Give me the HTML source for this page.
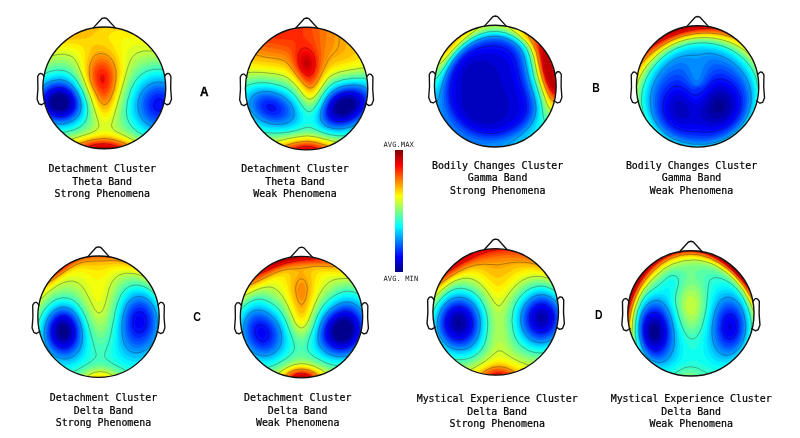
<!DOCTYPE html>
<html lang="en"><head><meta charset="utf-8"><title>EEG topographic maps</title>
<style>
html,body{margin:0;padding:0;background:#fff}
body{width:800px;height:438px;overflow:hidden;position:relative}
svg{display:block;position:absolute;left:0;top:0}
.ct{fill:none;stroke:#1a1a1a;stroke-opacity:.6;stroke-width:.55;stroke-linejoin:round}
.ol{fill:none;stroke:#111;stroke-width:1.35;stroke-linejoin:round;stroke-linecap:round}
.lb{font-family:"DejaVu Sans Mono","Liberation Mono",monospace;font-size:9.92px;fill:#000;stroke:#000;stroke-width:.22px;text-anchor:middle}
.sm{font-family:"DejaVu Sans Mono","Liberation Mono",monospace;font-size:7.1px;fill:#222;letter-spacing:.1px}
.lt{font-family:"Liberation Sans",sans-serif;font-size:12.75px;font-weight:bold;fill:#000}
</style></head><body>
<svg width="800" height="438" viewBox="0 0 800 438">
<defs>
<filter id="bl" x="-5%" y="-5%" width="110%" height="110%"><feGaussianBlur stdDeviation=".7"/></filter>
<clipPath id="hc"><circle cx="0" cy="0" r="60.7"/></clipPath>
<linearGradient id="jet" x1="0" y1="0" x2="0" y2="1">
<stop offset="0" stop-color="#800000"/><stop offset=".125" stop-color="#ff0000"/><stop offset=".375" stop-color="#ffff00"/><stop offset=".5" stop-color="#80ff80"/><stop offset=".625" stop-color="#00ffff"/><stop offset=".875" stop-color="#0000ff"/><stop offset="1" stop-color="#000080"/>
</linearGradient>
</defs>
<rect width="800" height="438" fill="#fff"/>

<g transform="translate(104.3 87.9) scale(1.012 1.003)">
<g clip-path="url(#hc)">
<g filter="url(#bl)">
<rect x="-64" y="-64" width="128" height="128" fill="#00008c"/>
<path fill="#0000a6" d="M64.0 64.3l-128 0.1 -0.4 -0.4 0 -128 0.4 -0.4 128 0 0.4 0.4 -0.1 128zM-41.8 22.0l2.8 -1.3 2.4 -2.7 0.7 -3 -0.5 -3 -2 -3 -2.6 -1.8 -3 -0.7 -4 0.7 -2.7 1.8 -1.5 2 -0.8 3 0.5 3 1.5 2.3 3 2.2 3 0.8z"/>
<path fill="#0000bf" d="M64.0 64.3l-128 0 -0.3 -0.3 -0.1 -128 0.4 -0.4 128 0 0.4 0.4 -0.1 128zM-39.5 23.0l3.5 -2.7 1.6 -3.3 0 -4 -1.8 -4 -2.8 -2.6 -4 -1.5 -4 0.2 -4 1.8 -2.7 3.1 -1 3 0 3 1.7 3.7 2.4 2.3 3.6 1.6 4 0.3z"/>
<path fill="#0000d9" d="M64.0 64.3l-78 0.1 -50 -0.1 -0.3 -0.3 0 -128 0.3 -0.3 128 0 0.3 0.3zM-40.6 25.0l4.1 -2 2.6 -3 1.2 -4 -0.8 -5 -2.5 -4 -4 -2.8 -4 -0.9 -5 0.7 -4 2.5 -2.5 3.5 -1 4 0.7 4 2.7 4 3.1 2.1 5 1.3z"/>
<path fill="#0000f2" d="M64.0 64.3l-77 0.1 -51 -0.1 -0.3 -0.3 0 -128 0.3 -0.3 128 0 0.3 0.3zM-39.1 26.0l2.2 -1 2.5 -2 2.5 -4 0.5 -5 -1.5 -5 -3.2 -4 -4.9 -2.7 -5 -0.4 -5 1.4 -4 3.1 -2.5 4.6 -0.4 5 1.4 4 3.5 3.9 4 2.1 5 0.9z"/>
<path fill="#000dff" d="M64.0 64.3l-76 0.1 -52.3 -0.4 0 -128 0.3 -0.3 128 0 0.3 0.3zM-41.6 28.0l5.6 -2 4 -3.7 1.2 -2.3 0.7 -3 -0.4 -5 -2.5 -5.4 -4 -3.9 -5 -2 -3 -0.2 -3 0.3 -5.2 2.2 -4 4 -2.1 5 0.1 5 2.3 5 3.9 3.6 5 2.1 3 0.4z"/>
<path fill="#0026ff" d="M64.0 64.2l-75 0.2 -53.3 -0.4 0 -128 0.3 -0.3 128.3 0.3zM-40.0 29.0l3 -1 3 -1.7 2 -1.8 1.7 -2.5 1.1 -3 0.4 -3 -1.1 -6 -3.1 -5.3 -2 -2 -3 -2 -3 -1.1 -3 -0.5 -6 0.9 -5 2.6 -4 4.6 -1.9 5.8 0 3 0.7 3 3.2 5 5 3.6 6 1.7zM56.8 24.0l2.2 -1.3 1.9 -2.7 0.5 -2 -0.3 -3 -1.1 -2.1 -2 -2 -2 -1 -3 0 -2.3 1.1 -1.9 2 -1 3 0.2 3 1 2.3 2 2 3 1.1z"/>
<path fill="#0040ff" d="M64.0 64.2l-74 0.2 -54.3 -0.4 0.3 -128.3 128.3 0.3 -0.3 75.9 -2 -2.8 -3 -2.2 -3 -1.1 -4 0.2 -3 1.3 -2.8 2.7 -1.6 3 -0.7 4 0.7 4 1.5 3 2.9 2.8 3 1.3 4 0.3 3 -0.9 3 -2.1 2 -2.8zM-38.8 30.0l2.8 -1 3.2 -2 2.1 -2 1.9 -3 0.9 -3 0.3 -3 -0.4 -3.4 -1.1 -3.6 -1.6 -3 -2.3 -3 -3 -2.5 -3 -1.6 -6 -1.1 -4 0.5 -3 1 -3 1.7 -2.4 2 -3.6 5.1 -1 2.9 -0.4 3 0.2 3 0.9 3 3.4 5 2.9 2.4 3 1.6 3 1.1 4 0.6z"/>
<path fill="#0059ff" d="M64.0 64.2l-128.2 -0.2 0.2 -128.3 128.3 0.3 -0.3 70.8 -3 -2.2 -4 -1.7 -4 -0.3 -4 1.2 -3.3 2.2 -2.4 3 -1.7 4 -0.6 4 0.5 4 1.7 4 2.5 3 3.3 2.3 4 1.2 4 -0.1 4 -1.4 3 -2.3zM-37.7 31.0l3.7 -1.6 3 -2.2 2 -2.3 1.5 -2.9 0.8 -3 0.1 -4 -0.4 -3 -1.4 -4 -2.3 -4 -2.3 -2.6 -3 -2.4 -3 -1.5 -3 -0.8 -4 -0.2 -4 0.7 -3 1.1 -5.3 3.7 -2.5 3 -1.7 3 -1 3 -0.4 4 0.4 3 1.1 3 1.8 3 2.6 2.8 6 3.6 7 1.5 4 -0.2z"/>
<path fill="#0073ff" d="M64.0 64.2l-128.2 -0.2 0.2 -43.1 3.3 5.1 2.7 2.5 3 1.9 6 2.2 7 0.5 7 -1.7 5.1 -3.4 1.9 -2.3 1.5 -2.7 1.1 -6 -1.2 -7 -3.4 -6.7 -5 -5 -3 -1.7 -3 -1 -3 -0.4 -4 0.2 -6 1.9 -3 1.9 -3 2.7 -2.5 3.1 -1.5 2.7 0 -72 128.2 0.3 -0.2 67.4 -5 -2.7 -4 -0.8 -4 0.3 -4 1.6 -3 2.3 -3.1 3.9 -1.6 4 -0.8 5 0.7 5 1.6 4 3.1 4 3.1 2.3 4.6 1.7 4.4 0.3 4 -0.9 4 -2.2z"/>
<path fill="#008cff" d="M64.0 64.2l-128.2 -0.2 0.2 -40 4.4 5 5.6 3.4 7 1.8 7 -0.1 4 -1 3 -1.3 4.9 -3.8 2.9 -5 0.9 -6 -1.2 -7 -3.5 -7.1 -5 -5.4 -3 -1.8 -3 -1.2 -6 -0.6 -7 1.5 -5.9 3.6 -5.1 5.6 0 -68.8 128.2 0.2 -0.2 64.4 -5 -2.2 -4 -0.8 -5 0.5 -4 1.7 -4 3.1 -3 4 -2.1 5.3 -0.7 5 0.5 5 1.9 5 2.9 4 3.6 3 4.9 2.2 5 0.6 5 -0.7 4 -1.9z"/>
<path fill="#00a6ff" d="M64.0 64.2l-128.2 -0.2 0.2 -37.5 5 4.6 6 3.1 7 1.4 7 -0.3 7 -2.5 4.8 -3.8 3 -5 1 -6 -1 -7 -1.5 -4 -2.1 -4 -4.2 -5.3 -3 -2.3 -3 -1.6 -3 -0.9 -4 -0.4 -7 1.1 -6 3 -6 5.5 0 -66.3 128.2 0.2 -0.2 61.8 -5 -2 -5 -0.7 -5 0.7 -5 2.3 -4 3.4 -3.1 4.5 -2.2 6 -0.7 6 0.7 5 1.9 5 3.4 4.7 4 3.3 5 2.3 5 0.9 5 -0.5 5 -1.8z"/>
<path fill="#00bfff" d="M64.0 64.1l-128.2 -0.1 0.2 -35.2 5.3 4.2 6.7 2.9 8 1.1 7 -0.8 6 -2.4 5 -4.1 1.9 -2.7 1.1 -2.7 0.9 -6.3 -1.1 -7 -3.5 -8 -4.5 -6 -2.8 -2.5 -3 -1.7 -3 -1.1 -4 -0.7 -7 0.8 -7 3.1 -6 4.9 0 -64 128.2 0.2 -0.2 59.3 -6 -2 -5 -0.5 -6 1.3 -5 2.7 -4 3.8 -3.4 5.4 -2 6 -0.6 6 0.7 6 1.9 5 3.4 4.8 4 3.5 5 2.6 6 1.4 6 -0.2 5 -1.7z"/>
<path fill="#00d9ff" d="M64.0 64.1l-128.2 -0.1 0.2 -33.1 6 4.2 7 2.5 8 0.8 7 -1.1 6 -2.4 5 -4.1 3 -5.4 1 -6.4 -1.3 -8 -3.7 -8.8 -5 -6.6 -3 -2.6 -3 -1.7 -3 -1.1 -4 -0.7 -7 0.8 -6 2.3 -7 5 0 -61.8 128.2 0.2 -0.2 56.9 -7 -2 -5 -0.2 -6 1.4 -5 2.7 -4.4 4.2 -3.6 5.9 -2.1 6.1 -1 7 0.6 6 2.2 6 3.4 5 4.6 4 5.3 2.8 6 1.6 6 0.1 6 -1.6z"/>
<path fill="#00f2ff" d="M64.0 64.1l-128.1 -0.1 0.1 -31 6.5 4 7.5 2.3 8 0.4 7 -1.2 6.1 -2.5 4.9 -4 3 -5.3 1.1 -6.7 -0.3 -4 -1.1 -5 -3.7 -8.9 -5 -7.2 -3 -2.8 -3 -2 -3 -1.2 -4 -0.9 -7 0.4 -7 2.5 -7 4.6 0 -59.7 128.2 0.2 -0.2 54.5 -7 -1.8 -6 -0.2 -6 1.5 -6 3.6 -4.2 4.4 -3.8 6.7 -2.3 7.3 -0.8 7 0.7 6 2.1 6 3.4 5 4.9 4.4 6 3.2 7 1.9 6 0.2 6 -1.4z"/>
<path fill="#0dfff2" d="M64.0 64.1l-128.1 -0.1 0.1 -28.9 7 3.9 7 1.9 8 0.3 8 -1.4 6.4 -2.8 4.8 -4 2.8 -5 1.2 -7 -0.3 -4 -1 -5 -3.9 -9.9 -5 -7.7 -3 -3.2 -3 -2.2 -3 -1.5 -4 -1 -7 0.1 -7 2.1 -8 4.6 0 -57.5 128.2 0.2 -0.2 52.2 -8 -1.9 -6 0.1 -6 1.6 -6 3.6 -4.9 5.4 -3.8 7 -2.4 8 -0.9 8 0.6 6 2.1 6 3.3 5 5 4.5 7 3.9 7 2.1 7 0.4 6 -1.2z"/>
<path fill="#26ffd9" d="M64.0 64.1l-128.1 -0.1 0.1 -26.7 7 3.5 8 1.8 9 -0.1 8 -1.8 6 -2.7 4.6 -4 2.7 -5 1 -7 -1.2 -9 -3.6 -10 -5.5 -9.2 -3 -3.5 -3 -2.5 -3 -1.7 -4 -1.3 -7 -0.2 -7 1.8 -9 4.7 0 -55.3 128.1 0.2 -0.1 49.7 -9 -1.7 -6 0.2 -7 2.1 -5.5 3.7 -4.5 5.1 -4.2 7.9 -2.7 9 -1.1 9 0.8 7 2.2 5.8 3.9 5.2 4.8 4 7.3 4 7 2.3 7 0.8 7 -1z"/>
<path fill="#40ffbf" d="M64.0 64.1l-128.1 -0.1 0.1 -24.3 7 3.1 8 1.5 9 -0.3 9 -2 6.6 -3 4.5 -4 2.5 -5 0.9 -7 -0.4 -5 -1 -5 -4.1 -10.9 -6 -10.2 -3 -3.6 -3 -2.5 -3 -1.7 -3 -1.1 -7 -0.5 -7 1.5 -10 4.7 0 -52.8 128.1 0.1 -0.1 47.3 -9 -1.7 -7 0.3 -7 2.2 -6 4.2 -5 6.3 -4 8.4 -3 10.5 -1 9.5 0.7 6 2.2 6 3.9 5 4.9 4 8.3 4.5 8 2.9 7 1 7 -0.7z"/>
<path fill="#59ffa6" d="M64.0 64.0l-128.1 0 0.1 -21.8 8 3 8 0.9 10 -0.8 9 -2.3 6.4 -3 4.4 -4 2.3 -5 0.7 -6 -0.3 -5 -0.9 -5 -3.8 -11 -3.4 -7 -3.4 -5.8 -3 -4 -3 -2.9 -3 -2 -3 -1.2 -3 -0.7 -4 -0.1 -7 1.3 -11 4.6 0 -50.3 128.1 0.1 -0.1 44.6 -10 -1.5 -7 0.3 -7 2.3 -6 4.2 -5 6.6 -4.4 9.5 -3.4 12 -1.2 10 0.3 5 1.3 5 2.3 4 2.7 3 8.6 6 11.8 5.5 9 2.1 8 -0.3z"/>
<path fill="#73ff8c" d="M64.0 64.0l-128.1 0 0.1 -19.1 8 2.5 8 0.6 10 -1.1 10.7 -2.9 6.6 -3 3.7 -3.2 2.4 -4.8 0.7 -6 -0.2 -5 -1.1 -6 -4 -12 -6.8 -13.5 -4 -5.7 -3 -3 -3 -2 -3 -1.2 -7 -0.7 -7 1.4 -11 4.2 0 -47.6 128.1 0.1 -0.1 41.8 -11 -1.3 -7 0.3 -4 1 -4 1.8 -5.6 4.4 -4.8 7 -4.6 11 -3.8 14 -1.2 11 0.4 5 1.2 4 1.8 3 3 3 9.2 6 14.4 6.9 8 2.2 4 0.3 4 -0.3z"/>
<path fill="#8cff73" d="M64.0 64.0l-128.1 0 0.1 -16 8 1.8 8 0.1 12 -1.9 11 -3.2 6.2 -2.8 3.7 -3 2.1 -4 0.7 -6 -1.4 -11 -3.8 -12 -8.5 -18 -3 -4.7 -3 -3.5 -3 -2.3 -3 -1.4 -3 -0.7 -4 -0.2 -6 0.9 -13 4.4 0 -44.6 128.1 0.1 -0.1 38.8 -13 -1.3 -7 0.6 -7 2.5 -3 2 -3 3 -2.5 3.4 -2.5 4.7 -5 13.5 -3.9 14.8 -1.4 12 0.4 4 1.3 4 2.4 3 3.8 3 14.4 8.2 12 5.8 7 2 7 0.3z"/>
<path fill="#a6ff59" d="M60.0 64.0l-124 0 0 -12.5 8 1 9 -0.7 13 -2.8 12 -3.7 5.3 -2.3 3.9 -3 1.7 -3 0.6 -5 -1.6 -12 -3.7 -12 -9.2 -20.9 -3 -5.6 -3 -4.1 -2 -1.9 -3 -1.8 -3 -1 -4 -0.4 -6 0.6 -15 4.2 0 -41.2 128.1 0.1 -0.1 35.4 -15 -1.1 -7 0.7 -4 1.2 -3 1.5 -5 4.5 -2.6 3.8 -2.4 5.1 -5 14.4 -4.7 17.5 -2 13 0.1 3 0.7 3 1.9 2.8 2.5 2.2 31.5 17.7 5 2.1z"/>
<path fill="#bfff40" d="M49.0 64.0l-113 0 0 -8.4 7 0 8 -1.3 29.3 -8.3 5.7 -2.4 3.7 -2.6 1.8 -3 0.4 -3 -2.1 -12 -3.9 -13 -11.9 -28.7 -2 -3.9 -2.4 -3.4 -4.6 -3.4 -3 -1 -4 -0.5 -5 0.4 -7 1.9 -10 1.7 0 -37.2 128 0.1 0 31.3 -5 -0.5 -8 0.4 -5 -0.5 -6 0.5 -6 2.2 -3 2.2 -2 2.2 -3.5 6.2 -3.5 9.9 -7.6 26.1 -4 18 0 3 0.6 2 1.3 2 2.3 2 22.2 12 12.9 9z"/>
<path fill="#d9ff26" d="M44.0 64.0l-108 0 0 -2.8 8 -2 18.2 -6.2 19.5 -6 7.8 -3 4.3 -3 1.2 -2 0.2 -2 -7.9 -26 -8 -20 -5.3 -14.9 -3 -5.3 -2 -1.9 -3 -1.7 -6 -1.3 -5 0.1 -6 1.4 -7 0.2 -6 0.8 0 -32.4 128 0 0 26.3 -7 -0.4 -9 1.1 -6 -0.6 -6 0.6 -3 0.9 -3 1.8 -3.6 4.3 -2.8 7 -6.3 24 -10.7 36 0.6 3 3 3 17.8 8.6 6 3.4 8.1 6 2.8 3z"/>
<path fill="#f2ff0d" d="M1.0 34.1l-2 -0.6 -1 -0.8 -2 -2.6 -2 -3.9 -13.5 -35.2 -5.5 -19.6 -2.6 -4.4 -4.2 -3 -5.2 -1.3 -5 -0.2 -7 1 -8 -0.9 -7 0 0 -26.6 128 0 0 19.1 -10 0.4 -10 2.3 -8 -0.9 -5 0.4 -4 1.5 -3 3.2 -2 6.3 -2.3 15.7 -2 10 -6.7 23.3 -2.8 7.7 -2.2 4.6 -3 3.6zM41.0 64.0l-95.1 0 6.7 -5 8.6 -4 8.8 -3.2 19.1 -5.8 8.9 -3.3 3 -0.5 4 1.1 13 5.2 11 5.1 7.9 5.4 3 3z"/>
<path fill="#fff200" d="M1.0 29.0l-3 -1.1 -3 -3.9 -10.9 -26 -4.1 -13 -2.7 -17 -1.9 -4 -3.4 -2.8 -4 -1.4 -6 -0.7 -8 0.5 -18 -5 0 -18.6 128 0 0 5 -9 2.2 -7 2.3 -6 2.6 -5.3 2.9 -7.8 -1 -4.9 -0.1 -4 0.9 -2.7 2.2 -0.8 2 -0.1 3 1.5 12 0.3 8 -0.6 8 -1.4 8 -3.7 14 -4.5 12.9 -3 5.4 -2 2zM38.0 64.0l-85.6 0 2.4 -3 2.6 -2 10.1 -5 21.5 -6.5 7 -1.8 4 -0.5 4 0.4 6 1.6 9 3.1 6 2.6 8.2 5.1 3.1 3z"/>
<path fill="#ffd900" d="M1.0 25.2l-3 -1.1 -3 -3.7 -6 -13 -5.3 -13.4 -2.6 -11 -0.4 -6 0.1 -12 -0.6 -3 -1.1 -2 -2.3 -2 -3.8 -1.5 -7 -1 -8 0.4 -5.5 -2.9 -5.5 -4 -3.8 -4 -2.4 -4 -1.7 -5 83.7 0 -1.5 7 -6.3 -0.1 -5 0.8 -4 2 -1.6 2.3 -0.1 2 0.6 2 6.2 10 3.1 7 1.5 7 0.3 8 -1.8 13 -4.7 16 -2.5 5.9 -2 3.4 -2 2zM35.0 64.0l-78.3 0 2 -3 2.3 -2 9 -4.6 16 -4.9 9 -2 5 -0.5 5 0.5 5 1.1 7 2.2 7 2.9 4.1 2.3 3.9 3 2.6 3 1 2z"/>
<path fill="#ffbf00" d="M-23.0 -49.0l-14 1 -1 -0.6 -3.5 -3.4 -1.5 -3 -0.1 -4 1.4 -3 1.9 -2 35.8 0 4 3 -7.2 4 -5.8 5.5 -2 1.3 -3 0.8zM2.0 21.4l-2 0.3 -2 -1 -2 -2.1 -2 -3.2 -7.8 -17.4 -2 -6 -1.3 -6 -0.3 -9 2 -10 3.4 -7.6 2 -1.9 2 -0.7 3 0.1 4 1.2 4 2.2 3 2.4 3 3.4 2 3.2 1.5 3.7 1.3 5 0.5 5 -0.2 6 -2.5 13 -4.6 13 -2.4 4zM33.0 64.0l-72.7 0 1.7 -3 2.2 -2 3.1 -2 5.7 -2.6 14 -4.1 8 -1.5 5 -0.4 5 0.4 5 1 6 1.8 6 2.4 4 2.2 3.8 2.8 2.5 3z"/>
<path fill="#ffa600" d="M-25.0 -54.9l-2 0.3 -0.7 -0.4 0.8 -1 1.9 -1.1 4 -0.5 0.5 0.6zM2.0 18.0l-2 0.4 -2 -0.9 -2 -2 -2 -3.1 -6.7 -14.4 -1.9 -6 -1 -5 -0.1 -8 0.7 -4.1 1.4 -3.9 1.6 -2.9 2 -2.3 2 -1.5 3 -1 3 0.1 3 0.8 3 1.8 2.3 2 2.4 3 1.6 3 1.4 4 0.7 4 -0.1 10 -2.3 11 -4 10.3 -2 3zM30.0 64.0l-66.7 0 1.5 -3 2.2 -2 7.6 -4 13.4 -3.9 7 -1.2 5 -0.2 5 0.3 6 1.2 10 3.6 4 2.2 3.6 3 1.9 3 0.3 1z"/>
<path fill="#ff8c00" d="M1.0 15.2l-2 -0.2 -2 -1.4 -4 -5.7 -5 -11.3 -2.2 -9.6 0.1 -7 2.1 -6.4 2 -2.9 1.9 -1.7 4.1 -1.6 2 0 3 0.8 3 1.7 2 2 3.1 5.1 1.8 7 -0.1 9 -2.2 10 -3.6 8.4 -2 2.6zM28.0 64.0l-62 0 1.5 -3 2.1 -2 7.4 -3.8 12 -3.3 11 -1.2 10 1.3 10 3.5 4 2.3 2.5 2.2 1.8 3 0.2 1z"/>
<path fill="#ff7300" d="M0.0 12.1l-2 -0.7 -2 -1.8 -4 -6.5 -3.3 -8.1 -1.5 -8 0.4 -6 1.8 -5 1.6 -2.2 2 -1.7 4 -1.3 4 0.8 2 1.2 2.3 2.2 2.8 5 1.4 7 -0.4 8 -2.4 9 -3.2 6 -1.5 1.4zM26.0 64.0l-57.4 0 0.6 -2 1.7 -2 2.8 -2 4.1 -2 11.2 -3.2 10 -1.1 10 1.1 9 2.9 4 2.3 2.4 2 1.4 2 0.6 2z"/>
<path fill="#ff5900" d="M2.0 8.0l-1 0.6 -2 0.2 -2 -1.2 -2 -2.3 -3.9 -7.3 -2 -7 -0.3 -6 1.1 -5 2.8 -4 3.3 -1.8 4 0.3 3 1.8 2.8 3.7 1.7 5 0.4 6 -0.9 6.7 -2 6zM24.0 64.0l-53 0 0.6 -2 1.7 -2 5.7 -3.3 10 -3 10 -1 9 0.9 8 2.4 3.8 2 2.5 2 1.5 2z"/>
<path fill="#ff4000" d="M1.0 5.1l-1 0.4 -2 -0.4 -3 -3 -3 -6 -1.3 -5.1 -0.2 -5 1.1 -4 2.4 -3.4 3 -1.3 3 0.5 3 2.3 2 3.5 1 4 0.1 5.4 -0.9 5 -2.2 5zM22.0 64.0l-48.6 0 0.5 -2 1.8 -2 5.3 -3 9 -2.5 9 -0.9 9 0.9 7.6 2.5 4.6 3 1.5 2z"/>
<path fill="#ff2600" d="M0.0 1.5l-2 -0.1 -2 -1.8 -2.1 -3.6 -1.3 -5 -0.1 -3 0.6 -3 1.9 -3 2 -1 2 0.1 2.7 1.9 1.3 2.1 1.1 3.9 0 4 -0.8 4 -1.3 2.7zM20.0 64.0l-44.3 0 1.3 -3 2.5 -2 2.5 -1.2 8 -2.4 9 -0.9 8 0.8 7 2.2 2.7 1.5 2.3 2 1 2z"/>
<path fill="#ff0d00" d="M-1.0 -3.6l-1 -0.2 -1 -0.8 -1 -1.8 -0.6 -2.6 0.6 -3.6 1 -1.1 1 -0.3 2 1.1 0.9 1.9 0.4 2 -0.4 3 -0.9 1.8zM17.0 64.0l-39 0 0.5 -2 0.8 -1 5 -3 7.3 -2 7.4 -0.6 7 0.6 6.4 2 4.4 3 1 2 0.1 1z"/>
<path fill="#f20000" d="M15.0 64.0l-34.5 0 0.5 -2 0.8 -1 3.2 -2 6.5 -2 7.5 -0.7 6.7 0.7 5.9 2 1.7 1 1.9 2 0.4 2z"/>
<path fill="#d90000" d="M13.0 64.0l-29.9 0 0.4 -2 1 -1 3.5 -1.9 5 -1.3 6 -0.5 6 0.7 4 1.2 3 1.9 1.2 1.9z"/>
<path fill="#bf0000" d="M10.0 64.0l-24.1 0 0 -1 1.7 -2 3.4 -1.5 4 -0.9 5 -0.2 4.2 0.6 3.8 1.4 2 1.6 0.4 1 0 1z"/>
<path fill="#a60000" d="M7.0 64.0l-17.6 0 -0.1 -1 0.7 -1 3 -1.5 3 -0.6 4 -0.1 5.1 1.2 1.5 1 0.5 1z"/>
<path fill="#8c0000" d="M1.0 64.0l-5.9 0 -0.4 -1 1.9 -1 3.4 0 1.8 1z"/>
</g>
<path class="ct" d="M-42.3 29.0l3.3 -0.6 3 -1.3 4 -3.2 1.3 -1.9 1.2 -3 0.4 -3 -0.3 -3 -0.8 -3 -1.5 -3 -2.3 -2.9 -2 -1.8 -3 -1.6 -3 -0.9 -6 0 -5.4 2.2 -4.3 4 -2.4 5 -0.5 3 0.3 3 2.2 5 4.1 4 3 1.7 3 0.9 5.7 0.4M57.2 22.0l1.2 -1 1.2 -2 0.2 -2 -0.8 -2.8 -1 -1.3 -2 -1.3 -2 -0.2 -2 0.6 -2 2 -0.7 2 0 2 0.7 2 1 1.3 2 1.2 2 0.2 2.2 -0.7M-64.0 27.5l5.2 4.5 6.8 3.1 7 1.2 7 -0.7 6.8 -2.6 4.8 -4 2.7 -5 1 -6 -1.3 -7.7 -3.3 -7.3 -4.7 -5.9 -3 -2.4 -3 -1.5 -3 -0.9 -4 -0.5 -7 1.2 -6 2.9 -6 5.2M64.0 -3.3l-6 -2.1 -5 -0.5 -5 1 -5 2.5 -4 3.7 -3.1 4.7 -2.1 6 -0.7 6 0.9 6 2 4.9 3 4.2 4 3.4 5 2.5 5 1.1 6 -0.3 5 -1.8M64.0 -17.1l-9 -1.6 -7 0.2 -7 2.2 -6 4.1 -5 6.3 -4 8.3 -3.1 10.6 -1.1 10 0.5 6 2.2 6 3.8 5 4.9 4 8.8 4.8 8 2.9 7 1 7 -0.7M-64.0 40.0l8 3.4 8 1.2 9 -0.5 9 -2.2 6.1 -2.9 4.3 -4 2.4 -5 0.9 -7 -0.4 -5 -1.1 -5 -4.1 -11 -6.1 -10.4 -3 -3.5 -3 -2.6 -3 -1.7 -3 -1.1 -7 -0.5 -7 1.5 -10 4.7M64.0 -36.9l-7 -0.4 -8 0.9 -6 -0.5 -5 0.3 -6 2 -4 3.5 -2 3.2 -2.3 5.9 -16.4 58 -0.1 2 0.7 2 3 3 23.5 12 5.8 4 5.3 5M-64.0 60.2l9 -1.8 41.6 -13.4 4 -2 2.5 -2 1.3 -2 0.3 -2 -1.1 -5 -6.4 -21 -13.2 -34 -3.5 -6 -2.3 -2 -2.2 -1.2 -6 -1.4 -5 0.1 -7 1.6 -6 0.1 -6 0.9M2.0 16.1l-2 0.5 -2 -0.8 -2 -2 -2 -3 -6 -12.8 -1.9 -6 -0.9 -5 0 -7 1.9 -7 1.9 -3.2 2 -2 2 -1.3 3 -0.8 5 0.9 3 1.7 2 1.8 2 2.6 1.7 3.3 1.8 7 0 9 -2 10 -3.5 9.1 -2 3.2 -2 1.8M-35.1 64.0l1.5 -3 2.1 -2 7.5 -3.9 13 -3.6 11 -1.2 10 1.3 10 3.4 6.4 4 1.8 2 1.3 3M-1.0 -6.7l-1 0.1 -1 -2 0 -1.4 1 -1.2 1 0.4 0.6 1.8 -0.6 2.3M-21.3 64.0l0.5 -2 0.8 -1 5 -2.9 7 -1.9 7 -0.6 7 0.7 6 1.9 4.1 2.8 0.9 1.4 0.2 1.6"/>
</g>
<g class="ol">
<circle cx="0" cy="0" r="60.7"/>
<path d="M10.9 -59.8L2.4 -69.2L0 -69.9L-2.4 -69.2L-10.9 -59.8"/>
<path d="M59.4 -11.6L61.9 -14.3L62.9 -14.4L64.3 -13.9L65.8 -11.6L65.6 .7L66.4 11.3L64.6 15.9L61.9 16.8L58.6 14.6"/>
<path d="M-59.4 -11.6L-61.9 -14.3L-62.9 -14.4L-64.3 -13.9L-65.8 -11.6L-65.6 .7L-66.4 11.3L-64.6 15.9L-61.9 16.8L-58.6 14.6"/>
</g>
</g>
<g transform="translate(306.6 88.6) scale(1.008 1.01)">
<g clip-path="url(#hc)">
<g filter="url(#bl)">
<rect x="-64" y="-64" width="128" height="128" fill="#00008c"/>
<path fill="#0000a6" d="M64.0 64.4l-128 0 -0.4 -0.4 0 -128 0.4 -0.4 128 0 0.4 0.4 0 128zM38.1 25.0l2.9 -1 3 -2 3 -3.8 0.6 -2.2 -0.2 -2 -1.2 -2 -1.3 -1 -3.9 -0.9 -5 0.9 -4 2.5 -2.6 3.5 -0.5 2 0 2 0.8 2 1 1 3.3 1.3z"/>
<path fill="#0000bf" d="M64.0 64.3l-128 0 -0.3 -0.3 -0.1 -128 0.4 -0.4 128 0 0.4 0.4 -0.1 128zM37.4 27.0l3.6 -1.1 3.4 -1.9 2.6 -2.3 1.9 -2.7 1.1 -3 -0.3 -3 -1.1 -2 -2.6 -1.9 -5 -0.9 -5 1 -4.9 2.8 -3.2 4 -0.9 2.1 -0.3 2.9 0.4 2 1.2 2 1.7 1.3 2 0.7z"/>
<path fill="#0000d9" d="M64.0 64.3l-128 0 -0.3 -0.3 -0.1 -128 0.4 -0.4 128 0.1 0.3 0.3 0 128zM39.8 28.0l4.2 -1.9 3 -2.1 3 -3.3 1.8 -3.7 0.3 -3 -0.9 -3 -2.2 -2.4 -3 -1.4 -6 -0.4 -4 0.9 -3 1.3 -3 2 -2 2 -2.7 5 -0.4 3 0.1 2 1 2.4 2 2 2 1 3 0.5 3 -0.1z"/>
<path fill="#0000f2" d="M64.0 64.3l-128 0 -0.3 -0.3 -0.1 -128 0.4 -0.4 128 0.1 0.3 0.3 0 128zM37.9 30.0l5.1 -1.8 4 -2.4 3.2 -2.8 2.7 -4 1.1 -4 -0.3 -3 -1.5 -3 -3.2 -2.5 -3 -1 -4 -0.3 -7 1.4 -3 1.4 -3 2.2 -2.6 2.8 -1.8 3 -1.2 4 -0.1 3 0.9 3 1.6 2 2.2 1.4 3 0.9 3 0.2z"/>
<path fill="#000dff" d="M64.0 64.3l-128.3 -0.3 -0.1 -128 0.4 -0.4 128 0.1 0.3 0.3zM39.4 31.0l5 -2 4.6 -3 3.9 -4 2.2 -4 0.7 -4 -0.8 -4 -2.2 -3 -3.8 -2.2 -4 -0.8 -4 0 -4 0.7 -4 1.4 -3.2 1.9 -2.8 2.4 -2.1 2.6 -2 4 -1 4 0 3 1 3 2.1 2.6 2.5 1.4 3.5 0.8 4 0z"/>
<path fill="#0026ff" d="M64.0 64.3l-128.3 -0.3 0 -128 0.3 -0.3 128.3 0.3zM36.4 33.0l5.6 -1.5 6 -3.1 5 -4.3 2.9 -4.1 1.6 -5 -0.3 -4 -2.1 -4 -3.1 -2.5 -4 -1.4 -4 -0.5 -4 0.3 -4.7 1.1 -4.3 1.9 -3 2 -3 3.1 -2 3 -1.7 4 -0.8 4 0.3 4 1.4 3 2.8 2.5 3 1.2 4 0.6zM-32.5 23.0l1.5 -0.5 1.3 -1.5 0 -2 -1.4 -2 -1.9 -1.4 -3 -0.9 -2.5 0.3 -1.5 1 -0.6 2 1.7 3 2.9 1.7z"/>
<path fill="#0040ff" d="M64.0 64.3l-128.3 -0.3 0 -128 0.3 -0.3 128.3 0.3zM37.9 34.0l6.1 -2 6 -3.4 4.9 -4.6 3.1 -5 1.2 -5 -0.4 -4 -2.3 -4 -4.2 -3 -4.3 -1.3 -4 -0.3 -5 0.5 -5 1.4 -4 1.9 -3.7 2.8 -2.6 3 -2.4 4 -1.7 5 -0.4 4 0.7 4 1.9 3 2.8 2 3.4 1.2 5 0.4zM-28.5 26.0l2.8 -2 1 -3 -1.3 -3.6 -3 -3.1 -4.6 -2.3 -4.4 -0.7 -3.6 0.7 -2.5 2 -0.9 2 0.4 3 1.6 2.8 2 1.9 3 1.7 3 0.9 3 0.3z"/>
<path fill="#0059ff" d="M64.0 64.2l-128.2 -0.2 -0.1 -128 0.3 -0.3 128.3 0.3zM39.0 35.0l7 -2.5 5.6 -3.5 5.1 -5 3 -5 1.2 -5 -0.7 -5 -2.4 -4 -4.8 -3.2 -5 -1.3 -5 -0.2 -6 0.9 -5 1.7 -4 2.3 -3.2 2.8 -2.8 3.7 -2.3 4.3 -1.5 5 -0.2 5 1 3.6 2 2.7 3 2 5 1.4 5 0.1zM-29.1 29.0l3.1 -0.8 2 -1 1.3 -1.2 1.1 -2 0.1 -4 -1.4 -3 -1.6 -2 -5.5 -4 -6 -1.9 -3 -0.2 -3 0.4 -4 2.1 -1.7 2.6 -0.4 3 0.8 3 2.3 3.3 3.2 2.7 3.8 1.9 4.6 1.1z"/>
<path fill="#0073ff" d="M64.0 64.2l-128.2 -0.2 -0.1 -128 0.3 -0.3 128.3 0.3zM34.5 37.0l7.5 -1.6 7 -3.1 6 -4.4 4.9 -5.9 2.4 -6 0.2 -5 -1.9 -5 -1.6 -2 -2.5 -2 -3.5 -1.7 -5 -1.1 -5 0 -6 0.9 -5 1.7 -4 2.1 -3.6 3.1 -3.1 4 -2.6 5 -1.8 6 -0.2 5 1.3 3.9 2.7 3.1 3.3 1.8 5 1.2zM-27.1 31.0l3.1 -0.8 2.3 -1.2 2.1 -2 1 -2 0.3 -3 -0.7 -2.8 -1.1 -2.2 -2.3 -3 -5.6 -4.1 -4 -1.7 -4 -1 -4 -0.3 -3 0.4 -3 1.1 -2.3 1.6 -2 3 -0.4 4 1.2 4 3.1 4 4 3 4.4 2 5 1.1z"/>
<path fill="#008cff" d="M64.0 64.2l-128.2 -0.2 0.2 -128.3 128.2 0.3 -0.2 73.9 -1.4 -3.9 -2.3 -3 -2.6 -2 -3.7 -1.8 -4 -0.9 -5 -0.3 -6 0.6 -5 1.3 -7 3.5 -3 2.6 -2.5 3 -2.4 4 -2.2 5 -1.1 4 -0.4 4 0.3 3 1.2 3 2.1 2.5 3 2 4 1.3 4 0.5 4 0 5 -0.8 9 -3.2 7.8 -5.3 5.2 -6 2 -4 1 -3.3zM-26.8 33.0l3.8 -0.8 3 -1.3 2.4 -1.9 1.6 -3 0.3 -3 -0.6 -3 -1.9 -4 -2.5 -3 -3.3 -2.8 -4 -2.2 -5 -1.9 -4 -0.8 -4 -0.1 -4 0.6 -3 1.2 -2.6 2 -2.3 4 -0.3 4 1.8 5 3.2 4 4.2 3.2 6 2.7 6 1.2z"/>
<path fill="#00a6ff" d="M64.0 64.2l-128.2 -0.2 0.2 -128.3 128.2 0.3 -0.2 69.1 -2.4 -3.1 -2.6 -2 -4 -1.8 -4 -1 -5 -0.4 -5 0.4 -5 1 -5 1.7 -6 3.8 -5.2 6.3 -4.3 9 -1.1 4 -0.4 4 0.4 3 1.3 3 1.6 2 2.8 2 2.9 1.3 4 0.9 4 0.4 5 -0.3 8.9 -2.3 7.8 -4 7.1 -6 4.2 -6.2zM-21.9 34.0l2.9 -1 3 -2 2.2 -3 0.6 -3 -0.6 -4 -1.6 -4 -2.6 -3.8 -3 -2.9 -3.4 -2.3 -4.6 -2.2 -5 -1.5 -5 -0.8 -4 0.1 -4 0.9 -3.3 1.5 -2.7 2.3 -1.7 2.7 -0.6 2 0 5 2.1 5 4.4 5 5.8 3.8 7 2.4 7 0.7z"/>
<path fill="#00bfff" d="M64.0 64.2l-128.2 -0.2 0.2 -128.3 128.2 0.3 -0.2 66.2 -2.3 -2.2 -3.7 -2.2 -4 -1.3 -4 -0.7 -5 -0.1 -5 0.5 -5 1.1 -5 1.9 -6 4.1 -5.3 6.7 -4.6 10 -1.1 4 -0.4 4 0.5 3 1.4 3 1.7 2 2.8 2 3 1.3 4 1 8 0.4 9 -1.7 8 -3.4 7.9 -5.6 5.1 -5.9zM-22.3 36.0l4.3 -1.2 3.4 -1.8 2.6 -2.9 1 -3.1 -0.2 -4 -1.7 -5 -2.4 -4 -3.5 -4 -4.2 -3.1 -5 -2.4 -5 -1.6 -6 -0.9 -5 0.1 -4 0.8 -4 1.8 -2.7 2.3 -1.5 2 -1.3 3 -0.4 3 0.3 3 2 5 4.6 5.5 6 4.2 7 2.7 8 1.2z"/>
<path fill="#00d9ff" d="M64.0 64.2l-128.2 -0.2 0.2 -128.2 128.2 0.2 -0.2 63.8 -3 -2.1 -4 -1.8 -4 -0.9 -5 -0.5 -5 0.2 -6 1 -5 1.5 -3.8 1.8 -3.2 2.1 -3 2.9 -4.8 7 -4.6 10 -1.1 4 -0.4 4 0.5 3 0.9 2 1.5 2 3 2.4 3.3 1.6 3.7 1.1 9 0.8 9 -1.3 8 -2.9 7.7 -4.7 6.3 -6.1zM-24.7 38.0l5.8 -1 5.2 -2 2.7 -2 2 -3.4 0.2 -4.6 -1.4 -5 -2.8 -5.5 -3.5 -4.5 -3.5 -3 -5 -2.9 -6 -2.2 -6 -1.2 -6 -0.3 -5 0.7 -4.9 1.9 -3.1 2.3 -3.2 4.7 -0.9 3 -0.1 3 1.6 6 4.2 6 6.4 5 7 3.2 8 1.8z"/>
<path fill="#00f2ff" d="M64.0 64.2l-128.2 -0.2 0.2 -128.2 128.2 0.2 -0.2 61.7 -4 -2.2 -4 -1.3 -9 -0.8 -11 1.5 -5 1.6 -4 2 -3 2.2 -3 3.1 -4.8 7.2 -5.6 12 -1.1 4 -0.3 3 0.7 3 1.1 2 1.8 2 3.2 2.3 7 2.8 9 1 9 -0.9 8 -2.5 8 -4.3 7 -5.9zM-20.5 39.0l6.5 -1.7 4 -2.1 2.9 -3.2 0.9 -3 -0.7 -5 -2.4 -6 -3.6 -6 -4.1 -4.6 -4.9 -3.4 -5.1 -2.3 -7 -2 -6 -0.8 -6 0.2 -5 1.1 -4 1.8 -3.7 3 -2.1 3 -1.3 3 -0.5 3 0.1 3 1 4 1.4 3 2.1 3 3 3.2 7 4.9 4.2 1.9 4.8 1.5 9 1.2z"/>
<path fill="#0dfff2" d="M64.0 64.1l-128.1 -0.1 0.1 -42.5 1.7 3.5 2.2 3 2.9 3 3.8 3 8.4 4.4 9 2.3 11 0.3 6 -0.8 5.2 -1.2 4.9 -2 2.9 -2 1.8 -2 1 -3 -0.4 -3 -2 -5 -3.7 -7 -3.7 -5.5 -3 -3.2 -3 -2.3 -8 -3.9 -6 -1.7 -6 -0.9 -6 -0.1 -5 0.7 -5 1.8 -3.5 2.1 -3.1 3 -2.4 4.1 0 -73.3 128.2 0.2 -0.2 59.7 -4 -1.8 -4 -1.1 -9 -0.6 -11 1.5 -5 1.6 -4 1.9 -5 4.1 -5 6.7 -7.4 14 -2.1 5 -0.7 3 0.5 3 1.1 2 3 3 3 2 7.6 3 9 1.3 9 -0.6 8 -2.1 9 -4.3 7 -5.2z"/>
<path fill="#26ffd9" d="M4.0 27.1l-2 0.8 -1 -0.3 -2 -2 -9.2 -14.6 -5.1 -6 -4.7 -3.5 -7 -3 -6 -1.6 -6 -0.9 -5 -0.2 -5 0.5 -4 0.9 -4.5 1.8 -3.5 2.3 -3 3 0 -68.5 128.1 0.2 -0.1 57.8 -4 -1.5 -4 -0.9 -10 -0.4 -11 1.8 -8 3.2 -4 2.9 -4 4.5 -11 18.5zM64.0 64.1l-128 0 0 -37 5.6 5.9 7.7 5 8.7 3.2 9 1.4 9 -0.3 9 -1.4 6.3 -1.9 8.7 -4.5 2 -0.5 2 0.8 7.5 5.2 7.5 3.3 9 1.9 10 0.1 7 -1.2 6.4 -2.1 6.6 -3.3 6 -4.1z"/>
<path fill="#40ffbf" d="M4.0 23.0l-2 0.4 -3 -1.7 -3 -3.6 -7 -10.3 -5 -5.3 -4 -2.7 -6 -2.6 -11 -2.5 -6 -0.4 -5 0.2 -5 0.8 -4 1.3 -4 2.1 -3 2.2 0 -65.1 128.1 0.2 -0.1 55.9 -8 -1.9 -9 -0.3 -11 1.7 -8 2.7 -4 2.6 -4 4 -12 18.6 -2 2.3zM64.0 64.1l-128 0 0 -32.6 6 4.8 8 4.3 8 2.5 8 0.9 8 -0.2 8 -1 8 -1.7 9 -2.8 3 -0.3 3 0.6 9.9 4.4 7.1 2.2 8 1.3 8 0.1 7 -0.9 6 -1.7 6.8 -3 6.2 -3.8z"/>
<path fill="#59ffa6" d="M4.0 20.3l-2 0.2 -3 -1.6 -3 -3.4 -6.7 -9.5 -3.3 -3.6 -5 -3.9 -6 -2.6 -11 -2.6 -11 -0.5 -9 1.4 -4 1.5 -4 2.2 0 -62.1 128.1 0.2 -0.1 54 -8 -1.5 -9 0 -11 1.6 -8 2.7 -4 2.5 -3.8 3.7 -11.2 16.8 -3 3.3zM64.0 64.1l-128 0 0 -28.6 5.3 3.5 5.7 2.8 6 2.1 6 1.2 8 0.4 9 -0.6 10 -1.5 12 -2.8 4 -0.4 4 0.8 16 5.3 7 1.2 6 0.5 8 -0.4 7 -1.4 7 -2.5 7 -3.7z"/>
<path fill="#73ff8c" d="M3.0 18.1l-2 -0.3 -3 -2.2 -8.7 -11.6 -4.3 -4.4 -4 -2.9 -5 -2.2 -11 -2.6 -11 -0.8 -10 1.1 -8 3 0 -59.4 128.1 0.2 -0.1 52.1 -8 -1.2 -9 0.2 -11 1.7 -8 2.6 -4 2.5 -3 2.7 -3.5 4.4 -9.5 14 -3 2.5zM64.0 64.1l-128 0 0 -24.5 5 2.6 6 2.3 5.4 1.5 5.6 0.8 7 0.3 8 -0.6 10.7 -1.5 13.3 -2.6 5 -0.4 5 0.8 17 5 13 1.6 7 -0.2 7 -1.2 7 -2.3 6 -2.7z"/>
<path fill="#8cff73" d="M5.0 15.5l-3 0.4 -3 -1.6 -3 -3.2 -6.8 -9.1 -3.2 -3.4 -5 -3.7 -5 -2.3 -10 -2.2 -12 -1.1 -10 0.9 -8 2.3 0 -56.6 128.1 0.1 -0.1 50.1 -8 -0.8 -10 0.5 -11 1.9 -8 2.8 -4 2.6 -3 3 -10 14.6 -3 3.4zM64.0 64.1l-128 0 0 -20.4 6 2.3 6 1.7 6 0.9 6 0.2 11 -0.7 26 -4.3 6 -0.3 5 0.9 18 4.8 8 1.3 7 0.5 6 -0.3 6 -0.9 11 -3.5z"/>
<path fill="#a6ff59" d="M3.0 14.0l-2 -0.4 -3 -2.3 -8 -10.3 -5 -5.2 -4 -2.8 -4 -1.9 -10 -2.4 -12 -1.1 -10 0.4 -9 1.9 0 -54 128.1 0.1 -0.1 47.9 -9 -0.4 -10 0.9 -11 2 -7 2.5 -4 2.6 -3 3 -12 16.8 -3 2.3zM64.0 64.0l-128 0 0 -15.8 11 2.4 11 0.3 10 -1.1 26 -4.4 7 -0.6 7 0.8 21 5.3 12 1.8 6 0.2 6 -0.4 11 -2.5z"/>
<path fill="#bfff40" d="M4.0 12.0l-2 -0.1 -3 -1.7 -9 -11.1 -4 -4.2 -4 -3.2 -5 -2.6 -9 -2.1 -13 -1.3 -10 0.1 -9 1.4 0 -51.3 128.1 0.1 -0.1 45.5 -9 0.1 -10 1.1 -11 2.1 -7 2.4 -3 1.8 -3 2.7 -3 3.6 -9 13.2 -3 2.7zM64.0 64.0l-128 0 0 -10.8 8 0.9 9 -0.4 40 -7 6 -0.7 5 0.1 6 1.1 21 5.3 12 2.3 11 0.7 10 -1.2z"/>
<path fill="#d9ff26" d="M4.0 10.2l-2 -0.2 -3 -1.7 -13 -15.3 -4 -3.3 -5 -2.7 -8 -1.9 -13 -1.4 -10 -0.3 -10 0.9 0 -48.4 128 0.1 0 42.7 -10 0.8 -12 1.9 -9 1.9 -6 2.1 -3 1.8 -3 2.6 -3 3.7 -9 13.2 -3 2.7zM64.0 64.0l-128 0 0 -4.7 5 -0.2 6 -0.9 24.1 -6.2 14.9 -3.2 10 -1.5 6 -0.3 9 1.4 39 10.3 7 1.1 7 0.1z"/>
<path fill="#f2ff0d" d="M5.0 8.1l-3 0.1 -3 -1.9 -13 -15.2 -5 -4.2 -4 -2.1 -6 -1.6 -13 -1.6 -11 -0.6 -11 0.2 0 -45.3 128 0.1 0 39.3 -29 5.5 -5 1.4 -4 1.7 -3 2 -3 3.1 -10 14.7 -3 3.2zM51.0 64.0l-104 0 11.3 -6 12.7 -4.6 17 -4 13 -1.4 5 0.4 5 1 19.4 5.6 10.8 4 10.3 5z"/>
<path fill="#fff200" d="M5.0 6.2l-3 0.1 -3 -1.9 -14 -16.3 -4 -3.4 -4 -2.3 -5 -1.4 -8 -1.1 -15 -1.4 -13 -0.7 0 -41.9 128 0.1 0 34.5 -14.1 4.5 -18.9 4.5 -6 2.6 -3 2.4 -3 3.5 -10 15.1 -2 2zM43.0 64.0l-87.4 0 6.2 -5 6.1 -3 5.4 -2 14.7 -3.6 7 -1.1 6 -0.3 10 1.3 15.7 4.7 11.2 5 5.5 4z"/>
<path fill="#ffd900" d="M5.0 4.4l-3 0 -3 -2 -15 -17.4 -4 -3.5 -3 -1.7 -7 -1.8 -34 -4 -0.1 -38 122.4 0 3.8 12 1.1 6 -0.4 5 -1.1 3 -1.4 2 -4.5 4 -5.7 3 -6.1 2.2 -15 4.2 -5 2.7 -5 5.5 -9 14.4 -3 3.2zM38.0 64.0l-77.5 0 2.7 -3 2.7 -2 9.1 -4.3 14 -3.6 12 -1.2 10 1.3 12.4 3.8 5.6 2.3 5 2.7 4.6 4z"/>
<path fill="#ffbf00" d="M6.0 2.0l-3 0.7 -2 -0.7 -2 -1.5 -16 -18.9 -3 -2.8 -3 -1.8 -5 -1.5 -22 -3 -14 -2.9 0 -33.6 108.9 0 4.7 14 1.2 5 0.1 4 -1.4 4 -2.5 3 -3 2.1 -4 2 -12 4.2 -5 3.3 -4 5 -9 15.4zM34.0 64.0l-69.7 0 2.5 -3 2.5 -2 8.4 -4 12.3 -3.2 11 -1 10 1.3 12 3.9 7.7 4 4.2 4z"/>
<path fill="#ffa600" d="M6.0 0.0l-3 0.7 -2 -0.7 -2 -1.5 -6 -6.7 -11 -14.1 -2 -1.9 -3 -1.9 -5 -1.5 -21.9 -3.4 -7.3 -2 -6.8 -2.6 0 -28.4 98.9 0 4.1 18 0.1 4 -0.9 3 -3.2 3.8 -9 5.6 -4 3.9 -3 4.7 -8 15.4 -3 4zM31.0 64.0l-63.6 0 1.4 -2 3.2 -2.7 7 -3.6 10 -2.8 11 -1.3 9 0.9 11.2 3.5 7.6 4 4 4z"/>
<path fill="#ff8c00" d="M5.0 -1.5l-2 0.2 -2 -0.7 -4 -3.3 -6.4 -7.7 -8.6 -12.6 -4 -3.5 -5 -1.7 -14 -2.1 -8.7 -2.1 -7.7 -3 -6.6 -3.9 0 -22.1 90.4 0 1.2 6 0.5 7 -0.4 5 -1 4 -6.7 13.1 -8.5 19.9 -3.5 5.3zM29.0 64.0l-58.8 0 1.4 -2 2.1 -2 7.3 -3.9 9 -2.5 10 -1.1 8 0.7 9.5 2.8 7.7 4 2.4 2z"/>
<path fill="#ff7300" d="M5.0 -3.6l-2 0.3 -2 -0.6 -5 -4.3 -6.1 -7.8 -7.9 -13.6 -3 -2.9 -4 -1.7 -14 -2.2 -8 -2.2 -7.4 -3.4 -5.5 -4 -4.1 -4.7 0 -13.3 82.8 0 0.9 6 0 7 -2 17 -1.4 8 -2.2 8 -2.9 7 -3.2 5zM26.0 64.0l-53.2 0 1.3 -2 2.2 -2 5.7 -3.1 9 -2.6 9 -0.9 8 0.7 9 2.8 4.2 2.1 2.8 2 2.6 3z"/>
<path fill="#ff5900" d="M5.0 -5.8l-2 0.4 -3 -1.1 -3 -2.5 -3 -3.4 -5 -7.6 -6 -13.4 -3 -3.2 -4 -1.6 -11.5 -1.8 -6.5 -1.7 -6 -2.6 -5.4 -3.7 -3.6 -4 -2 -3.5 -1.3 -4.5 0 -4 71.9 0 0.9 5 2 24 -0.3 9 -1.4 7 -2.1 6 -2.7 4.6zM24.0 64.0l-48.7 0 1.3 -2 2.2 -2 5.2 -2.7 8 -2.3 8 -0.8 7 0.6 7.6 2.2 5.8 3 2.3 2z"/>
<path fill="#ff4000" d="M4.0 -7.7l-2 0.1 -3 -1.5 -4 -3.9 -2.9 -4 -3.4 -7 -3.7 -13.3 -2 -3 -4 -2.1 -16 -3 -4.2 -1.6 -3.6 -2 -3.6 -3 -2.9 -4 -1.4 -4 -0.1 -4 56.9 0 2.5 13 4.9 15 1 8 -0.7 7 -1.8 6.1 -3 5.2zM21.0 64.0l-43.4 0 2.4 -3 5.2 -3 6.8 -2 8 -0.9 7 0.7 7.2 2.2 5.2 3 2.5 3z"/>
<path fill="#ff2600" d="M4.0 -9.9l-3 -0.1 -3 -1.9 -3.7 -4.1 -2.9 -5 -2.3 -8 -0.4 -5 0.4 -9 -0.3 -2 -0.8 -1.5 -3 -1.6 -15 -1.6 -7 -2.5 -3 -2.1 -2.4 -2.7 -1.3 -3 -0.1 -4 38.7 0 1 4 0.9 8 1.2 2 5 4.9 3 3.7 2.9 5.4 1.4 5 0.3 7 -1.1 6 -2.5 5.5zM19.0 64.0l-39.1 0 2.6 -3 4.5 -2.5 6 -1.7 7 -0.8 6 0.6 6 1.6 5 2.8 2.6 3z"/>
<path fill="#ff0d00" d="M2.0 -12.0l-3 -1.1 -3.8 -3.9 -2.4 -4 -1.5 -5 -0.3 -6 1 -4.5 2 -3.3 3 -1.7 3 0.2 4 2.6 3 4.3 1.7 5.4 0.3 6 -1.4 6 -2.6 3.9zM17.0 64.0l-34.7 0 2.8 -3 3.9 -2 5 -1.4 6 -0.6 6 0.6 4.9 1.4 4.1 2.3 1.7 1.7 0.6 1z"/>
<path fill="#f20000" d="M3.0 -14.6l-3 -0.2 -3 -2.3 -2.6 -3.9 -1.3 -4 -0.3 -4 0.8 -4 2 -3 2.4 -1.3 3 0.4 2.6 1.9 2.1 3 1.3 3.9 0.4 4.1 -0.6 4 -1.8 3.9zM14.0 64.0l-29.2 0 1.7 -2 3.5 -2.1 5 -1.4 5 -0.5 5 0.5 5 1.5 3.3 2 1.7 2z"/>
<path fill="#d90000" d="M3.0 -17.7l-2 0.6 -2 -0.8 -2 -2.1 -1.5 -3 -0.7 -3 0.2 -3.3 1 -2.4 2 -1.7 2 -0.2 2 1 2 2.4 0.9 2.2 0.5 3 -0.1 3 -1.1 3zM12.0 64.0l-24.5 0 1.9 -2 2.6 -1.3 4 -1.1 4 -0.4 4 0.3 4 1.2 2.5 1.3 1.9 2z"/>
<path fill="#bf0000" d="M2.0 -21.7l-1 0.7 -1 -0.1 -2 -2.2 -0.4 -3.7 1.4 -2 2 0.3 1.3 1.7 0.5 3zM9.0 64.0l-18.4 0 3.4 -2.3 6 -1.1 6 1 2.5 1.4 0.9 1z"/>
<path fill="#a60000" d="M5.0 64.0l-10.1 0 2.1 -1.1 3 -0.4 3 0.4z"/>
</g>
<path class="ct" d="M39.3 32.0l5.7 -2.2 5 -3.4 4 -4.2 2.3 -4.2 0.8 -4 -0.7 -4 -2.4 -3.5 -4 -2.4 -4 -1 -4 -0.1 -5 0.8 -4 1.4 -4 2.4 -2.7 2.4 -2.4 3 -1.9 4 -1 4 0 4 1.1 3 1.9 2.3 3 1.7 4 0.9 4 -0.1 4.3 -0.8M-32.7 21.0l0.8 -1 0 -1 -1.1 -1.5 -3 -1.1 -2 0.6 -0.3 2 1.3 1.4 2 0.9 2.3 -0.3M64.0 3.7l-2.5 -2.7 -3 -2 -3.5 -1.5 -5 -1 -5 -0.1 -5 0.5 -5 1.1 -5 1.9 -6 4.2 -3 3.4 -2.3 3.5 -2.5 5 -1.8 5 -0.8 4 0 4 0.8 3 1.2 2 1.9 2 3.3 2 7.2 1.9 8 -0.1 8 -1.9 8.2 -3.9 6.8 -5.2 5 -6.5M-22.6 35.0l4.6 -1.5 3 -2 1.9 -2.5 0.8 -3 -0.3 -4 -1.4 -4 -2.4 -4 -3.6 -3.8 -4 -2.8 -5 -2.3 -5 -1.5 -5 -0.7 -5 0.1 -4 1 -3 1.4 -3 2.6 -1.3 2 -1.1 3 0.1 5 2.1 5 4.2 5 6 4.1 7 2.6 7 0.9 7.4 -0.6M64.0 -8.3l-8 -2 -9 -0.1 -11 1.6 -8 2.7 -4 2.6 -3.6 3.5 -3.7 5 -8.7 13.9 -3 3.1 -2 0.9 -2 -0.3 -3 -2.3 -8.6 -12.3 -4.4 -4.9 -5 -3.6 -6 -2.5 -11 -2.5 -6 -0.4 -5 0.2 -5 0.8 -4 1.2 -3.5 1.7 -3.5 2.5M-64.0 32.1l6.3 4.9 7.7 3.9 8 2.4 8 0.9 8 -0.2 8 -1 7 -1.4 10 -3 3 -0.3 3 0.6 10 4.3 7 2.2 9 1.3 8 0 7 -1 6 -1.8 6 -2.7 6 -3.6M64.0 -20.9l-9 0.6 -12 1.8 -10 2 -6 2.2 -4 2.5 -3 3 -9 13.2 -3 3.6 -3 2.1 -2 0.4 -2 -0.6 -3 -2.3 -8 -10.1 -5 -5.2 -4 -3 -4 -2 -8 -1.9 -13 -1.4 -10 -0.2 -10 0.9M-64.0 58.3l5 0 6 -0.7 34 -7.9 13 -2.3 7 -0.6 9 1.2 38 9.8 8 1.2 8 0M29.9 -64.0l1.5 7 1 8 -0.1 4 -0.9 4 -1.8 3 -5.6 6.1 -3 4.3 -7.8 16.6 -3.2 5.6 -2.8 3.4 -2.2 1.3 -3 0 -4 -2.8 -7.2 -8.5 -8.8 -12.1 -4 -3.5 -5 -1.7 -14 -2 -9 -2 -8 -2.7 -6 -3M-30.9 64.0l3.5 -4 3 -2 4.4 -2 10 -2.8 10 -1.1 9 1 9.7 2.9 7.6 4 3.9 4M3.0 -12.7l-3 -0.4 -3 -2.3 -3.2 -4.6 -1.9 -5 -0.5 -5 0.9 -5 1.7 -3.1 3 -2 2 -0.1 2 0.5 3 2.2 2.5 3.5 1.5 4.2 0.6 5.8 -0.8 5 -1.8 4 -1 1.1 -2 1.2M-17.0 64.0l2.8 -3 4.1 -2 5.1 -1.3 5 -0.4 5 0.4 5 1.3 3.9 2 2.8 3"/>
</g>
<g class="ol">
<circle cx="0" cy="0" r="60.7"/>
<path d="M10.9 -59.8L2.4 -69.2L0 -69.9L-2.4 -69.2L-10.9 -59.8"/>
<path d="M59.4 -11.6L61.9 -14.3L62.9 -14.4L64.3 -13.9L65.8 -11.6L65.6 .7L66.4 11.3L64.6 15.9L61.9 16.8L58.6 14.6"/>
<path d="M-59.4 -11.6L-61.9 -14.3L-62.9 -14.4L-64.3 -13.9L-65.8 -11.6L-65.6 .7L-66.4 11.3L-64.6 15.9L-61.9 16.8L-58.6 14.6"/>
</g>
</g>
<g transform="translate(495.3 86.1) scale(1.003 1.003)">
<g clip-path="url(#hc)">
<g filter="url(#bl)">
<rect x="-64" y="-64" width="128" height="128" fill="#00008c"/>
<path fill="#0000a6" d="M64.0 64.1l-128.1 -0.1 0.1 -128.1 128.1 0.1 0.4 66z"/>
<path fill="#0000bf" d="M64.0 64.0l-128 0 0 -128 128.1 0 0.4 66z"/>
<path fill="#0000d9" d="M64.0 64.0l-128 0 0 -128 128.1 0 0.3 66zM-1.1 37.0l4.1 -1.8 3.4 -2.2 3 -3 2 -3 1.2 -3 0.7 -4 -0.2 -4 -1.1 -4.8 -2 -5.6 -3.5 -7.6 -2.8 -11 -3.5 -6 -4.2 -3.6 -5 -2.2 -5 -0.7 -5 0.7 -4.2 1.8 -3.9 3 -2.9 4 -2.1 5 -1 6 -0.2 8 0.3 10.1 1.2 6.9 2 5 2.7 4 3.1 3.2 4 2.7 5 2.1 4 0.8 5 0.1z"/>
<path fill="#0000f2" d="M60.0 64.0l-109.5 0 -5.5 -4.5 -5.8 -5.5 -3.2 -3.5 0 -113.1 1.2 -1.4 126.9 0 0.3 66 -0.4 60zM0.6 42.0l6.4 -2 4.2 -2 4.8 -3.2 4 -4 2.4 -3.8 1.2 -4 0.3 -5 -0.7 -5 -5.6 -18 -3.4 -14 -1.8 -4 -2.1 -3 -4.3 -3.4 -6 -2.2 -8 -0.9 -7 0.7 -6 1.9 -5.2 2.9 -4.8 4.3 -4 5.8 -2.8 6.9 -1.6 8 -0.3 9 0.9 8 1.8 6.3 3 6 4 5.1 5.4 4.6 5.6 3.1 6.5 1.9 6.5 0.6z"/>
<path fill="#000dff" d="M50.0 64.0l-91.2 0 -10.8 -8.3 -9.2 -9.7 -2.8 -3.7 0 -94.8 5 -6 5.6 -5.5 117.5 0 0.3 65 -0.4 54.1zM1.8 45.0l6.2 -1.7 5.3 -2.3 5 -3 4.7 -4.1 3 -4 2 -4.8 0.6 -4.1 -0.3 -5 -1.3 -6 -4.7 -15 -3.7 -16 -1.6 -4.6 -2 -3.6 -4 -4.2 -5 -2.6 -7 -1.4 -9 0.3 -8 2.1 -7 3.4 -6 4.8 -5 6.1 -4 7.7 -2.1 7 -1.2 9 0.4 9 1.9 8 3 6.7 4.5 6.3 5.5 5.2 6.3 3.8 7.7 2.7 8 0.9z"/>
<path fill="#0026ff" d="M44.0 64.0l-79.3 0 -6.7 -4.2 -7.3 -5.8 -6.1 -6 -5.7 -7 -2.9 -4.2 0 -84 7.1 -8.8 8.7 -8 112.2 0 0.4 65 -0.4 49.9 -11 7.6zM-2.7 48.0l6.7 -0.9 6 -1.8 6 -2.8 5.5 -3.5 4.3 -4 3.2 -4.4 1.9 -4.6 0.7 -5 -0.4 -5 -1 -5 -4.9 -16 -4.3 -19 -2.4 -6 -3.6 -4.9 -4.2 -3.1 -5.8 -2.2 -7 -0.8 -9 1 -8 2.5 -7.9 4.5 -6.1 5.3 -5.2 6.7 -4 8 -2.8 9.6 -0.9 9.4 0.9 9 2.4 8 3.7 7 5.8 7 6.5 5 7.6 3.7 8 1.9z"/>
<path fill="#0040ff" d="M39.0 64.0l-68.9 0 -9.1 -5.3 -8.6 -6.7 -7.4 -7.4 -6.5 -8.6 -2.5 -4 0 -75.6 4.5 -6.4 4.4 -5 5.1 -4.8 5.4 -4.2 108.6 0 0.4 65 -0.4 46.7 -14 10zM-0.8 50.0l6.8 -1.2 7 -2.4 6.5 -3.4 5.4 -4 4.1 -4.3 2.9 -4.7 1.6 -5 0.4 -5 -1 -7 -5.6 -19 -4.2 -19 -3.1 -7.7 -4 -4.9 -5 -3.2 -6 -2 -7 -0.6 -9 1.1 -9 3.2 -8 4.8 -6.7 6.3 -5.3 7.1 -4.7 9.9 -2.4 9 -0.8 10 1.1 9 2.6 8 4.2 7.4 6 6.8 7 5.2 8 3.6 9 1.9z"/>
<path fill="#0059ff" d="M34.0 64.0l-58.1 0 -11.4 -6 -10.5 -7.9 -9 -9.3 -7 -9.9 -2 -3.6 0 -68.1 4.8 -7.2 5.2 -5.9 6 -5.5 6.3 -4.6 105.7 0.2 0.4 36.8 -0.4 72.1 -17 12.2 -8 4.6zM-0.4 52.0l7.4 -1.5 7 -2.5 6 -3 6 -4.4 4 -4.1 3.1 -4.5 1.9 -5 0.8 -6 -1.3 -9 -5.8 -20 -3.9 -18 -2.8 -7.3 -3.5 -4.7 -5.5 -4 -7 -2.6 -8 -0.7 -9 1.2 -9 3.3 -9 5.7 -7 6.7 -5.9 8.4 -4.2 9 -2.7 10 -0.8 10 1 9 2.9 9 4.7 7.9 6 6.5 7 5 9 3.9 9 1.8z"/>
<path fill="#0073ff" d="M29.0 64.0l-45.9 0 -5 -2 -6.1 -3 -6.6 -4 -11.4 -8.9 -5 -4.9 -5 -5.9 -7 -10.7 -1 -1.9 0 -61.2 4.8 -7.5 5.9 -7 6.3 -5.7 7.8 -5.3 98.3 0 4.9 2.4 0.4 34.6 -0.4 69.8 -11 8.4 -9 5.9 -9 4.8zM0.5 54.0l7.5 -1.7 7 -2.7 6.7 -3.6 5.4 -4 4.7 -5 3.2 -5 1.7 -5 0.7 -6 -1.1 -8 -5.8 -20 -4.1 -19 -1.4 -4.7 -2 -4.2 -4.2 -5.1 -6.2 -4 -6.6 -2.2 -8 -0.7 -9 1.3 -9.4 3.6 -9.3 6 -7.3 7.2 -6 8.6 -4.7 10.2 -2.9 11 -0.7 10 1 9 2.9 9 4.6 8 3.3 4 3.5 3.3 8 5.3 8 3.1 10 1.7z"/>
<path fill="#008cff" d="M23.0 64.0l-28.4 0 -7.9 -3 -1.4 -1 -0.6 -1 2.3 -0.9 10 -1 7 -1.4 7 -2.2 8 -3.8 7 -4.6 5 -4.5 4.2 -5.6 2.6 -6 1 -7 -0.7 -7 -6.5 -23 -4.6 -21.2 -1.9 -4.8 -2.5 -4 -3.6 -3.5 -4 -2.7 -5 -2.2 -5 -1.3 -5 -0.4 -6 0.3 -6 1.3 -6 2.2 -6 3.1 -5 3.5 -6.3 5.7 -5.7 7 -5 8.4 -3.9 9.6 -2.2 9 -1 9 0.2 8 1.6 13 -0.7 0.5 -1 -0.3 -4 -3.7 -4 -5.4 -3 -5.1 0 -54.4 4.6 -7.6 6.6 -8 7.8 -6.9 8 -5.1 90.8 0 5.2 1.9 5 2.5 0.4 32.6 -0.4 67.8 -12 9.1 -10 6.4 -10 4.9z"/>
<path fill="#00a6ff" d="M14.0 63.0l-4 -0.1 -4 -0.9 -1.4 -1 0.1 -1 2.8 -2 14.5 -7.7 5 -3.6 4 -3.7 3.4 -4 3 -5 1.8 -5 0.9 -6 -0.2 -5 -0.9 -4.9 -6.2 -21.1 -4.8 -22.2 -2 -4.8 -1.9 -3 -2.7 -3 -3.8 -3 -4.6 -2.4 -5 -1.8 -6 -1 -6 0.1 -6 1 -6 1.9 -5 2.2 -6 3.7 -6 4.9 -5.2 5.4 -4.8 6.5 -4 7 -3 6.8 -2.5 7.7 -1.8 8 -1.7 11.5 -1 2.1 -1 0.4 -2 -1.2 -4 -5.6 0 -47.5 5.6 -9.7 6.4 -7.6 8 -6.9 9 -5.5 82.7 0 9.3 2.8 7 3.4 0.3 30.8 -0.3 65.9 -14 10.5 -13 7.6 -11 4.2 -6 1.3z"/>
<path fill="#00bfff" d="M28.0 58.0l-6 0.9 -2 -0.2 -1.5 -0.7 0.1 -1 0.7 -1 12.7 -11.3 5.6 -7.7 1.8 -4 1.4 -5 0.5 -5 -0.3 -5 -1.4 -7 -5.9 -20 -3.6 -18 -1.9 -6 -2.1 -4 -2.3 -3 -3.1 -3 -4.7 -3.1 -5 -2.2 -5 -1.3 -5 -0.6 -6 0.2 -5.5 1 -5.5 1.8 -5 2.3 -5 2.9 -5.2 4 -5.3 5 -4.5 5.4 -4 5.8 -3.2 5.8 -3.1 7 -6.7 20.5 -1 1 -2 -0.3 -3 -3.6 0 -41 4.5 -8.6 7.1 -9 7.4 -6.7 9 -5.8 3 -1.5 75.2 0 12.8 3.6 9 4.2 0.3 29.2 -0.3 64.2 -10 7.6 -10 6.4 -8 4z"/>
<path fill="#00d9ff" d="M36.0 52.3l-4 0.6 -1.4 -0.9 0.7 -2 7.2 -11 2.8 -7 0.8 -4 0.4 -5 -1.1 -9 -6.1 -21 -4.3 -20.5 -2.1 -6.5 -2.3 -4 -3.4 -4 -4.2 -3.3 -4.8 -2.7 -5.2 -1.9 -5 -1 -5 -0.3 -5 0.4 -5 1 -5.3 1.8 -5.7 2.7 -5 3.1 -5 3.9 -4.5 4.3 -7.9 10 -5.6 10 -7 17.2 -2 3.4 -1 0.7 -1 0 -2 -1.6 -1 -1.5 0 -34.6 3.6 -7.6 4.6 -7 5.8 -6.5 7 -5.8 5 -3.2 6.9 -3.5 69.2 0 16.9 4.9 9 4.4 0.3 27.7 -0.3 62.5 -7 5.4 -8 5.2 -7 3.8z"/>
<path fill="#00f2ff" d="M44.0 46.2l-4 0.7 -1 -0.7 -0.2 -1.2 3.5 -11 1.1 -6 0.1 -7 -1.1 -7 -6.7 -23 -4.7 -22 -2.6 -6 -3.4 -4.4 -4 -3.6 -5 -3.1 -6 -2.4 -6 -1.3 -6 -0.2 -6 0.7 -6 1.6 -6.4 2.7 -5.6 3.3 -5 3.7 -5 4.6 -4.8 5.4 -4.4 6 -3.6 6 -9.2 18.9 -2 2 -1 0.1 -2 -1.4 -1 -1.6 0 -28.2 2.3 -5.8 3.2 -6 4.4 -6 4.6 -5 9.5 -7.5 10.9 -5.5 63.8 0 20.3 6.2 9 4.5 0.3 26.3 -0.3 60.9 -10 7.3 -5 2.8z"/>
<path fill="#0dfff2" d="M48.0 42.0l-3 0.3 -1.5 -1.3 -0.1 -3 1.3 -12 -0.5 -8 -1.6 -7 -6 -20 -4.3 -21 -3.3 -7.6 -5 -5.9 -4.6 -3.5 -5.4 -2.9 -5 -1.7 -6 -1.1 -5 -0.2 -6 0.8 -6 1.6 -6 2.5 -5.2 3 -5.6 4 -9.2 9 -7.9 11 -10.1 18.5 -2 1.7 -1 0.2 -2 -1.6 -1 -1.9 0 -21.7 1.7 -5.2 2.8 -6 3.1 -5 4 -5 5.4 -5.4 6 -4.6 6 -3.6 7.9 -3.4 58.9 0 23.2 7.4 9 4.7 0 84.3 -9 6.4z"/>
<path fill="#26ffd9" d="M52.0 38.3l-4 0.4 -1 -0.6 -0.7 -1.1 -0.4 -3 -0.2 -11 -0.9 -7 -7.3 -25 -3.6 -18 -1.7 -6 -3.9 -7 -6.1 -6 -4.2 -2.7 -5 -2.4 -5 -1.6 -6 -0.9 -5 0 -6 0.9 -5.9 1.7 -5.1 2.2 -10 6.4 -9 8.4 -8.4 11 -9.6 16.3 -2 2.2 -2 0.5 -2 -2 -1 -2.7 0 -13.9 1.4 -5.4 2.3 -6 2.7 -5 3.5 -5 6.1 -6.7 7 -5.5 8 -4.6 8.1 -3.2 53.9 0 25 8.2 5 2.2 5 2.9 0 81.7 -6 4.3z"/>
<path fill="#40ffbf" d="M55.0 35.1l-4 0.9 -2 -0.9 -0.7 -1.1 -2.9 -19 -6.8 -23 -5.2 -24 -1.7 -4 -2.7 -4.3 -3.4 -3.7 -4.6 -3.7 -5 -2.9 -5 -2 -5 -1.3 -5 -0.6 -5 0.1 -5 0.8 -6 1.9 -5 2.2 -10 6.3 -8.9 8.2 -7.2 9 -10.9 16.9 -2 1.9 -1 0.3 -1 -0.2 -1 -1 -1.2 -2.9 -0.6 -5 0.3 -5 1 -5 1.6 -5 2.3 -5 3 -5 6.6 -7.9 8 -6.6 9 -5 9.6 -3.5 48.6 0 8.8 2.6 17 5.8 6 2.6 5 2.8 1 0.7 0.2 11.5 -0.2 67.5 -5 3.6z"/>
<path fill="#59ffa6" d="M55.0 33.2l-2 0.3 -2 -0.6 -1.8 -2.9 -2.9 -15 -6.9 -23 -4.1 -20 -1.9 -6 -2 -4 -2.9 -4 -3.5 -3.5 -4 -3 -9 -4.6 -5 -1.5 -5 -0.7 -5 0 -5 0.7 -5 1.3 -6 2.5 -9 5.4 -9 7.7 -8.4 9.7 -10.6 15.5 -2 2.1 -2 0.7 -1.5 -1.3 -1.1 -3 -0.3 -4 0.3 -4 2.4 -9 4.6 -9 6.6 -8.1 4 -3.7 5 -3.6 10 -5.3 10.7 -3.3 42.3 0 10 2.7 16 5.6 8 3.2 5 2.8 2 1.4 0 76.4 -5 3.4z"/>
<path fill="#73ff8c" d="M56.0 31.1l-2 0.2 -2 -0.8 -2 -3.5 -3.4 -14 -6.5 -21 -4.1 -20.1 -2.2 -6.9 -2.2 -4 -3 -4 -3.6 -3.4 -5 -3.6 -9 -4.3 -5 -1.4 -5 -0.6 -5 0.2 -5 0.8 -10 3.7 -9 5.4 -9 7.7 -7.6 8.5 -11.4 15.6 -3 2.1 -1.4 -0.7 -1 -2 -0.5 -4 0.3 -4 2.1 -8 4 -8 3.5 -4.9 3.7 -4.1 4.3 -3.8 5 -3.6 5 -2.8 6 -2.5 6 -1.9 6.9 -1.4 33.9 0 3.2 0.5 8 2 10 3.3 14 5.4 7 3.5 3 2.1 0 74 -4 2.7z"/>
<path fill="#8cff73" d="M57.0 29.1l-2 0.1 -2 -0.8 -2.1 -3.4 -9.8 -32 -4.6 -22 -2.4 -7 -2.3 -4 -3.8 -4.5 -4 -3.5 -5 -3.4 -9 -4.2 -4 -1.1 -5 -0.6 -4 0 -5 0.8 -9 3.1 -9 5 -9 7.2 -8.7 9.2 -11.3 14.7 -2 1.8 -2 0.5 -1 -0.9 -0.7 -2.1 0 -6 1.9 -7 3.4 -7 3.4 -5 4 -4.5 5 -4.4 5 -3.4 6 -3.1 7 -2.6 6 -1.4 7 -1.1 8.8 -0.5 12.7 0 7.5 0.6 7 1.1 7 1.8 9 3.1 13 5.1 7 3.4 4 2.8 0 71.5 -4 2.6z"/>
<path fill="#a6ff59" d="M58.0 27.2l-2 0.2 -2 -0.7 -1.5 -1.7 -1.5 -3.2 -9.2 -28.8 -4.8 -22.9 -2.7 -7.1 -3.2 -5 -3.7 -4 -4.4 -3.7 -6 -3.8 -9 -3.9 -8 -1.4 -4 0.2 -4 0.8 -9 3.4 -9 5.2 -8 6.3 -8.8 8.9 -11.2 14 -2 1.8 -2 0.7 -1 -0.6 -0.7 -1.9 0.1 -5 1.5 -6 2.8 -6 3.3 -5 4 -4.7 4 -3.6 5.1 -3.7 5.5 -3 5.4 -2.2 6.3 -1.8 6.7 -1.1 26 -0.8 12 1.2 7 1.6 8 2.7 14 5.5 7 3.4 5 3.4 0 69.2 -3 2z"/>
<path fill="#bfff40" d="M60.0 25.1l-3 0.6 -2 -0.6 -2 -2.1 -1.5 -3 -9 -27 -5.4 -25 -3.1 -7 -3.7 -5 -4.3 -4.2 -7 -5.1 -10.3 -5.7 -1.2 -1 1.2 -1 4.3 -0.5 6 0.1 6 0.9 6.2 1.5 8.8 3.1 13 5.3 6 3.1 5 3.5 0 66.8zM-57.0 -20.0l-1.2 -1 -0.5 -3 0.5 -4 1.6 -5 4.6 -8.1 3.2 -3.9 4.1 -4 7.7 -5.4 9 -4 10 -2.1 5 -0.1 2.7 0.6 -0.5 1 -13.2 7.5 -9 6.9 -8.8 8.6 -11.2 13.3 -2 1.9z"/>
<path fill="#d9ff26" d="M58.0 24.0l-2 -0.4 -2 -1.6 -3 -6.1 -7.5 -21.9 -2 -8 -3.2 -16 -3 -8 -3.3 -5 -4 -4.3 -13.6 -10.7 -0.5 -1 1.1 -0.9 3 -0.4 5.1 0.3 11.9 3 19 7.7 5 2.7 5 3.6 0 64.5 -3 1.8zM-55.0 -22.8l-1 0.3 -0.8 -0.5 -0.6 -2 0.2 -3 1 -4 4.2 -8 6 -7 6.4 -5 7.6 -4 9 -2.5 3 -0.2 2.2 0.7 -1.6 2 -8.6 6.4 -8 6.8 -6.6 6.8 -9.4 10.8z"/>
<path fill="#f2ff0d" d="M60.0 22.2l-3 0 -2 -1.3 -2 -2.8 -2 -4.6 -7.1 -20.5 -4.9 -23 -3 -8 -2.4 -4 -3.6 -4.3 -10.8 -9.7 -0.7 -1 -0.1 -1 0.6 -0.4 3 -0.6 4 0.4 6 1.4 6 2 17 7.2 5 2.9 4 3 0 62.4zM-53.0 -25.9l-2 0.7 -0.8 -0.8 -0.2 -2.8 0.8 -3.2 3.2 -6.7 5 -6.3 6 -5.2 6.6 -3.8 6.4 -2.2 3 -0.4 1.7 0.6 -1.2 2 -12.5 11.3z"/>
<path fill="#fff200" d="M62.0 20.1l-3 0.8 -2 -0.4 -2 -1.5 -2 -3.1 -4 -9.7 -4.2 -12.2 -2.1 -8 -2.8 -15 -2.3 -7 -2 -4 -2.7 -4 -10.4 -11 -0.5 -1 0.4 -1 2.6 -0.5 4 0.4 10.2 3.1 15.8 6.9 5 2.9 4 3.1 0 60.1zM-52.0 -28.6l-1 0.5 -1 -0.3 -0.3 -0.6 0.5 -4 2.8 -5.8 4 -5.2 4.4 -4 5.6 -3.7 5.9 -2.3 2.7 0 0.2 1 -1.5 2 -19.3 19.8z"/>
<path fill="#ffd900" d="M61.0 19.2l-3 0 -2 -1.1 -2 -2.5 -1.9 -3.6 -4.1 -10.4 -3.1 -9.6 -4.4 -21 -1.8 -6 -4.2 -8 -8.4 -10 -0.7 -2 0.6 -0.6 2 -0.4 5 0.8 11 3.9 12 5.5 8 5.7 0 57.8zM-51.0 -31.5l-1.2 -0.5 0.1 -2 0.7 -2 2.3 -4 3.1 -3.8 4 -3.5 4 -2.6 3 -1.2 2.2 0.1 -0.8 2 -3.6 4 -9.8 10.3z"/>
<path fill="#ffbf00" d="M63.0 17.1l-3 0.9 -3 -0.8 -2 -2 -2.4 -4.2 -3.8 -9 -3.3 -10 -4.4 -21 -1.7 -6 -3.4 -7 -7.2 -10 -0.3 -1 0.5 -1 2 -0.3 4 0.7 12 4.3 10 4.9 7 5.3 0 55.6zM-49.0 -36.0l0 -1 0.8 -2 3.2 -4.1 5 -3.8 1.9 -0.1 -1.8 3 -4.1 4.4 -3 2.8z"/>
<path fill="#ffa600" d="M62.0 16.2l-3 0.3 -2.6 -1.5 -2.4 -3.1 -2.4 -4.9 -5.8 -16 -5.4 -25 -3 -7 -5.6 -9 -0.3 -1 0.5 -1.3 2 -0.3 3.3 0.6 10.9 4 8.8 4.4 7 5.4 0 53.4z"/>
<path fill="#ff8c00" d="M61.0 15.2l-3 -0.5 -2 -1.7 -3 -4.7 -3 -6.8 -4.3 -13.5 -4.6 -22 -2.1 -5.4 -4.8 -9.6 0 -1 0.8 -0.7 2 -0.1 3.6 0.8 10.2 4 7.3 4 5.9 4.8 0 51.2z"/>
<path fill="#ff7300" d="M63.0 13.3l-3 0.5 -3 -1.4 -3 -3.9 -3.5 -7.5 -4.2 -13 -4.6 -22 -5.1 -13 0 -1 1 -1 2.4 0 3 0.7 9 3.7 7 4 5 4.4 0 48.9z"/>
<path fill="#ff5900" d="M62.0 12.3l-3 -0.1 -3 -2.3 -3 -4.9 -3.4 -8 -3.2 -11 -3.7 -19 -3.9 -12 0.2 -1.7 1 -0.6 5 0.7 8 3.3 6 3.6 5 4.4 0 46.7z"/>
<path fill="#ff4000" d="M62.0 11.0l-3 -0.2 -3 -2.5 -3 -5 -3.4 -8.3 -2.6 -9 -3.4 -18 -2.7 -10 0 -3 1.1 -0.7 5 0.7 7 3.1 6 3.9 4 3.7 0 44.4z"/>
<path fill="#ff2600" d="M63.0 9.4l-3 0.4 -3 -1.8 -3 -4.3 -3.8 -8.7 -2.9 -10 -4.8 -25 0 -3 1 -1 3.5 0.1 7 2.8 5 3.2 5 4.6 0 42.2z"/>
<path fill="#ff0d00" d="M63.0 8.1l-3 0.3 -3 -1.9 -3 -4.4 -3.5 -8.1 -2.8 -10 -3.8 -22 0 -3 1.1 -1.4 4 0.2 5.3 2.2 5.7 3.8 4 4 0 39.7z"/>
<path fill="#f20000" d="M62.0 7.1l-3 -0.5 -3 -2.8 -3 -5.3 -2.9 -7.5 -2.2 -9 -2.7 -18 -0.1 -3 0.4 -1 1.2 -1 3.3 0.2 5 2.1 5 3.4 4 4.2 0 37.3z"/>
<path fill="#d90000" d="M63.0 5.4l-3 0.3 -3 -2.2 -3 -4.6 -3 -7.3 -2.5 -9.6 -2.1 -15 0.1 -5 1.5 -1.5 3 0.1 5 2.2 4 2.9 4 4.3 0 34.8z"/>
<path fill="#bf0000" d="M63.0 4.0l-3 0.2 -3 -2.1 -3 -4.8 -2.5 -6.3 -2.5 -9.9 -1.5 -12.1 0 -5 0.5 -1.2 1 -0.8 3 0.1 4 1.7 4 2.9 4 4.4 0 32.3z"/>
</g>
<path class="ct" d="M-64.0 -48.5l7 -8.5 7.5 -7M0.8 47.0l6.2 -1.4 6.6 -2.6 5.4 -3.1 4.9 -3.9 3.4 -4 2.1 -4 1.3 -5 0 -5 -1.5 -8 -4.9 -16 -3.6 -16 -1.7 -5.2 -2 -3.8 -4 -4.4 -5 -2.9 -7 -1.6 -7 -0.1 -9 1.8 -7.7 3.2 -6.3 4.3 -6 6.1 -4.8 7.6 -3.2 8 -2 9.9 -0.1 9.1 1.5 8 3.1 8 4.6 7 5.9 5.8 6.5 4.2 7.7 3 7.8 1.3 8.8 -0.3M-36.9 64.0l-8.1 -5.4 -7 -6 -6.2 -6.6 -5.8 -7.8M-64.0 -33.5l5.3 -9.5 6.7 -8.1 9 -7.7 8.9 -5.2M45.2 -64.0l10.8 3.1 8 3.8M64.0 38.2l-8 6.2 -9 6.1 -7.8 4.5 -6.2 2.8 -6.5 2.2 -6.5 1.3 -6 0 -1.9 -0.3 -1.4 -1 0.2 -1 0.9 -1 15.2 -10.2 7 -7.1 3.1 -4.7 2.2 -5 1.1 -5 0.2 -5 -1.4 -9 -5.6 -19 -4.2 -20 -2.4 -7.1 -3.1 -4.9 -4.9 -4.6 -6 -3.3 -6.6 -2.1 -4.4 -0.6 -5 0 -5 0.6 -5 1.3 -5 1.9 -5 2.5 -8.7 6.3 -5.2 5 -4.1 5 -6.7 11 -4.4 11 -4.4 18 -1.5 3.2 -1 0.3 -2 -1.1 -3 -4.2M64.0 29.3l-5 3.6 -5 2.3 -3 0.4 -2 -1.2 -1.2 -3.4 -1.1 -10 -1.4 -7 -6.6 -22 -4.1 -20 -2.3 -7 -3.3 -5.5 -5 -5.1 -7 -4.6 -7 -2.9 -8 -1.5 -9 0.5 -9 2.6 -9 4.7 -8 6 -8 8.1 -5.9 7.7 -8.1 12.8 -3 3.9 -2 1 -1.5 -0.7 -1.5 -2.9 -0.5 -3.1 -0.2 -4 0.6 -5 1.3 -5 1.8 -5 5.2 -9 6 -7 7.8 -6.4 9 -5 10 -3.6M25.7 -64.0l9.3 2.7 17 5.9 7 3 5 3.1M64.0 21.7l-3 1.8 -3 0.7 -3 -0.9 -1.9 -2.3 -2.1 -4.7 -7.3 -21.3 -2.3 -9 -3.2 -16 -2.5 -7 -3.1 -5 -3.6 -4.2 -6 -5.2 -8 -5.6 -1.8 -2 0.8 -1 1 -0.2 5 -0.2 6 0.8 6.4 1.6 9.6 3.5 12 5.1 5 2.6 5 3.6M-55.0 -22.5l-1 0.3 -1 -0.4 -0.5 -1.4 0.1 -4 1.1 -4 4.2 -8 6.1 -7.1 7.8 -5.9 8.2 -3.9 9 -2.1 3 0.1 1 0.8 -1.9 2.1 -9.1 6.5 -8 6.9 -6.5 6.6 -9.5 11 -3 2.5M64.0 14.5l-3 1.2 -2 0 -1.5 -0.7 -2.5 -2.5 -3 -5.5 -3.2 -8 -2.6 -8 -5.4 -25 -2.4 -6 -5 -9 -0.2 -2 1.8 -0.6 3 0.4 10 3.6 9.1 4.6 6.9 5.4M64.0 7.2l-3 0.9 -3 -1.1 -3 -3.6 -3.2 -6.4 -2.4 -7 -1.7 -7 -3.3 -20 0 -4 1.1 -1 1.5 -0.2 6 1.8 6 3.6 5 4.9"/>
</g>
<g class="ol">
<circle cx="0" cy="0" r="60.7"/>
<path d="M10.9 -59.8L2.4 -69.2L0 -69.9L-2.4 -69.2L-10.9 -59.8"/>
<path d="M59.4 -11.6L61.9 -14.3L62.9 -14.4L64.3 -13.9L65.8 -11.6L65.6 .7L66.4 11.3L64.6 15.9L61.9 16.8L58.6 14.6"/>
<path d="M-59.4 -11.6L-61.9 -14.3L-62.9 -14.4L-64.3 -13.9L-65.8 -11.6L-65.6 .7L-66.4 11.3L-64.6 15.9L-61.9 16.8L-58.6 14.6"/>
</g>
</g>
<g transform="translate(697.6 86.4) scale(1.008 1)">
<g clip-path="url(#hc)">
<g filter="url(#bl)">
<rect x="-64" y="-64" width="128" height="128" fill="#00008c"/>
<path fill="#0000a6" d="M64.0 64.3l-128.3 -0.3 0 -128 0.3 -0.3 128 0 0.3 0.3zM20.9 26.0l2.1 -0.7 1.6 -1.3 1.2 -2 0.5 -2 -0.1 -2 -0.9 -2 -1.3 -1.2 -2 -0.8 -2 0.3 -2 1.3 -1.6 2.4 -0.7 3 0.3 2 1 1.8 2 1.1z"/>
<path fill="#0000bf" d="M64.0 64.2l-128.2 -0.2 -0.1 -128 0.3 -0.3 128 0 0.3 0.3zM20.6 32.0l4.4 -1.6 3 -2.4 2.6 -4 1 -4 -0.6 -5 -2 -3.6 -3 -2.5 -4 -1.1 -4 1 -3.7 3.2 -2.9 5 -1.8 6 0.5 4 2.1 3 3.8 1.9z"/>
<path fill="#0000d9" d="M64.0 64.2l-128.2 -0.2 -0.1 -128 0.3 -0.3 128.3 0.3zM20.9 36.0l5.1 -2 4.9 -4 3 -5 1.3 -5 -0.5 -6 -2.4 -5 -4.3 -4 -5 -1.7 -3 0.2 -2 0.7 -2.8 1.8 -2.2 2.2 -3.5 4.8 -5.3 9 -1.5 5 0.3 2 1 2 2 2.2 2 1.2 6 1.9 3 0.2zM-12.0 32.0l3 -1.8 1.4 -2.2 0.1 -2 -1 -3 -2.5 -4 -3 -3.1 -3 -1.5 -3 0.2 -2.1 1.4 -1.9 3.6 -0.3 3.4 1.1 4 2.2 3 3 1.9 3 0.5z"/>
<path fill="#0000f2" d="M64.0 64.2l-128.2 -0.2 0.2 -128.3 128.3 0.3zM17.5 40.0l6.5 -1.7 6 -3.6 4.3 -4.7 2.9 -6 1 -7 -1.2 -6 -3 -5.4 -2 -2.2 -3 -2.1 -3 -1.4 -3 -0.6 -3 0.2 -3 1.2 -5 4.1 -8 10 -3 2.7 -2 0.9 -2 -0.1 -2 -0.9 -8 -7 -4 -2 -3 -0.2 -2 0.6 -2 1.3 -2.5 2.9 -1.5 3 -0.7 3 -0.1 3 0.6 4 1.1 3 1.9 3 4.2 3.7 3 1.4 4 0.9 12 -0.8 10 2.5 5 0.5z"/>
<path fill="#000dff" d="M64.0 64.2l-128.2 -0.2 0.2 -128.3 128.3 0.3zM17.8 43.0l7.2 -2.3 6 -3.7 5 -5.3 3.5 -6.7 1.3 -7 -0.8 -7 -3 -6.7 -2 -2.6 -3 -2.7 -3 -1.9 -4 -1.4 -4 -0.2 -3 0.8 -5 3.6 -9 9.7 -3 2.2 -2 0.8 -2 0 -2 -0.8 -9 -6.8 -4 -1.7 -2 -0.1 -3 0.8 -3 1.9 -2 2.1 -2 3 -1.5 4 -0.7 4 0.2 5 1 4 1.9 4 2.2 3 2.9 2.7 5 2.8 6 1.5 12 0.5 9 1.2z"/>
<path fill="#0026ff" d="M64.0 64.2l-128.2 -0.2 0.2 -128.3 128.3 0.3zM16.3 46.0l8.7 -2.7 7 -4.3 5.7 -6 3.7 -7 1.7 -8 -0.1 -4 -0.6 -4 -2.8 -7 -4.6 -5.8 -4 -3 -4 -1.9 -4 -0.8 -4 0.4 -3 1.5 -2 1.6 -9 9.1 -5 3 -2 0.6 -2 -0.3 -2 -0.9 -9 -6.5 -4 -1.4 -2 0 -3 0.8 -5 3.7 -2.9 3.9 -1.8 4 -1.2 5 -0.2 5 0.7 5 1.8 5 2.3 4 3.3 3.7 6 4.1 8 2.5 21 1.6z"/>
<path fill="#0040ff" d="M64.0 64.1l-128.2 -0.1 0.2 -128.3 128.2 0.3zM13.5 49.0l9.5 -2.6 8 -4.3 6 -5.3 2.9 -3.8 2.1 -3.6 1.8 -4.4 1 -4 0.4 -8 -0.8 -5 -1.3 -4 -4.1 -7 -4 -4.2 -4 -2.8 -5 -2.2 -4 -0.6 -4 0.7 -3 1.8 -7.1 8.3 -2.9 2.7 -3 0.9 -2 -0.7 -1 1.4 -2 0.9 -2 -0.2 -2 -0.9 -7 -5.9 -4 -2.2 -2 -0.3 -3 0.4 -5 2.7 -4 4 -2.6 4.2 -2 5 -1.1 6 0.1 6 1 5 1.9 5 3.1 5 2.6 3 4 3.2 4 2.2 5 1.9 6 1.2 9 0.8 9 0.3z"/>
<path fill="#0059ff" d="M64.0 64.1l-128.1 -0.1 0.1 -128.2 128.2 0.2zM6.1 52.0l4.9 -0.3 8 -1.8 7 -2.8 5.3 -3.1 4.9 -4 4.4 -5 3 -5 2.4 -6.1 1.1 -5.9 0 -7 -1.1 -6 -2.5 -6 -3.5 -5.4 -4 -4.2 -5 -3.6 -6 -2.6 -5 -0.6 -4 1.2 -4 3.8 -4.8 7.4 -2.4 3 -2.8 1.7 -4 0.8 -2 -0.2 -2.5 -1.3 -6.5 -7.1 -3 -2.5 -4 -1 -4 0.8 -5 3.1 -4 4 -3.6 5.7 -2.3 6 -1.3 9 1 9 3.2 8 5.2 7 6.8 5.2 8 3.4 9 1.7z"/>
<path fill="#0073ff" d="M64.0 64.1l-128.1 -0.1 0.1 -128.2 128.2 0.2zM7.6 54.0l7.4 -1.2 8 -2.5 6.6 -3.3 5.4 -3.8 5 -5 4 -5.6 3 -6.4 1.6 -6.2 0.6 -7 -0.6 -6 -2 -7 -3.1 -6 -4.5 -5.9 -5 -4.4 -6 -3.7 -6 -2 -5 -0.1 -2 0.6 -2.2 1.5 -2.8 3.5 -5.8 11.5 -4.2 4.2 -1.6 -0.2 -1.8 -1 -2.2 -2 -6.4 -9.8 -3 -2.8 -4 -0.9 -5 1.4 -6 4 -5 5.6 -4 7 -2.7 8.5 -0.6 5 0 5 1.6 9 3.7 8.1 2.8 3.9 3.2 3.3 7 5 9 3.6 11 1.8z"/>
<path fill="#008cff" d="M64.0 64.1l-128.1 -0.1 0.1 -128.2 128.2 0.2zM13.0 55.0l10 -3 9 -4.8 7.4 -6.2 6 -8 3.9 -9 1.6 -9 0 -5 -0.7 -5 -2.9 -9 -5 -8 -6.3 -6.6 -7 -4.7 -8 -3.2 -4 -0.6 -3 0.2 -2.7 0.9 -2.3 1.7 -2.8 4.3 -4.2 11.6 -2 2.5 -1 0.3 -1 -0.4 -2 -2.5 -4.5 -10.5 -2.5 -3 -2 -1.1 -3 -0.4 -3 0.5 -3 1 -6 3.7 -6 5.7 -4.6 6.6 -3.4 7.4 -1.9 7.6 -0.6 8 1.1 8 2.4 7.2 3.2 5.8 4.8 5.7 5.3 4.3 6.7 3.6 7.2 2.4 8.8 1.5 10 0.4z"/>
<path fill="#00a6ff" d="M64.0 64.1l-128.1 -0.1 0.1 -128.2 128.2 0.2zM10.7 57.0l10.3 -2.8 9 -4.2 8.1 -6 3.9 -4 3.1 -4 4.7 -9 2.3 -9 0.3 -10 -0.7 -5 -1.4 -5 -4.3 -8.8 -6 -7.5 -8 -6.6 -8 -4.1 -6 -1.8 -6 -0.4 -5 0.8 -8 2.7 -10 -1.2 -7 1.3 -7 3.4 -7 5.6 -5.6 6.6 -4.4 7.6 -3 8.4 -1.3 8 0.3 9 1.9 8 3.2 7 4.9 6.7 5.8 5.3 6.2 3.8 8 3.2 8 1.7 9 0.8z"/>
<path fill="#00bfff" d="M64.0 64.1l-128.1 -0.1 0.1 -128.2 128.2 0.2zM12.6 58.0l10.4 -3.2 9.3 -4.8 7.7 -6.1 6.5 -7.9 4.6 -9 2.6 -10 0.2 -10 -1.7 -9 -4 -9 -5.9 -8 -7.8 -7 -8.7 -5 -7.8 -2.6 -7 -1 -19 1.4 -7 1.4 -8 3.4 -7.6 5.4 -6.4 6.6 -5.4 8.4 -3.6 8.6 -1.9 9.4 -0.1 9 1.9 9 3.1 7.2 5 7.3 6 5.8 7.3 4.7 7.7 3.1 10 2.2 10 0.6z"/>
<path fill="#00d9ff" d="M64.0 64.0l-128.1 0 0.1 -128.2 128.1 0.2zM6.7 60.0l6.3 -0.6 7 -1.9 5 -1.9 9 -5.1 6 -5 6.5 -7.5 4.6 -8 3.1 -9 1.3 -10 -0.7 -9 -2.6 -9 -4.2 -7.9 -5.8 -7.1 -7.2 -6.1 -8.6 -4.9 -8.8 -3 -9.6 -1.2 -14 1 -9 1.9 -9 4.1 -8 5.9 -7 7.6 -3.2 4.7 -2.8 5.2 -2 5 -1.7 5.8 -1.1 10 1 10 3.1 9 2.7 4.9 2.9 4.1 7 7 8.1 5.2 10 3.8 11 1.9z"/>
<path fill="#00f2ff" d="M64.0 64.0l-26.2 0 6.2 -10.7 3 -6.5 1.9 -5.8 1.1 -6 3.9 -9 2.2 -8 0.7 -8 -0.5 -8 -2 -8 -3.3 -7.2 -3.8 -5.8 -4.2 -4.7 -5 -4.4 -6 -4 -6 -3 -7 -2.4 -6 -1.2 -7 -0.5 -11 0.8 -9 1.9 -8.4 3.5 -7.6 4.9 -7 6.5 -6 7.9 -4.5 8.7 -2.8 9 -1.1 9 0.6 8 2 8 3.8 8 3.4 5 4.6 5.1 5 4.2 5.5 3.7 4.5 4.4 6 4.6 -48 0 0 -128.1 128.1 0.1z"/>
<path fill="#0dfff2" d="M-39.0 64.0l-25 0 -0.1 -128 128.1 -0.1 0 120 -3.2 -7.9 -4.8 -22 0 -3 1.4 -6 0.6 -6 -0.1 -6 -0.8 -6 -2.8 -9 -4.3 -7.8 -4.1 -5.2 -5.2 -5 -5.7 -4.1 -7.2 -3.9 -5.8 -2.2 -7 -1.8 -7 -0.7 -8 0.1 -9 1.2 -7 2 -7.5 3.4 -6.3 4 -5.8 5 -5.4 6 -5 7.6 -3.4 7.4 -1.9 6 -1.3 7 -0.2 6 0.6 6 1.7 7 2.5 6 3 5.2 5.7 7.8 1.2 14 0 3z"/>
<path fill="#26ffd9" d="M-64.0 63.5l0 -127.6 128.1 0.1 -0.1 86.6 -5 -6.3 0.2 -9.3 -0.5 -6 -1.5 -7 -2.2 -5.9 -2.7 -5.1 -3.3 -4.7 -3.9 -4.3 -4.5 -4 -5.6 -3.9 -6 -3.1 -7 -2.7 -7 -1.7 -7 -0.7 -8 0.1 -7.8 1 -7.2 1.9 -5.4 2.1 -5.6 3 -9 6.7 -8 8.9 -6 9.9 -2.6 6.5 -1.6 6 -0.9 6 0 6 0.7 6 1.4 5.3 2 5.2 3.7 7.5 -1.7 5.1 -3 5.2 -4 4.5z"/>
<path fill="#40ffbf" d="M-64.0 41.2l0 -105.3 128.1 0.1 -0.1 73.7 -3 -1.8 -2.8 -14.9 -1.8 -5 -2.5 -5 -2.9 -4.4 -3.9 -4.6 -8.3 -7 -4.8 -3 -6.3 -3 -5.7 -2 -7 -1.6 -6 -0.7 -7 -0.1 -6 0.6 -7 1.3 -10 3.5 -10 6 -8.9 8 -6.9 9 -3.4 6 -2.5 6 -1.7 6 -0.9 6 -0.1 6 0.6 6 1.5 6 2.3 6.2 -2 2.6 -3 2.5 -3 1.5z"/>
<path fill="#59ffa6" d="M-58.0 29.1l-3 0.8 -3 0.1 0 -94.1 128.1 0.1 -0.1 64.3 -3 -0.8 -1.9 -7.5 -1.9 -5 -2.5 -5 -3.3 -5 -6.5 -7 -8.4 -6 -10.7 -5 -11.8 -2.9 -12 -0.6 -12 1.7 -11 3.7 -9 5.1 -5 3.8 -4.5 4.2 -7.5 9.2 -5 8.8 -3.5 10 -1 6 -0.2 6 0.6 6 1.3 6 -0.2 1.2z"/>
<path fill="#73ff8c" d="M-62.0 22.1l-2 -0.2 0 -86 128 0.1 0 55.9 -3 0.2 -1 -0.7 -2 -5.5 -3 -5.8 -3 -4.4 -4 -4.5 -7 -5.8 -8 -4.6 -10 -3.9 -11 -2.1 -11 -0.2 -11 1.6 -9 2.8 -10 5.2 -8.9 6.8 -7.4 8 -6.5 10 -4.1 10 -1.8 9 -0.1 13z"/>
<path fill="#8cff73" d="M-60.0 15.3l-4 0 0 -79.3 128 0 0 47.5 -3 1.4 -2 0.3 -5.4 -9.2 -6.6 -7.4 -9 -6.5 -10 -4.6 -10 -2.8 -10 -1.2 -10 0.4 -10 1.8 -9.2 3.3 -9.2 5 -7.8 6 -7.6 8 -5.6 8 -4.4 9 -2.5 9 -0.7 10.9z"/>
<path fill="#a6ff59" d="M-60.0 9.5l-2 0.3 -2 -0.4 0 -73.4 128 0 0 37.2 -2 3 -3 2.5 -2 0.5 -6 -8.2 -7.9 -7 -7.1 -4.2 -9 -3.8 -9 -2.3 -10 -1.1 -10 0.4 -10 1.9 -9 3.1 -9 4.8 -8.4 6.2 -7 7 -6 8 -4.6 8.5 -2.8 8.5z"/>
<path fill="#bfff40" d="M-61.0 4.6l-3 -0.5 0 -68.1 120 0 4.1 14 1.3 10 -0.4 5 -1 3.6 -2 3.4 -2 1.6 -1 0.4 -6.4 -7 -7.6 -5.7 -8 -4.1 -8 -2.8 -9 -1.9 -9 -0.8 -10 0.6 -9 1.7 -8.7 3 -8.3 4.2 -8 5.5 -6.9 6.3 -6 7 -5.1 8 -3.2 7z"/>
<path fill="#d9ff26" d="M-61.0 -0.1l-3 -0.8 0 -58.6 2 -4.5 110.8 0 3.5 6 3.6 9 1.2 8 -0.9 6 -1.2 2.3 -2 1.9 -1 -0.3 -7 -6.2 -5.8 -3.7 -7.2 -3.3 -8.5 -2.7 -8.5 -1.6 -9 -0.5 -9 0.6 -9 1.7 -8.3 2.8 -8.2 4 -7.6 5 -6.9 5.9 -6.5 7.1 -5 7 -3.5 6.7z"/>
<path fill="#f2ff0d" d="M-61.0 -4.5l-3 -1.2 0 -43.7 4.3 -7.6 5.1 -7 98.8 0 3.5 5 3.2 6 1.9 6 0.5 5 -1.2 5 -2.1 2.2 -8 -5.8 -7 -3.6 -9 -3.1 -10 -2 -10 -0.6 -10 0.8 -9 1.8 -9 3.2 -6.3 3.1 -6.4 4 -5.3 4 -5.4 5 -4.6 5 -4.4 6z"/>
<path fill="#fff200" d="M-60.0 -8.8l-2 -0.3 -2 -1.6 0 -32.7 5.6 -10.6 3.6 -5 4.5 -5 90.8 0 4.5 6 3.1 6 1.4 5 0.2 4 -1 3 -0.7 1 -1 0.4 -8 -4.8 -7 -3 -9 -2.6 -9 -1.4 -9 -0.3 -9 0.8 -9 1.9 -8 2.7 -6 2.7 -6.1 3.6 -5.7 4 -5.8 5 -4.9 5 -4.5 5.6 -3.4 5.4z"/>
<path fill="#ffd900" d="M-60.0 -12.5l-2 -1.2 -2 -2.8 0 -21 2.8 -7.5 3.9 -7 4.5 -6 5.8 -6 84.3 0 4.8 6 3.1 6 1 4 0 3 -1.2 2.9 -1 0.3 -7 -3.7 -7 -2.6 -8 -2 -8 -1.1 -9 -0.2 -8 0.6 -8 1.5 -8 2.4 -6 2.6 -6.3 3.3 -11.2 8 -9.1 9 -3.9 5 -3.5 5.8z"/>
<path fill="#ffbf00" d="M-58.0 -16.9l-1 0.7 -2 -1.4 -1.5 -2.4 -0.9 -3 -0.2 -7 1.3 -7 3 -8 4.1 -7 5.2 -6.6 5.7 -5.4 78.7 0 4.4 5 3.3 6 0.7 3 0 3 -0.8 2.1 -1 0.2 -7 -3.1 -7 -2.1 -7 -1.4 -8 -0.8 -8 0 -8 0.7 -8 1.6 -7 2.2 -12 5.6 -10.4 7 -9.7 9z"/>
<path fill="#ffa600" d="M-58.0 -19.7l-2.3 -2.3 -1.3 -5 0.2 -6 1.8 -7 3.1 -7 3.9 -6 5.1 -6 5.6 -5 73.6 0 4.5 5 2.7 5 0.7 3 -0.1 2 -0.5 1.4 -1 0.3 -13 -4 -7 -1.1 -8 -0.6 -8 0.2 -7 0.9 -7 1.4 -7 2.2 -11 4.9 -10.1 6.4 -8.3 7 -4.8 5 -3.8 4.8z"/>
<path fill="#ff8c00" d="M-56.0 -23.2l-1 -0.1 -1.5 -1.7 -1.2 -5 0.6 -6 1.9 -6 2.9 -6 4.2 -6 5.1 -5.5 5.4 -4.5 68.6 0 3.8 4 3 5 0.5 4 -0.3 1 -1 0.4 -13 -3.2 -13 -1 -14 1.1 -13 3.3 -10.5 4.4 -10.2 6 -9.3 7.4z"/>
<path fill="#ff7300" d="M-54.0 -27.0l-1 0.8 -1 -0.8 -1.1 -2 -0.5 -3 0.7 -6 2.1 -6 3.4 -6 3.8 -5 4.6 -4.6 5.5 -4.4 63.9 0 3.9 4 2.3 4 0.4 3 -0.2 1 -0.8 0.3 -13 -2.4 -12 -0.4 -13 1.3 -12 3 -10 4.1 -9 5.1 -9.6 7z"/>
<path fill="#ff5900" d="M-53.0 -29.6l-1 -0.2 -0.8 -1.2 -0.7 -4 0.9 -5 2.4 -6 3.1 -5 4.1 -5 4.3 -4 5.4 -4 59 0 3.9 4 1.7 3 0.4 2 -0.1 1 -0.6 0.4 -13 -1.6 -11 0 -12 1.4 -11 2.9 -9 3.6 -9 4.7 -9 6.2z"/>
<path fill="#ff4000" d="M-51.0 -32.7l-1 0 -0.8 -1.3 -0.4 -3 0.9 -5 2.2 -5 3.3 -5 3.8 -4.3 5 -4.4 4.8 -3.3 54.2 0 3.1 3 1.8 3 0.1 3 -11 -1.1 -11 0.2 -11 1.4 -11 2.9 -9 3.5 -8.1 4.1 -7.9 5z"/>
<path fill="#ff2600" d="M-49.0 -35.7l-1 0 -0.6 -1.3 -0.2 -3 1 -4 2.6 -5 2.8 -4 3.8 -4 4.6 -3.8 5 -3.2 49.1 0 3.1 3 1.2 2 0.3 2 -0.7 0.3 -11 -0.3 -10 0.5 -10 1.7 -9 2.4 -8 3 -8 3.9 -7.6 4.5z"/>
<path fill="#ff0d00" d="M-47.0 -38.6l-0.9 -0.4 -0.3 -1 0.1 -3 1.5 -4 2.4 -4 6.5 -7 4 -3 5 -3 43.6 0 2.4 2 1.4 2 0.3 2 -1 0.2 -9 -0.1 -9 0.8 -9 1.5 -9 2.4 -14 5.8z"/>
<path fill="#f20000" d="M-44.0 -41.6l-1 0.1 -0.3 -0.5 -0.2 -2 0.5 -2 1.9 -4 2.2 -3 6.4 -6 8.3 -5 37.7 0 2.4 2 1.2 2 -0.1 1 -17 1.3 -15 3.4 -13 5z"/>
<path fill="#d90000" d="M-41.0 -44.6l-1 0.2 -0.3 -0.6 0.4 -3 1.5 -3 2.4 -3 7 -6 7.8 -4 30.7 0 3.2 3 0.2 1 -0.9 0.2 -14 1.6 -14 3.4 -11 4.2z"/>
<path fill="#bf0000" d="M-37.0 -47.8l-1.7 -0.2 0.4 -2 1.7 -3 2.8 -3 6.8 -4.8 7.5 -3.2 22.1 0 1.9 1 1.7 2 -14.2 2.7 -10 2.7 -9 3.2z"/>
<path fill="#a60000" d="M-33.0 -50.8l-1.2 -0.2 0.7 -2 3.6 -4 4.6 -3 6.3 -2.6 6.6 -1.4 6.6 0 4.2 1 1.7 1 0.6 1 -12.7 2.7 -7 2z"/>
</g>
<path class="ct" d="M9.8 46.0l9.2 -1.3 8 -3.1 4 -2.6 3 -2.6 4.9 -6.4 1.9 -4 1.1 -4 0.5 -4 0 -4 -0.7 -4 -1.4 -4 -3.8 -6 -3.1 -3 -3.4 -2.2 -4 -1.7 -4 -0.5 -3 0.5 -3 1.5 -11 10.7 -6 3.7 -2 0 -2 -0.7 -9 -6.4 -4 -1.8 -4 0 -2.3 0.9 -2.7 1.8 -3 3.2 -2.3 4 -1.3 4 -0.7 5 0.3 5 0.9 4 1.8 4 2.7 4 5.6 4.8 7 3 6 1 19.8 1.2M6.5 58.0l8.5 -1.3 9 -3 8 -4.3 6.9 -5.4 6.1 -7 4 -6.8 2.7 -7.2 1.4 -8 -0.1 -8.3 -1.9 -8.7 -3.1 -7.1 -4.7 -6.9 -6.3 -6.4 -7 -4.9 -8 -3.7 -8 -1.7 -5 0 -10 1.6 -8 0.2 -5 0.6 -6.7 2.3 -6.3 3.8 -4 3.2 -4 4.1 -6 8.6 -4 9.3 -2 10 0.3 10 1 5 1.6 5 2.1 4.3 3 4.7 6 6.5 8 5.5 9 3.6 11 2.1 11.5 0.3M64.0 8.3l-3 -1.7 -3 -14.6 -2 -5.3 -2.5 -4.7 -6.5 -8.4 -8 -6.7 -5 -3.1 -5.9 -2.8 -5.5 -2 -6.6 -1.6 -6 -0.8 -7 -0.2 -7 0.6 -6 1.1 -11 3.8 -9 5.2 -9 7.7 -7.4 9.2 -3.5 6 -2.6 6 -1.8 6 -1.1 6 -0.3 5 0.4 6 1.3 6 2 6 0 1.8 -2 2.3 -3 2.1 -3 1.2 -4 0.8M49.6 -64.0l5.5 11 1.6 5 0.9 5 0 4 -0.7 4 -1.5 3 -2.3 2 -6.6 -6 -6.5 -4.4 -7.6 -3.6 -8.4 -2.7 -8 -1.6 -9 -0.7 -9 0.5 -9 1.6 -8 2.5 -7.5 3.4 -7.5 4.6 -6.8 5.4 -6.9 7 -6 8 -4.2 8 -3.1 8.6 -3 -0.8M30.1 -64.0l3.8 4 2.6 4 1.2 4 -0.1 2 -0.6 1.3 -14 -3.5 -12 -1.2 -13 0.6 -12 2.4 -12 4.5 -11 6.2 -11 8.6 -9 9.6 -2.4 -2.5 -1.1 -5 0.5 -6 1.7 -6 2.8 -6 3.9 -6 5.2 -6 5.8 -5M14.0 -64.0l2.4 2 1.3 2 0.2 1 -0.9 0.8 -17 0.8 -15 3.1 -14 5.2 -8.1 4.1 -8.9 5.5 -1 -0.1 -0.5 -2.4 0.6 -3 1.9 -4 2 -3 7 -6.9 8 -5.1"/>
</g>
<g class="ol">
<circle cx="0" cy="0" r="60.7"/>
<path d="M10.9 -59.8L2.4 -69.2L0 -69.9L-2.4 -69.2L-10.9 -59.8"/>
<path d="M59.4 -11.6L61.9 -14.3L62.9 -14.4L64.3 -13.9L65.8 -11.6L65.6 .7L66.4 11.3L64.6 15.9L61.9 16.8L58.6 14.6"/>
<path d="M-59.4 -11.6L-61.9 -14.3L-62.9 -14.4L-64.3 -13.9L-65.8 -11.6L-65.6 .7L-66.4 11.3L-64.6 15.9L-61.9 16.8L-58.6 14.6"/>
</g>
</g>
<g transform="translate(98.5 316.7)">
<g clip-path="url(#hc)">
<g filter="url(#bl)">
<rect x="-64" y="-64" width="128" height="128" fill="#00008c"/>
<path fill="#0000a6" d="M64.0 64.3l-128 0 -0.3 -0.3 -0.1 -128 0.4 -0.4 128 0 0.4 0.4 -0.1 128zM-32.9 21.0l1.2 -1 1.2 -2 0.5 -2 -0.1 -3 -0.9 -2.3 -1.4 -1.7 -1.6 -1 -2 -0.1 -2 0.9 -1.7 2.2 -0.7 3 0.3 3 1.1 2.4 2 1.7 2 0.5z"/>
<path fill="#0000bf" d="M64.0 64.3l-128.3 -0.3 -0.1 -128 0.4 -0.4 128 0 0.4 0.4zM-33.4 24.0l2.4 -1.3 1.9 -2.7 0.9 -3 0 -4 -0.9 -3 -1.9 -2.8 -2 -1.4 -3 -0.4 -3 1.3 -1.9 2.3 -1.2 3 -0.2 4 1.1 4 2.2 2.7 3 1.5z"/>
<path fill="#0000d9" d="M64.0 64.3l-128.3 -0.3 -0.1 -128 0.4 -0.4 128 0 0.4 0.4zM-32.5 26.0l3 -2 1.9 -3 1.1 -4 -0.1 -4 -1.2 -4 -2.2 -3.3 -3 -2 -3 -0.3 -3.8 1.6 -2.5 3 -1.4 4 -0.1 5 1.2 4 2.6 3.4 2 1.4 2 0.6z"/>
<path fill="#0000f2" d="M64.0 64.3l-128.3 -0.3 0 -128 0.3 -0.3 128 0 0.3 0.3zM-32.2 28.0l3.2 -2 2.7 -4 1.2 -5 -0.3 -5 -1.6 -4.7 -3 -3.7 -3 -1.7 -4 -0.1 -4 2.1 -2.9 4.1 -1.4 5 0.2 5 1.8 5 3.3 3.7 4 1.7z"/>
<path fill="#000dff" d="M64.0 64.2l-128.2 -0.2 -0.1 -128 0.3 -0.3 128 0 0.3 0.3zM43.2 11.0l1.9 -3 0.5 -3 -0.2 -2 -1.4 -3 -1.3 -1 -1.7 -0.4 -2 0.9 -1.2 1.5 -1 3 0 3 1 3 1.2 1.3 2 0.6zM-32.4 30.0l3.8 -2 3.1 -4 1.6 -5 0 -6 -1.3 -5 -2.8 -4.5 -4 -2.9 -4 -0.7 -4 1.4 -2 1.5 -2 2.5 -2.3 5.7 -0.3 6 1.6 5.9 3 4.3 2 1.6 3 1.2z"/>
<path fill="#0026ff" d="M64.0 64.2l-128.2 -0.2 -0.1 -128 0.3 -0.3 128 0 0.3 0.3zM42.2 17.0l2.8 -1.7 2.4 -3.3 1.3 -4 0.2 -4 -0.9 -4.4 -2 -3.4 -2 -1.6 -3 -0.8 -3 1.1 -2.7 3.1 -1.4 4 -0.5 5 0.6 4 2 4 3 2.1zM-33.1 32.0l2.1 -0.6 2.6 -1.4 3.4 -3.8 2 -5.2 0.4 -7 -1.4 -6.2 -3 -5.2 -4 -3.2 -2 -0.8 -3 -0.2 -2.6 0.6 -2.4 1.2 -2.1 1.8 -1.9 2.5 -2.3 5.5 -0.6 7 1.4 6 1.5 2.8 2 2.6 2 1.7 3 1.5z"/>
<path fill="#0040ff" d="M64.0 64.2l-128.2 -0.2 -0.1 -128 0.3 -0.3 128.3 0.3zM42.2 21.0l3.8 -2.2 3 -3.8 1.8 -5 0.5 -6 -0.9 -5 -2.4 -4.7 -3 -2.7 -4 -1.1 -2 0.3 -2 1 -3 3.3 -2.3 5.9 -0.6 7 1 6 1.4 3 1.5 2 3 2 2 0.3zM-30.1 33.0l4.2 -3 3.1 -5 1.5 -7 -0.5 -7 -2.2 -6.1 -3.7 -4.9 -4.3 -2.6 -2 -0.4 -3 0 -3 1 -2.9 2 -3.8 5 -1.3 3.1 -0.9 3.9 -0.2 4 0.4 4 1.2 4 1.5 2.9 4 4.4 3 1.7 3 0.8 3 0z"/>
<path fill="#0059ff" d="M64.0 64.2l-128.2 -0.2 0.2 -128.3 128.3 0.3zM43.6 24.0l4.4 -3.2 3.2 -4.8 1.8 -6 0.3 -7 -1.4 -6 -2.9 -5.1 -4 -3.3 -2 -0.7 -3 -0.2 -3 1 -2 1.5 -3.4 4.8 -1.4 4 -0.8 4 -0.2 8 1.8 7 3 4.5 2 1.4 3 0.9zM-30.3 35.0l2.3 -1.1 2.5 -1.9 3.5 -5.2 1.8 -6.8 -0.3 -8 -1 -4 -1.5 -3.7 -3.8 -5.3 -2.2 -1.7 -3 -1.4 -5 -0.3 -3 0.9 -3 1.9 -2.6 2.6 -1.9 3 -1.7 4 -0.9 4 -0.2 4 0.4 4 2.4 7 2 3 2.5 2.5 3 1.9 3 1 3 0.3z"/>
<path fill="#0073ff" d="M64.0 64.2l-128.2 -0.2 0.2 -128.3 128.3 0.3zM41.2 28.0l4.8 -2 3 -2.6 2 -2.5 3.1 -6.9 1.1 -8 -1.1 -8 -1.1 -3.2 -2 -3.6 -2 -2.4 -3 -2.3 -2 -0.8 -3 -0.5 -3 0.4 -2.7 1.4 -2.3 2.1 -2 2.9 -1.8 4 -1.1 4 -0.8 9 1 8 2.7 6.4 2 2.3 3 1.8 3 0.7zM-30.6 37.0l2.6 -1 3 -2.1 2 -2.3 2 -3.4 1.9 -7.2 -0.1 -8 -1.1 -5 -1.6 -4 -2.1 -3.6 -2 -2.4 -2 -1.6 -3 -1.6 -3 -0.8 -3 0.1 -3 0.9 -3.4 2 -2.6 2.6 -2.3 3.4 -1.8 4 -1 4 -0.4 5 0.3 4 1 4 1.7 4 1.9 3 2.6 2.7 3 2.1 3 1.2 4 0.5z"/>
<path fill="#008cff" d="M64.0 64.2l-128.2 -0.2 0.2 -128.3 128.3 0.3zM42.0 31.0l3 -1.2 3 -1.9 2.8 -2.9 2.2 -3.2 3 -7.8 0.8 -9 -0.5 -5 -1.1 -4 -1.7 -4 -1.9 -3 -2.6 -2.8 -3 -2 -3 -1.1 -3 -0.2 -3 0.7 -3 1.7 -3 3.2 -2 3.5 -1.5 4 -1.2 5 -0.6 5 0 6 1.5 9 1.7 4 2.1 2.9 2 1.7 3 1.4 3 0.4zM-30.7 39.0l2.9 -1 3.1 -2 2.7 -2.9 1.9 -3.1 1.4 -4 0.8 -4 -0.2 -9 -1.1 -5 -1.4 -4 -2.2 -4 -2.2 -2.7 -3 -2.6 -3 -1.4 -3 -0.7 -3 0.1 -4 1.2 -3 1.9 -3 3.1 -2.1 3.1 -1.8 4 -1.3 5 -0.4 5 0.2 4 0.8 4 1.6 4.2 2.3 3.8 2.7 3 3 2.2 4 1.7 4 0.5z"/>
<path fill="#00a6ff" d="M64.0 64.1l-128.1 -0.1 0.1 -128.2 128.2 0.2zM42.5 34.0l3.5 -1.5 3 -2.1 3 -3.2 2.2 -3.2 1.9 -4 1.5 -5 0.7 -5 0.1 -5 -1.5 -9 -1.6 -4 -2.3 -4 -3 -3.4 -3 -2.1 -3 -1.3 -4 -0.5 -4 0.9 -3 1.9 -3 3.2 -2 3.5 -1.9 4.8 -1.3 6 -0.8 7 0 6 0.6 5 1.2 5 1.7 4 2.3 3 3.2 2.4 3 1 3 0.2zM-30.5 41.0l3.5 -1.2 3 -1.9 2.9 -2.9 1.8 -3 1.6 -4 0.9 -4 0.3 -5 -0.3 -5 -1 -5 -1.6 -5 -2 -4 -2.6 -3.5 -3 -2.7 -3 -1.7 -3 -0.8 -4 -0.1 -4 1.2 -3 1.8 -3 2.8 -3 4.2 -2.1 4.8 -1.3 5 -0.4 5 0.3 5 1.2 5 1.6 4 2.6 4 2.9 3 3.2 2.2 4 1.6 4 0.5z"/>
<path fill="#00bfff" d="M64.0 64.1l-128.1 -0.1 0.1 -128.2 128.2 0.2zM43.1 37.0l3.9 -1.9 3 -2.2 3.6 -3.9 2.5 -4 2.1 -5 1.2 -5 0.5 -5 -0.1 -6 -0.7 -5 -1.4 -5 -2.2 -5 -2.5 -3.6 -3 -3 -4 -2.6 -3 -0.9 -4 -0.3 -4 1.1 -3 2 -3 3.4 -2.7 4.9 -2 6 -1.2 6 -0.7 8 0.1 7 0.5 5 1.2 5 1.8 4 2.3 3 2.7 2.2 4 1.5 4 0.2zM-29.8 43.0l3.8 -1.3 3 -1.9 2.8 -2.8 2.2 -3.4 1.4 -3.6 1.1 -5 0.3 -5 -0.4 -6 -1 -5 -1.6 -5 -1.9 -4 -2.9 -4.2 -3 -3 -4 -2.2 -3 -0.8 -4 0 -4 1.1 -3.6 2.1 -3.4 3.2 -2.7 3.8 -2.3 5 -1.4 5 -0.6 6 0.2 5 1 5 2 5 2.4 4 3.4 3.6 4 2.7 4 1.6 4 0.5z"/>
<path fill="#00d9ff" d="M64.0 64.1l-128.1 -0.1 0.1 -128.2 128.2 0.2zM40.5 41.0l4.5 -1.5 4 -2.3 4 -3.3 3 -3.7 2.8 -5.2 1.6 -5 1 -5 0.4 -6 -0.5 -6 -1.5 -7 -1.8 -5.2 -2.7 -4.8 -3.3 -4 -4 -3.1 -4 -1.8 -4 -0.6 -4 0.6 -4 2.1 -3 2.9 -3 4.7 -2.4 6.2 -1.6 7 -1.1 8 -0.3 8 0.4 6.9 0.9 5.1 1.3 4 2.3 4 2.5 2.4 4 2.2 4 0.7zM-28.4 45.0l4.4 -1.8 3 -2.1 2.8 -3.1 1.7 -3 1.5 -4 0.9 -5 0.2 -6 -0.5 -6 -1.3 -6 -1.7 -5 -2.5 -5 -2.9 -4 -3.2 -2.9 -3 -1.7 -4 -1.2 -4 0 -4 1.1 -4.5 2.7 -3.5 3.4 -3.1 4.6 -2.2 5 -1.5 6 -0.5 6 0.5 6 1.1 5 2 5 2.7 4.2 3.8 3.8 4.2 2.6 5 1.7 4 0.3z"/>
<path fill="#00f2ff" d="M64.0 64.1l-128.1 -0.1 0.1 -128.2 128.2 0.2zM42.2 44.0l4.8 -1.8 4 -2.4 4 -3.7 3.1 -4.1 2.5 -5 1.9 -6 1 -6 0.1 -7 -0.6 -6 -1.5 -6 -2.8 -7 -3 -5 -3.7 -4.2 -4 -2.9 -4 -1.7 -5 -0.7 -5 1.1 -3.7 2.4 -3.3 3.7 -3 5.6 -2.5 7.7 -1.6 9 -1 10 0 10 0.6 6 1.1 4 1.9 4 2.7 3 3.8 2.4 4 1.2 5 0.2zM-31.9 48.0l4.9 -0.9 4 -1.7 3.5 -2.4 2.8 -3 2.3 -4 1.2 -4 0.8 -6 0 -6 -0.9 -7 -1.8 -7 -2.3 -6 -3 -5 -3.6 -4.1 -4 -2.8 -4 -1.3 -4 -0.2 -5 1.1 -4 2.2 -4 3.6 -3.4 4.5 -2.4 5 -1.8 6 -0.9 6 0.1 7 0.9 6 1.5 4.5 2.4 4.5 3.2 4 4.4 3.6 4 1.9 5 1.3z"/>
<path fill="#0dfff2" d="M64.0 64.1l-128.1 -0.1 0.1 -128.2 128.2 0.2 -0.2 62.1 -2.6 -7.1 -4 -7 -3.4 -4.3 -4 -3.5 -5 -2.6 -5 -1.1 -5 0.6 -4 1.8 -3 2.6 -3 4 -2.2 4.5 -2 6 -3 16 -1.3 19 0.9 9 1.6 3.8 2 2.6 3.2 2.6 4.8 2.3 4 1 5 0.2 5 -0.8 4 -1.4 4 -2.3 3.8 -3 3.2 -3.5 2.3 -3.5 2 -4 1.7 -5.1zM-27.9 50.0l4.9 -1.8 4 -2.2 3.5 -3 2.7 -4 1.4 -4 0.7 -5 0.1 -6 -0.7 -7 -1.4 -7 -2.1 -7 -2.8 -6 -3.4 -5 -3 -3.1 -4 -2.5 -4 -1.3 -5 -0.1 -5 1.5 -5 3.1 -4 4.2 -3.4 5.2 -2.5 6 -1.4 6 -0.8 8 0.3 7 1.4 6 2.2 5 3.2 4.8 4 3.8 5 3 5 1.6 5 0.5z"/>
<path fill="#26ffd9" d="M64.0 64.1l-128.1 -0.1 0.1 -128.2 128.2 0.2 -0.2 56.2 -3 -5.8 -5 -6.6 -4 -4 -4 -2.7 -5 -2 -5 -0.6 -5 1 -4.2 2.5 -3 3 -2.5 4 -2.2 5 -1.8 6 -3.1 16 -3 26 0.3 4 1.1 3 2.3 3 2.5 2 4.6 2.8 5 2.1 5 1.3 4 0.3 4 -0.4 4 -1.1 7.5 -4 3.5 -2.9 2.7 -3.1 4.3 -7.3zM-28.8 53.0l4.8 -1.6 6 -3 4.7 -3.4 2.7 -3 1.5 -3 0.7 -3 0.3 -5 -0.4 -6 -1.6 -10 -2.4 -9 -2.7 -7 -3.3 -6 -3.5 -4.3 -4 -3.2 -5 -2 -5 -0.3 -5 1.1 -5 2.7 -5 4.6 -3.8 5.4 -2.7 6 -2.2 8 -1.2 8 0.1 7 1 6 2.2 6 3.1 5 4.5 4.7 5 3.3 5 1.9 6 0.8z"/>
<path fill="#40ffbf" d="M64.0 64.0l-128 0 0 -128.2 128.2 0.2 -0.2 51.7 -3.8 -5.7 -6.2 -6.3 -4 -3.2 -4.8 -2.5 -5.2 -1.3 -5 0.1 -4 1.2 -4 2.7 -2.9 3.3 -1.8 3 -3.5 9 -2.3 9 -4.5 23.7 -4.6 17.3 0.3 2 1 2 2 2 4.4 3 14.9 7.7 4 1.4 4 0.7 7 -0.8 8 -3.4 6.1 -4.6 4.9 -6.1zM-32.3 57.0l4.3 -1.1 5 -2.2 13.3 -7.7 3.7 -3 1.5 -2 0.8 -2 0.1 -2 -6.2 -27 -3.1 -9 -3.3 -7 -4.3 -6 -4.5 -4 -5 -2.2 -5 -0.6 -6 1.3 -5 2.6 -5 4.3 -4 5.3 -3.6 7.3 -2.8 9 -1.4 7 -0.3 8 0.8 7 1.8 6 2.6 5 3.9 4.9 5 4 5 2.6 6 1.6z"/>
<path fill="#59ffa6" d="M4.0 28.0l-2 0.7 -2 -0.8 -3 -3.9 -8.8 -24 -2.8 -6 -3 -5 -5.4 -5.9 -3 -2 -4 -1.5 -5 -0.4 -6 1.3 -5 2.6 -4.8 3.9 -4.1 5 -3 5 -4.2 10 -1.9 6 0 -77.1 128.1 0.1 -0.1 47.7 -2.8 -3.7 -3.1 -3 -7.7 -6 -5.4 -2.9 -5 -1.3 -5 -0.1 -4 0.9 -4 2.2 -4 4.3 -3.6 6.9 -2.9 9 -4.5 20.8 -2 7.1 -3 6.8zM64.0 64.0l-128 0 0 -22.5 3.3 6.5 5.7 6.3 7 4.5 8 2.6 5 0.3 5 -1.3 22 -12.2 5 -2 5 -0.7 4 0.7 6 2.3 8 3.9 13 7.6 6 1.8 6 -0.4 7 -2.4 6.8 -4 5.2 -4.8z"/>
<path fill="#73ff8c" d="M4.0 20.3l-2 0.6 -2 -0.6 -3 -3.6 -9.3 -21.7 -5.7 -9.6 -3 -3.3 -3 -2.4 -3 -1.6 -3 -0.9 -4 -0.3 -5 0.8 -5 2 -5 3.4 -4 3.9 -3.8 5 -7.2 14.1 0 -70.2 128.1 0.1 -0.1 44 -3 -3.4 -3 -2.4 -9 -5.8 -5 -2.4 -5 -1.3 -4 -0.1 -4 0.6 -4.1 1.8 -2.5 2 -2.4 2.7 -3.5 6.3 -2.9 9 -6 24 -2.6 5.9zM30.0 64.0l-57.4 0 7.8 -7 6.6 -4.1 8 -3.4 7 -1 7 1.2 9 3.9 7.8 5.4 5.1 5zM-52.0 64.0l-12 0 0 -9.1 5 4.6zM64.0 64.0l-7.5 0 7.5 -4.7z"/>
<path fill="#8cff73" d="M3.0 14.3l-1 0.2 -2 -0.5 -3 -3.3 -9.4 -19.7 -5.6 -8.9 -5 -4.8 -3 -1.7 -3 -0.9 -4 -0.4 -5 0.7 -5 1.9 -5 3.2 -4 3.4 -3.9 4.5 -8.1 12.7 0 -64.8 128.1 0.1 -0.1 40.3 -3.6 -3.3 -3.4 -2.3 -5 -2.1 -6 -3.5 -4 -1.5 -5 -1 -4 0 -4 0.7 -3.6 1.7 -4.4 4 -3.5 6 -2.8 8 -6.1 23 -2.6 5.6zM25.0 64.0l-47.3 0 3.7 -5 6.6 -4.7 7 -2.8 7 -0.9 7 1 8 3.5 3 1.9 3.3 3 2.6 4z"/>
<path fill="#a6ff59" d="M3.0 8.1l-1 0.3 -2 -0.4 -3 -3 -10.4 -20 -4.6 -6.9 -5 -4.5 -5 -2 -4 -0.3 -5 0.8 -4 1.4 -5 2.8 -4 3 -4 3.9 -10 12.7 0 -60 128.1 0.1 -0.1 36.7 -3.3 -2.7 -3.7 -2.2 -7 -2.3 -5 -2.5 -5 -1.7 -5 -0.9 -4 0.1 -4 0.9 -3 1.4 -4 3.3 -3.7 5.9 -2.6 7 -5.7 21.1 -2.2 4.9zM22.0 64.0l-40.9 0 1.5 -3 1.7 -2 4.7 -3.4 6 -2.5 7 -0.9 7 1.1 6.3 2.7 5 4 1.9 3 0.4 1z"/>
<path fill="#bfff40" d="M3.0 1.3l-1 0.5 -2 -0.1 -3 -2.5 -3 -4.8 -7.9 -15.4 -4.1 -5.9 -4 -3.3 -5 -1.8 -4 -0.1 -4 0.7 -4 1.4 -5 2.6 -8.2 6.4 -6.8 7.6 -5 4.6 -0.1 -55.2 128.1 -0.1 0 33 -4 -2.7 -4 -1.8 -8 -1.7 -6 -2.6 -5 -1.3 -8 -0.4 -4 0.9 -3 1.3 -4.1 3.4 -3.2 5 -2.6 7 -5.1 18.7 -2 4.4zM19.0 64.0l-35 0 2.1 -4 3.9 -3.2 6 -2.4 6 -0.8 6 0.9 6 2.5 2.7 2 1.7 2 1.3 3z"/>
<path fill="#d9ff26" d="M1.0 -4.8l-2 -0.5 -3 -3.4 -8.7 -17.3 -3.3 -5 -4 -3.5 -5 -1.6 -3 -0.1 -4 0.7 -8 3.3 -8 5.4 -5.6 4.8 -4.4 4.5 -6 3.9 -0.1 -50.4 128.2 0 -0.1 28.8 -4 -2.2 -4 -1.5 -5 -1 -5 -0.1 -6 -2.2 -6 -1.4 -7 -0.2 -6.6 1.8 -4.4 3.1 -3.5 4.9 -2.4 6 -5.1 18.4 -2 3.5zM17.0 64.0l-30.5 0 0.7 -2 1.4 -2 3.4 -2.6 5 -1.9 5 -0.5 6 0.9 4.6 2.1 3.3 3z"/>
<path fill="#f2ff0d" d="M0.0 -14.9l-2 -0.8 -2 -2.6 -5.8 -12.7 -3.2 -4.9 -4 -3.2 -5 -1.4 -6 0.5 -7.5 3 -9.5 6 -12 10 -7 2.4 -0.1 -45.4 128.1 0 0 24.3 -4 -1.7 -5 -1.4 -6 -0.5 -6 0.5 -6 -2 -6 -1.2 -6 -0.1 -6 1.3 -5.1 2.8 -4.4 5 -2.7 6 -3.8 12.7 -1.3 2.3zM14.0 64.0l-25 0 1.3 -3 2.7 -2.3 4 -1.7 5 -0.6 5 0.7 4.2 1.9 2.9 3 0.6 2z"/>
<path fill="#fff200" d="M-58.0 -23.8l-3 0.2 -3 -0.5 0 -39.9 128 0 0 19 -5 -1.4 -5 -0.7 -6 0.1 -8 1.4 -11 -2.6 -9 0.1 -4.6 1.1 -4.5 2 -9.9 7.7 -2 0.7 -2 -0.4 -7.1 -5 -3.9 -1.8 -4 -0.9 -5 0.3 -5 1.4 -6.1 3 -9.1 6 -11.8 9.1zM12.0 64.0l-20.4 0 0.6 -2 2.8 -2.6 3 -1.1 4 -0.5 4 0.6 3 1.2 2.5 2.4z"/>
<path fill="#ffd900" d="M-57.0 -26.9l-2 -0.2 -2 -1 -1.8 -1.9 -1.2 -2.3 0 -31.7 128 0 0 12.3 -7 -0.6 -7 0.4 -6 1.2 -7 2.5 -10 -2.2 -9 -0.1 -6 1 -9 2.7 -4 0.5 -13 -2 -6 0.4 -6 1.8 -6 3.1 -7.7 5 -14.3 10.4zM9.0 64.0l-14.5 0 0.5 -1.7 1.3 -1.3 2.7 -1.2 3 -0.3 3 0.4 2.4 1.1 1.7 2z"/>
<path fill="#ffbf00" d="M-53.0 -29.9l-3 0.3 -2 -0.7 -1.6 -1.7 -0.8 -2 -0.5 -4 0.4 -10 -1.1 -3 -2.4 -2.4 0 -10.6 128 0 0 2.6 -18 4.3 -6 2.3 -7 3.9 -8 -1.6 -7 -0.4 -17 1.8 -15 -0.3 -6 1.1 -5.7 2.3 -5.3 2.9zM4.0 64.0l-5.1 0 0.3 -1 0.8 -0.6 2 -0.4 2.6 1 0.3 1z"/>
<path fill="#ffa600" d="M-53.0 -31.9l-2 -0.1 -2 -1.3 -0.9 -1.7 -0.4 -3 0.5 -4 1.2 -4 5.3 -13 0 -2 -1.5 -3 94.7 0 -6.9 4.6 -5.9 5.4 -1.1 0.3 -8 -1.1 -7 -0.2 -24 1 -8 1.5 -5 2.1 -5 2.8 -21 14.5z"/>
<path fill="#ff8c00" d="M-52.0 -34.0l-2 -0.3 -1 -0.6 -1.1 -2.1 0 -4 1.2 -4 2.4 -5 2.5 -3.7 9.3 -10.3 68.1 0 -4.4 7.3 -12 -0.3 -18 0.5 -6 0.7 -6 1.7 -8 4 -21 14.5 -2 1.2z"/>
<path fill="#ff7300" d="M-50.0 -36.0l-3 -0.4 -1.2 -1.6 -0.1 -4 1.8 -5 3.2 -5 4.3 -4.8 5 -4.1 5 -3.1 51.2 0 -0.3 5 -23.9 0.7 -6 1 -5 1.8 -8 4.3 -18 12.6z"/>
<path fill="#ff5900" d="M-48.0 -38.0l-3 0.1 -1 -0.6 -0.7 -1.5 0.4 -4 1.8 -4 3.5 -4.8 4 -3.9 4 -2.9 5 -2.7 4.8 -1.7 30.1 0 3.5 3 -9.4 0.5 -7 1 -6 2.1 -8 4.5 -17 12z"/>
<path fill="#ff4000" d="M-46.0 -40.0l-3 0.5 -1.2 -0.5 -0.8 -1.3 0.1 -2.7 1.2 -3 1.8 -3 4.9 -5.2 6 -4 6 -2.4 6 -0.6 3.5 1.2 0.6 2 -1 2z"/>
<path fill="#ff2600" d="M-45.0 -41.7l-3 0.3 -1 -0.7 -0.3 -1.9 0.5 -2 1.6 -3 4.2 -4.8 5 -3.5 5 -2.1 4 -0.6 3.1 1 0.3 2 -2.1 3 -12.3 9.3z"/>
<path fill="#ff0d00" d="M-43.0 -43.9l-3 0.6 -1 -0.5 -0.4 -1.2 1.4 -3.7 3 -3.6 4 -3.1 4 -1.8 4 -0.6 1.7 0.8 -0.1 2 -2.4 3 -6.2 5z"/>
<path fill="#f20000" d="M-42.0 -46.0l-2 0.4 -0.7 -0.4 -0.3 -1 0.9 -2 1.5 -2 2.6 -2.2 3 -1.6 2 -0.6 2.1 0.4 -0.3 2 -1.7 2 -3.6 3z"/>
</g>
<path class="ct" d="M43.6 15.0l2.1 -2 1.6 -3 0.7 -3 0 -4 -1 -3.5 -1.6 -2.5 -2.4 -1.7 -2 -0.3 -3 1.2 -2.2 2.8 -1.3 4 -0.2 5 1.1 4 2.3 3 1.3 0.7 2 0.3 2.6 -1M-31.3 31.0l2.3 -1.2 2 -1.7 2.6 -4.1 1.5 -6 -0.3 -6 -1.8 -5.7 -3 -4.3 -4 -2.6 -2 -0.5 -3 0.1 -2.8 1 -2.2 1.5 -3.4 4.5 -2 6 0.2 7 2.2 6.1 2 2.6 2 1.8 2 1.2 3 0.8 4.7 -0.5M39.2 36.0l3.8 -0.8 4 -1.9 3 -2.4 3 -3.4 2.2 -3.5 2.1 -5 1.2 -5 0.6 -6 -0.3 -6 -1 -5 -1.8 -5 -2 -3.7 -3 -3.7 -3 -2.5 -3 -1.5 -4 -0.8 -4 0.5 -3 1.4 -2.8 2.3 -2.3 3 -2 4 -1.9 5.7 -1.2 6.3 -0.5 6 0.1 6 0.6 6 1.4 5 1.6 3.4 2 2.7 3 2.4 3 1.2 4.2 0.3M-31.0 42.0l4 -1.2 3 -1.8 3 -2.8 2 -3 1.7 -4.2 0.9 -4 0.5 -5 -0.3 -5 -1.1 -6 -1.6 -5 -2.1 -4.2 -2.7 -3.8 -3.3 -2.9 -3 -1.6 -3 -0.9 -4 0 -4 1.2 -3 1.7 -3 2.7 -3 4 -2.3 4.8 -1.4 5 -0.6 5 0.1 5 1 5 1.8 5 2.4 3.9 2.7 3.1 3.3 2.5 4 1.9 4 0.8 4 -0.2M64.0 -12.9l-3.5 -5.1 -6.5 -6.6 -4 -3.2 -5 -2.5 -5 -1.3 -5 0.1 -4 1.2 -4 2.6 -4.5 5.7 -3.7 9 -2.3 9 -4.5 23.1 -2 7.4 -3.5 9.5 -0.4 3 0.6 2 1.7 2 5.8 4 15.8 8.2 4 1.5 4 0.7 7 -0.7 7 -2.8 7 -4.9 5 -5.9M-30.0 57.0l9 -3.9 13.6 -8.1 4.2 -4 0.8 -2 0 -2 -8.1 -30 -3 -8 -3.1 -6 -4.4 -6 -4 -3.3 -5 -2.2 -6 -0.5 -6 1.6 -5 2.9 -5 4.7 -4 5.8 -3.2 7 -3 10 -1.2 8 0.1 8 1 6 2.3 6.5 3 4.8 4.5 4.7 5.5 3.7 6 2.4 6 0.7 5 -0.8M64.0 -34.6l-4 -2.3 -4 -1.5 -5 -1 -5 -0.3 -6 -2.3 -5 -1.2 -8 -0.3 -6 1.7 -4.1 2.8 -3.8 5 -2.5 6 -3.6 13.9 -2 5.9 -2 3.3 -2 1.2 -2 -0.5 -3 -3.4 -8.8 -17.4 -3.2 -5 -4 -3.7 -5 -1.8 -3 -0.1 -4 0.6 -4 1.3 -5 2.5 -8 5.5 -9 8.6 -6 4.2M-13.8 64.0l1.2 -3 3.6 -3.2 5 -2.2 6 -0.8 6 0.9 5 2.3 3.3 3 1.2 3M32.9 -64.0l-6.9 8.3 -1 0.3 -11 -0.8 -22 0.7 -6 0.7 -5 1.4 -5 2.2 -5.5 3.2 -20.5 14.2 -2 0.6 -2 0 -1.6 -0.8 -1.2 -2 -0.3 -3 0.7 -4 3 -7 9.1 -14M-45.0 -43.9l-1 -0.1 -0.7 -1 0 -1 1.3 -3 2.5 -3 5.9 -4 3 -1 3 0 0.9 1 -0.1 1 -3.1 4 -6.7 5.1 -5 2"/>
</g>
<g class="ol">
<circle cx="0" cy="0" r="60.7"/>
<path d="M10.9 -59.8L2.4 -69.2L0 -69.9L-2.4 -69.2L-10.9 -59.8"/>
<path d="M59.4 -11.6L61.9 -14.3L62.9 -14.4L64.3 -13.9L65.8 -11.6L65.6 .7L66.4 11.3L64.6 15.9L61.9 16.8L58.6 14.6"/>
<path d="M-59.4 -11.6L-61.9 -14.3L-62.9 -14.4L-64.3 -13.9L-65.8 -11.6L-65.6 .7L-66.4 11.3L-64.6 15.9L-61.9 16.8L-58.6 14.6"/>
</g>
</g>
<g transform="translate(301.5 317.1) scale(1.008 1)">
<g clip-path="url(#hc)">
<g filter="url(#bl)">
<rect x="-64" y="-64" width="128" height="128" fill="#00008c"/>
<path fill="#0000a6" d="M64.0 64.4l-128 0 -0.4 -0.4 0 -128 0.4 -0.4 128 0 0.4 0.4 0 128zM43.0 23.0l3 -1.6 2.2 -2.4 1.4 -3 0.6 -4 -0.6 -3 -1.6 -3 -3 -2.3 -3 -0.5 -4 1 -3.5 2.8 -2.3 4 -0.7 4 1 4 2.5 2.9 4 1.5z"/>
<path fill="#0000bf" d="M64.0 64.3l-128 0 -0.3 -0.3 -0.1 -128 0.4 -0.4 128 0 0.4 0.4 -0.1 128zM43.1 25.0l3.9 -2 2.8 -3 1.8 -4 0.4 -4 -1 -4.9 -2 -3.1 -3 -2.2 -4 -0.8 -5 1.6 -4 3.3 -2.8 5.1 -0.6 5 1.4 4.5 3 3.2 4 1.6z"/>
<path fill="#0000d9" d="M64.0 64.3l-128 0 -0.3 -0.3 0 -128 0.3 -0.3 128 0 0.3 0.3 0 128zM42.3 27.0l4.7 -1.9 3.4 -3.1 2.3 -4 1 -5 -0.7 -5.4 -2.4 -4.6 -3.6 -3 -4 -0.9 -5 1 -3 1.7 -2.4 2.2 -3.3 5 -1.4 6 0.8 5 1.3 2.3 2 2.2 2.3 1.5 2.7 0.9z"/>
<path fill="#0000f2" d="M64.0 64.3l-128 0 -0.3 -0.3 0 -128 0.3 -0.3 128 0 0.3 0.3 0 128zM44.7 28.0l5 -3 3.2 -4 1.9 -5 0.4 -5 -1.2 -5.4 -3 -4.8 -4 -2.8 -5 -0.7 -3 0.7 -3 1.3 -3 2.2 -2.4 2.5 -3.3 6 -0.9 4 0 3 0.6 3 1.4 3 1.6 2 2.6 2 5.4 1.8 3 0z"/>
<path fill="#000dff" d="M64.0 64.3l-128.3 -0.3 0 -128 0.3 -0.3 128 0 0.3 0.3zM43.2 30.0l2.8 -0.9 3 -1.7 4 -3.8 2.8 -5.6 0.9 -6 -0.4 -4 -0.9 -3 -2.9 -5 -2 -2 -2.5 -1.5 -5 -0.9 -3.1 0.4 -3.9 1.6 -5.5 4.4 -2.5 3.3 -1.8 3.7 -1.1 4 -0.3 3 0.3 3 0.9 3 1.8 3 2.2 2.2 3 1.8 3 1 4 0.4zM-36.4 20.0l1.2 -3 -0.8 -3.2 -1.5 -1.8 -1.5 -0.8 -2 0 -1 0.5 -0.9 1.3 -0.4 2 0.3 2 1 2 1 1.1 2 0.8z"/>
<path fill="#0026ff" d="M64.0 64.3l-128.3 -0.3 0.3 -128.3 128.3 0.3zM45.1 31.0l5.6 -3 4.3 -4.8 2.5 -6.2 0.6 -6 -1.5 -7 -1.6 -3.3 -2 -2.6 -2.5 -2.1 -2.5 -1.3 -5 -0.8 -4 0.7 -4 1.9 -3.4 2.5 -2.9 3 -2.6 4 -1.6 4 -0.9 4 -0.1 4 0.8 4 1.5 3 2.2 2.6 3 2.2 3 1.3 4 0.8 4 -0.2zM-35.4 25.0l2.4 -1.9 1.4 -3.1 0.3 -3 -1 -4 -1.8 -3 -2.9 -2.5 -3 -1.1 -3 0.3 -2.7 2.3 -1.2 3 -0.1 4 0.8 3 2.2 3.6 3 2.3 3 0.7z"/>
<path fill="#0040ff" d="M64.0 64.3l-128.3 -0.3 0.3 -128.3 128.3 0.3zM43.1 33.0l5.9 -2.2 3 -2.1 2.7 -2.7 3.4 -6 1.4 -7 -0.2 -4 -0.9 -4 -1.4 -3.7 -2 -3.2 -2 -2.2 -3 -2.2 -3 -1.1 -3 -0.4 -4 0.6 -4 1.5 -4 2.6 -3 2.8 -2.6 3.3 -2.1 4 -1.4 4 -0.8 5 0.2 4 1.2 4 1.9 3 2.6 2.6 3 1.9 4 1.4 4 0.5zM-34.2 28.0l3.2 -2.5 2 -3.9 0.4 -4.6 -1.3 -5 -2.5 -4 -3.6 -3.2 -4 -1.5 -4 0.3 -3.3 2.4 -1.9 4 -0.4 5 1.1 5 2.5 4.4 4 3.3 4 1.1z"/>
<path fill="#0059ff" d="M64.0 64.2l-128.2 -0.2 0.2 -128.3 128.3 0.3zM44.9 34.0l4.1 -1.6 3 -1.9 2.8 -2.5 2.2 -2.8 1.7 -3.2 1.3 -3.6 0.8 -7.4 -0.5 -4 -1 -4 -1.9 -4 -2.1 -3 -2.3 -2.3 -3 -1.8 -3 -1 -3 -0.3 -4 0.6 -4 1.5 -4 2.5 -4.1 3.8 -2.9 4 -2.4 5 -1.4 5 -0.5 5 0.6 4 1.5 4 2.2 3 3 2.5 4 2 4 1 4 0.3zM-34.6 31.0l2.6 -1.1 2 -1.6 2.8 -4.3 0.9 -5 -0.9 -6 -3.2 -6 -4.6 -4.3 -5 -2.1 -3 -0.1 -2 0.5 -2 1.1 -2 1.9 -2 4 -0.8 6 1.1 6 2.7 5.4 4 3.9 5 2z"/>
<path fill="#0073ff" d="M64.0 64.2l-128.2 -0.2 0.2 -128.3 128.2 0.3zM42.1 36.0l3.9 -0.9 4 -1.7 3 -1.9 3 -2.8 2.1 -2.7 2.1 -4 1.3 -4 0.6 -4 0 -4 -0.8 -5 -1.3 -4 -2.1 -4 -2.3 -3 -2.6 -2.3 -3 -1.7 -4 -1 -4 0.2 -5 1.5 -5 2.9 -3.9 3.4 -3.3 4 -2.7 5 -1.7 5 -0.9 5 0 4 0.8 4 1.9 4 2.7 3 4.1 2.8 4 1.6 4 0.7zM-33.0 33.0l4.6 -3 1.7 -2 1.5 -3 1 -6 -1.3 -7 -3.5 -6.4 -5 -4.7 -3 -1.6 -3 -1 -3 -0.2 -3 0.7 -2.2 1.2 -2 2 -1.8 2.9 -1.1 3.1 -0.6 7 1.7 7 3.5 6 4.5 3.9 5 1.8 3 0z"/>
<path fill="#008cff" d="M64.0 64.2l-128.2 -0.2 0.2 -128.2 128.2 0.2zM44.4 37.0l3.6 -1.1 4 -2 3.7 -2.9 2.7 -3 1.9 -3 1.8 -4 1 -4 0.4 -5 -0.4 -5 -0.9 -4 -2 -5 -2.2 -3.5 -3 -3.3 -3 -2.1 -3 -1.2 -4 -0.6 -5 0.7 -5 2 -5 3.5 -4 4 -3.2 4.5 -2.7 6 -1.5 6 -0.5 5 0.4 4 1.5 4.3 2.6 3.7 3.4 2.8 4 2.1 5 1.4 5 0.3zM-32.0 35.0l5 -3.2 2.3 -2.8 1.4 -3 0.8 -3 0.2 -4 -0.5 -4 -1.2 -4 -1.9 -4 -2.1 -3 -5.4 -5 -3.6 -1.9 -3 -1 -3 -0.2 -3 0.5 -3 1.5 -2 1.8 -2 2.9 -1.4 3.4 -0.9 4 -0.2 4 0.5 4 1 4 1.8 4 2 3 2.2 2.4 3 2.3 3 1.4 3 0.8 4 -0.1z"/>
<path fill="#00a6ff" d="M64.0 64.2l-128.2 -0.2 0.2 -128.2 128.2 0.2 -0.2 68.4 -1.8 -5.4 -2.1 -4 -3.1 -4 -3 -2.6 -3 -1.6 -4 -1.1 -4 0 -4 1 -5 2.3 -4 2.8 -3.5 3.2 -3.1 4 -2.8 5 -2 5 -1.4 6 -0.4 5 0.4 4 1.3 4 2 3 2.5 2.6 3 2 4 1.9 4 1.1 5 0.4 4 -0.3 4 -1 4 -1.6 4 -2.6 3 -2.8 2.8 -3.7 2.1 -4 1.1 -3.4zM-35.3 38.0l4.1 -1 3.2 -1.7 2.8 -2.3 2.3 -3 1.5 -3 0.9 -4 0 -4 -0.8 -5 -1.7 -4.9 -2 -3.8 -3 -4 -3 -2.8 -4 -2.6 -4 -1.6 -4 -0.5 -3 0.4 -3 1.3 -3 2.5 -2 2.7 -1.6 3.3 -1.1 4 -0.5 4 0.8 8 1.3 4 2 4 2.2 3 2.9 2.9 3 2.1 3 1.3 3 0.7z"/>
<path fill="#00bfff" d="M64.0 64.2l-128.2 -0.2 0.2 -128.2 128.2 0.2 -0.2 63.6 -2.1 -4.6 -2.7 -4 -3.2 -3.2 -3 -2 -4 -1.5 -4 -0.4 -4 0.5 -4 1.4 -4 2.1 -4.2 3.1 -3.8 3.8 -3 4.2 -2.6 5 -2.2 6 -1.3 6 -0.4 5 0.4 4 0.8 3 1.6 3 2.7 3 3 2.3 4 2 4 1.3 5 0.8 8 -0.6 4 -1.2 4 -2 3.7 -2.6 3 -3 2.3 -3.1 2 -3.8zM-34.8 40.0l3.8 -0.9 4 -2 3.8 -3.1 2.2 -3 1.4 -3 0.9 -4 0.1 -4 -0.8 -5 -1.5 -5 -2.1 -4.5 -3 -4.4 -3 -3.1 -4 -3 -5 -2.4 -4 -0.8 -4 0.3 -3 1.2 -3 2.2 -2.2 2.5 -2.3 4 -1.4 4 -0.9 5 0.1 5 0.6 4 1.6 5 2 4 2.5 3.5 3 3 3 2.1 4 1.8 4 0.7z"/>
<path fill="#00d9ff" d="M64.0 64.2l-128.2 -0.2 0.2 -128.2 128.2 0.2 -0.2 59.8 -2.8 -4.8 -3.2 -3.7 -3 -2.3 -4 -2 -4 -0.9 -4 0.2 -4 1 -4 1.8 -4 2.5 -4 3.3 -3.7 4.1 -2.7 4 -2.4 5 -2.1 6 -1.4 6 -0.6 6 0.3 4 0.9 3 1.6 3 2.6 3 3.5 2.6 4 2 8 2.1 5 0.2 4 -0.4 4 -1 4 -1.7 4 -2.4 2.9 -2.4 2.7 -3 2.4 -3.5zM-34.6 42.0l4.6 -1.1 3.8 -1.9 3.9 -3 2.6 -3 1.6 -3 1.1 -4 0.2 -5 -0.7 -5 -1.8 -6 -2.2 -5 -3.3 -5 -3.2 -3.4 -4 -3.1 -5 -2.5 -5 -1.1 -4 0.3 -4 1.6 -3 2.3 -3 3.6 -2 3.6 -1.6 4.7 -0.8 5 0 5 0.8 5 1.6 5 2 4 2.9 4 3.1 3.1 3 2.1 4 1.9 4 0.9z"/>
<path fill="#00f2ff" d="M64.0 64.2l-128.2 -0.2 0.2 -128.2 128.2 0.2 -0.2 56.5 -3 -4.4 -3 -3.1 -4 -2.7 -4 -1.5 -4 -0.5 -4 0.4 -4 1.2 -5 2.5 -4 2.9 -4 3.7 -3.2 4 -2.8 4.7 -2.3 5.3 -2.3 7 -1.4 7 -0.4 5 0.5 4 1 3 1.9 3 2 2 4 2.9 4 2 4 1.4 5 0.9 8 0 8 -2.2 7 -4.2 3.1 -2.8 2.9 -3.5zM-34.6 44.0l4.6 -1 4.3 -2 4.3 -3 3.4 -3.6 1.9 -3.4 1.1 -4 0.2 -4 -0.7 -5 -1.9 -7 -2.5 -6 -2.9 -5 -3.4 -4 -4.8 -3.9 -5 -2.7 -5 -1.3 -5 0.2 -4 1.5 -3.1 2.2 -3.6 4 -2.4 4 -1.9 5 -1 5 -0.2 5 0.8 6 1.5 5 2.4 5 2.8 4 3.7 3.7 4 2.7 4 1.8 4 0.8z"/>
<path fill="#0dfff2" d="M64.0 64.1l-128.1 -0.1 0.1 -128.2 128.2 0.2 -0.2 53.4 -3 -3.9 -4 -3.5 -4 -2.2 -4 -1.2 -4 -0.2 -4 0.6 -4 1.5 -5 2.7 -4 3 -4 3.9 -3 3.9 -2.9 5 -2.5 6 -2.3 7 -1.7 7 -0.7 6 0.4 4 1 3 1.7 2.7 2.2 2.3 3.8 2.7 4.5 2.3 4.5 1.6 5 1.1 5 0.3 4 -0.2 8 -2.1 7 -3.8 6 -5.7zM-34.5 46.0l4.5 -1 5 -2.2 5 -3.3 3.6 -3.5 2 -3 1.4 -4 0.2 -4 -0.4 -4 -2 -8 -2.8 -7.4 -3 -5.6 -3.9 -5 -5.1 -4.4 -5 -2.8 -5 -1.5 -5 -0.1 -4 1.2 -4 2.5 -4 3.9 -2.8 4.2 -2.3 5 -1.5 6 -0.4 6 0.5 5 1.6 6 2.2 5 3.4 5 3.3 3.5 4 3 5 2.4 5 1.2z"/>
<path fill="#26ffd9" d="M64.0 64.1l-128.1 -0.1 0.1 -38 2.1 5 2.4 4 3.2 4 3.2 3 3.1 2.3 4 2.1 4 1.2 4 0.6 4 -0.2 5 -1.3 5 -2.3 5.4 -3.4 3.6 -3 2.5 -3 1.4 -3 0.7 -4 -0.5 -5 -1.9 -7 -3.1 -9 -3.1 -6.5 -3 -4.6 -3.5 -3.9 -3.7 -3 -4.8 -2.8 -5 -1.7 -4 -0.3 -4 0.7 -4 1.8 -4.4 3.3 -3.7 4 -2.6 4 -2.3 5.4 0 -67.5 128.1 0.1 -0.1 50.3 -3 -3.4 -4 -3.2 -4 -2 -5 -1.2 -4 0 -5 1.2 -4 1.8 -5 3.2 -4 3.3 -3.6 4 -2.8 4 -2.6 4.8 -2.9 7.2 -2.8 9 -1.8 7 -0.6 5 0.2 3 1 3 1.9 2.8 2.3 2.2 3.7 2.6 5 2.5 5 1.9 5 1.2 9 0.3 8 -1.7 7.9 -3.8 6.1 -5.1z"/>
<path fill="#40ffbf" d="M64.0 64.1l-128.1 -0.1 0.1 -32.4 5 7.5 3 3.2 4 3.2 7 3.5 4 1 4 0.3 4 -0.5 5 -1.5 5 -2.4 6.4 -3.9 4 -3 2.9 -3 1.7 -3 0.5 -3 -0.5 -4 -1.8 -6 -4.7 -13 -3.5 -7.7 -3 -4.8 -3 -3.5 -7 -5.4 -5 -2.3 -4 -0.9 -4 0 -4 1.1 -4.7 2.5 -4.3 3.5 -4 4.5 -3 4.9 0 -63 128.1 0.1 -0.1 47.3 -4 -3.9 -4 -2.6 -4 -1.6 -5 -0.8 -4 0.2 -5 1.4 -5 2.6 -4 2.7 -7 7 -5.3 8.7 -3.3 8 -4.7 14 -1.8 6 -0.7 4 0.4 3 0.8 2 2.3 3 2.4 2 4.9 3 6 2.9 5 1.8 5 1.3 8 0.4 9 -1.7 7 -3 7 -5.1z"/>
<path fill="#59ffa6" d="M0.0 31.0l-1 0 -1 -1.2 -4 -6.4 -9.1 -21.4 -3.9 -7.3 -5 -6.2 -7 -5.1 -4 -1.9 -4 -1 -4 0 -4 0.9 -5 2.4 -4.4 3.2 -4.2 4 -3.4 4.4 0 -59.5 128.1 0.1 -0.1 44.2 -4 -3.5 -4 -2.3 -4 -1.4 -5 -0.7 -5 0.3 -4 1.2 -4 1.9 -5 3.4 -6 5.7 -5 7.1 -3.4 7.1 -8.6 22.2 -3 5.6zM64.0 64.1l-128 0 0 -27.8 5 6.2 6 5 7 3.5 7 1.5 7 -0.8 8 -3.4 15.5 -9.3 5 -4 2.5 -2.7 1 -0.1 6.5 5.8 8.6 5 10.9 4.8 8 2.1 8 0.3 8 -1.5 7 -2.8 7 -4.6z"/>
<path fill="#73ff8c" d="M0.0 23.1l-3 -0.9 -3.5 -4.2 -2.5 -4.8 -6.5 -15.2 -4.5 -7.6 -5 -5.4 -7 -4.6 -4 -1.4 -4 -0.6 -3 0.2 -4 1.1 -4.7 2.3 -4.5 3 -7.8 7.4 0 -56.5 128.1 0.1 -0.1 41 -4 -3 -4 -2 -4 -1.2 -5 -0.7 -4 0.1 -4 0.9 -4 1.7 -5 3.1 -6 5.3 -5 6.4 -4 7.6 -6 15.5 -3 6.5 -3 4.2zM64.0 64.1l-128 0 0 -23.4 6 6 6 4.2 7 3 6 0.9 4 -0.2 5 -1.5 22 -11.5 4 -1.6 3 -0.6 3 0.1 3 0.9 23 9.9 5 1.4 4 0.6 7 -0.3 7 -1.4 7 -2.8 6 -3.6z"/>
<path fill="#8cff73" d="M1.0 19.1l-3 -0.1 -3 -2.4 -3 -4.8 -7 -16.1 -4 -6.9 -5 -5.7 -7 -4.7 -4 -1.5 -3 -0.5 -3 0.1 -4 0.9 -4 1.6 -5.3 3 -9.7 7.6 0 -53.7 128.1 0.1 -0.1 37.6 -4 -2.6 -4 -1.6 -5 -1.1 -5 -0.4 -4 0.2 -4 0.8 -4 1.8 -4 2.5 -6 5.3 -5 6.4 -4.3 8.1 -7.7 19.1 -3 4.7zM64.0 64.1l-128 0 0 -19.2 5.8 5.1 6.2 3.9 7 2.7 6 0.8 4 -0.4 4 -1.3 19 -10.4 5 -2 5 -1.2 4 0 5 1.1 22 9.4 4 1.2 5 0.7 6 -0.1 7 -1.4 7 -2.5 6 -3.3z"/>
<path fill="#a6ff59" d="M1.0 16.0l-2 0.2 -2 -0.9 -3 -3.3 -3 -5.7 -6 -13.9 -5 -8.1 -5 -5.1 -6 -3.6 -6 -1.3 -3 0.1 -4 1 -9 4.3 -11 7.3 0 -51.1 128.1 0.1 -0.1 33.9 -3 -1.7 -4 -1.3 -6 -1 -6 -0.3 -8 1 -3.5 1.4 -3.5 2.1 -6 5.3 -5 6.5 -4.3 8.1 -8.2 20 -2.5 3.8zM64.0 64.0l-128 0 0 -14.6 6 4.5 6 3.3 6 2.2 6 0.9 4 -0.4 4 -1.3 18 -10.8 6 -2.5 6 -1.3 5 0.1 6 1.4 7 2.7 14 6.8 4 1.4 4 0.6 6 0 7 -1.2 7 -2.3 6 -2.9z"/>
<path fill="#bfff40" d="M1.0 13.2l-3 -0.2 -3 -2.7 -3 -5.2 -6 -14.2 -4 -7.3 -5 -6.1 -3 -2.5 -3 -1.7 -3 -1 -3 -0.3 -7 1.1 -8 3.4 -14 8 0 -48.6 128.1 0.1 -0.1 29.7 -3 -1.3 -4 -0.8 -16 -0.1 -7 1.2 -5.9 3.3 -5.1 5 -4 5.5 -4.9 9.5 -8.1 19.9 -2.1 3.1zM64.0 64.0l-128 0 0 -9.8 7 4.4 7 3.1 6 1.6 6 0.2 3 -0.7 3 -1.4 12 -8.8 7 -4 8 -2.7 7 -0.5 5 0.9 6 2 5.8 2.7 12.2 6.9 7 2.1 5 0.2 7 -1 7 -1.9 7 -2.8z"/>
<path fill="#d9ff26" d="M1.0 10.4l-3 -0.3 -3 -2.9 -2.3 -4.2 -5.7 -13.7 -4 -8 -5 -6.9 -5 -3.8 -3 -1 -3 -0.2 -7 1.4 -6 2.3 -18 8.8 0 -45.9 128 0 0 24.5 -5 -1 -10 1.3 -13 0.7 -5 1 -4.5 2.5 -3.5 3.5 -4 5.9 -5 10.3 -8 20.2 -2 3.1zM40.0 64.0l-70.7 0 8.4 -8 7.1 -5 8.2 -3.4 7 -1 6 0.7 7 2.2 6.8 3.5 12.2 8.4 4 1.8 4.3 0.8zM-56.0 64.0l-8 0 0 -4.2zM64.0 64.0l-19.4 0 9.4 -1.5 10 -3.2z"/>
<path fill="#f2ff0d" d="M1.0 7.5l-1 0.2 -2 -0.6 -3 -3.2 -12 -27.3 -4 -6.3 -2 -1.9 -2 -1.2 -5 -0.7 -7 1.5 -7 2.8 -14 6.7 -6 1.8 0 -43.3 128 0 0 17.5 -3 -0.6 -3 0.4 -6.8 3.7 -4.2 1.3 -18 1.4 -3.5 1.3 -2.6 2 -2.9 4.1 -3 6.1 -11 28.3 -2 3.5zM30.0 64.0l-57.1 0 5.6 -7 6.5 -4.9 8 -3.4 7 -1 8 1.1 7.8 3.2 7.3 5z"/>
<path fill="#fff200" d="M1.0 4.4l-1 0.2 -2 -0.7 -3 -3.7 -12.4 -31.2 -2.4 -4 -2.2 -1.5 -4 -0.4 -5 1 -8 3 -17 7.9 -4 1.2 -4 0.1 0 -40.3 128 0 0 5.7 -5 -1.2 -2 0 -2 0.9 -1.2 1.6 -3.4 9 -3.2 3 -2.7 1 -3.5 0.6 -16 0.5 -3 0.9 -2 1.4 -1.3 1.6 -1.3 3 -11.4 33.8 -2.3 4.2zM26.0 64.0l-50.6 0 4 -6 6 -5 7.6 -3.3 7 -1 8 1.1 7.4 3.2 6.6 5 3.3 4 1.2 2z"/>
<path fill="#ffd900" d="M0.0 1.0l-2 -0.8 -1 -1 -3 -5.5 -5.8 -16.7 -3.4 -14 -1 -2 -1.8 -1.3 -4 -0.2 -6.2 1.5 -27.8 12.4 -5 0.6 -3 -1.3 0 -23 4.6 -7.7 5.3 -6 96.9 0 2.9 5 1.2 4 0 4 -1.9 3.2 -3 1.6 -3 0.6 -19 0.2 -3 1 -1.7 1.4 -1.2 3 -2.4 15 -4.7 15.7 -2 5 -1.9 3.3 -1.1 1.2zM23.0 64.0l-45.6 0 1.4 -3 2.2 -3 5 -4.2 7 -3.2 7 -1 8 1.2 7.1 3.2 4 3 2.7 3 2.2 4z"/>
<path fill="#ffbf00" d="M1.0 -3.5l-2 0 -2 -2 -4 -9 -2.2 -7.5 -1.2 -6 -0.5 -13 -1.1 -2 -1 -0.6 -2 -0.4 -3 0.1 -7 1.8 -7.5 3.1 -16.5 8.1 -6 2.3 -4 0.3 -2 -0.6 -1.3 -1.1 -1.2 -2 -0.5 -2 0 -4.5 2 -7.5 2.5 -5 2.7 -4 4.3 -5 4.3 -4 86.2 0 1 1.1 2.7 3.9 1.5 4 0.1 2 -0.5 2 -1.8 2.1 -2.2 0.9 -3.8 0.5 -14 -0.5 -5 0.3 -3.1 0.7 -2.8 2 -0.7 3 0.8 11 -1.1 8 -4.1 13.7 -2 3.9zM21.0 64.0l-41.9 0 2.5 -5 2.4 -2.5 3 -2.3 6 -2.7 7 -1 7 0.9 7 3 3.4 2.6 2.6 3 1.9 4z"/>
<path fill="#ffa600" d="M1.0 -9.0l-2 0 -2 -2.4 -2.7 -6.6 -1.6 -7 -0.4 -5 0.7 -5.3 1.4 -3.7 3.1 -5 -0.3 -1 -1.9 -1 -6.3 -1 -7.4 1 -8.6 3 -19 9.4 -6 2.6 -5 0.7 -3 -1.5 -1 -1.5 -0.6 -2.7 0.1 -3 0.8 -4 3.2 -7 6 -8 6.6 -6 79.5 0 3.4 4 1.8 4 0 3 -1.8 2.3 -2 0.8 -3 0.5 -15 -0.6 -7 0.5 -5.5 1.5 -3.7 2 -0.8 1 0.2 1 2.8 3.2 2 3.6 1.1 4.2 0.3 4 -0.6 6 -1.8 7 -2 4.7zM20.0 64.0l-39.4 0 1.1 -3 1.3 -2 4.5 -4 5.5 -2.6 7 -1.1 7 1 6.1 2.7 4.6 4 1.9 3z"/>
<path fill="#ff8c00" d="M-51.0 -32.8l-3 0.5 -2 -0.1 -2.4 -1.6 -0.9 -2 -0.2 -2 0.8 -5 2.1 -5 3.8 -6 4.8 -5.2 5.7 -4.8 74.1 0 3.5 4 1.3 3 0.2 2 -0.9 2 -1.6 1 -2.3 0.6 -21 0 -22 2.3 -6 1.2 -10.8 3.9 -17.2 8.7zM1.0 -16.7l-1 0.3 -1 -0.4 -1 -1.2 -1.5 -4 -0.7 -4 0.2 -3.4 1 -3 1 -1.4 2 -0.8 2 1 1 1.5 1 4.1 0 3 -0.8 4 -1.2 3.1zM18.0 64.0l-36 0 1.6 -4 4.4 -4.3 6 -2.8 6 -0.8 7 1 6 2.9 4 4 1.7 4z"/>
<path fill="#ff7300" d="M-49.0 -34.9l-4 0.7 -3 -1 -1.1 -1.8 -0.3 -2 0.8 -5 2.2 -5 4.2 -6 5 -5 5.1 -4 69.4 0 2.7 3 1.6 3 0.1 2 -0.7 1.3 -1 0.8 -3 0.9 -21 0.3 -17 1.8 -8.9 1.9 -8.1 3 -18 9zM17.0 64.0l-33.7 0 1.6 -4 4.1 -3.9 5 -2.4 6 -0.9 6 0.8 5.4 2.4 4.3 4 1 2z"/>
<path fill="#ff5900" d="M-48.0 -36.7l-4 0.6 -2.2 -0.9 -0.8 -1.1 -0.5 -1.9 0.9 -5 2.4 -5 3.6 -5 5.1 -5 5.4 -4 64.9 0 2.7 3 1 2 0 2 -0.7 1 -2.8 1.3 -25 1.3 -11.8 1.4 -7.2 1.6 -9.2 3.4 -16.8 8.3zM15.0 64.0l-30.4 0 1.6 -4 2.9 -3 4.9 -2.4 6 -1 6 0.8 5.3 2.6 2.2 2 1.4 2 1 3z"/>
<path fill="#ff4000" d="M-46.0 -38.8l-4 0.8 -2.5 -1 -0.7 -1 -0.3 -2 0.8 -4 2.6 -5 4 -5 4.2 -4 5.6 -4 60.7 0 1.9 2 1.1 2 -0.4 2.3 -1 0.9 -2.6 0.8 -26.4 1.9 -7.3 1.1 -6.7 1.6 -9.3 3.4zM14.0 64.0l-28.2 0 1.6 -4 3.3 -3 4.3 -1.9 5 -0.8 5 0.7 5 2.2 2.2 1.8 1.5 2 0.9 3z"/>
<path fill="#ff2600" d="M-48.0 -40.0l-2 -0.4 -0.8 -0.6 -0.7 -2 0.4 -3 1.8 -4 2.9 -4 3.4 -3.6 8.5 -6.4 56.5 0 2.2 3 -0.2 2 -1.2 1 -2.8 0.8 -23.8 2.2 -13.2 2.7 -9.2 3.3 -16.8 7.8zM13.0 64.0l-26 0 1 -3 3 -3.2 4 -1.9 5 -0.8 5 0.7 4.6 2.2 2.8 3 0.8 2 0.1 1z"/>
<path fill="#ff0d00" d="M-46.0 -41.9l-2 -0.4 -1.3 -1.7 0.2 -3 1.9 -4 3.1 -4 3 -3 8.4 -6 52.1 0 1.5 2 -0.2 2 -1.4 1 -2.3 0.7 -23 2.7 -11.8 2.6 -8.2 3 -15 6.7zM12.0 64.0l-23.7 0 0.9 -3 2.8 -2.8 4 -1.8 4 -0.5 4 0.4 4 1.7 3.1 3z"/>
<path fill="#f20000" d="M-44.0 -44.0l-2 -0.3 -1.1 -1.7 0.5 -3 1.6 -3 2.3 -3 3.7 -3.5 8.2 -5.5 47.4 0 1.1 2 -0.3 1 -1.4 1 -3 0.9 -20 2.7 -10 2.3 -8 2.7 -15 6.4zM10.0 64.0l-20.5 0 1 -3 2 -2 3.5 -1.7 4 -0.6 4 0.5 3.8 1.8 2.5 3 0.5 2z"/>
<path fill="#d90000" d="M-39.0 -46.7l-3 0.6 -2.3 -0.9 -0.3 -2 1.3 -3 2.2 -3 3.1 -3 4 -3.1 5.1 -2.9 42.5 0 0.5 1 -0.1 1 -1 0.9 -2 0.8 -19 3.2 -8 1.8 -8 2.6zM9.0 64.0l-18.2 0 1.1 -3 2.1 -1.9 3 -1.2 3 -0.4 4 0.6 3 1.6 2 2.3 0.5 2z"/>
<path fill="#bf0000" d="M-37.0 -48.9l-3 0.5 -1.5 -0.6 -0.2 -2 1.5 -3 5.1 -5 8.3 -5 36.9 0 0.2 1 -0.8 1 -2.2 1 -23.3 4.8zM8.0 64.0l-15.8 0 0.5 -2 1.9 -2 2.4 -1.1 3 -0.5 3 0.4 2.6 1.2 1.9 2z"/>
<path fill="#a60000" d="M-36.0 -50.9l-1.5 -0.1 -1 -1 0.5 -2 1.5 -2 4.7 -4 7.5 -4 30.3 0 -0.2 1 -0.8 0.6 -3 1.2 -17 3.7zM6.0 64.0l-12.2 0 0.6 -2 1 -1 1.8 -1 2.8 -0.5 3 0.5 1.9 1 1.4 2 0.1 1z"/>
<path fill="#8c0000" d="M-31.0 -54.0l-3 -0.1 -0.2 -0.9 1.2 -2 5.2 -4 6.6 -3 22.1 0 -0.5 1 -2 1zM4.0 64.0l-8.2 0 0.9 -2 3.3 -1.2 2 0.4 1.5 0.8 0.7 1 0.2 1z"/>
</g>
<path class="ct" d="M43.6 31.0l5.4 -2.3 3 -2.4 2 -2.3 2.9 -6 0.8 -6 -0.8 -6 -2.9 -6 -2 -2.3 -2.4 -1.7 -2.6 -1.2 -3 -0.4 -3 0.2 -4 1.3 -3.5 2.1 -3.4 3 -2.4 3 -2.1 4 -1.3 4 -0.5 4 0.4 4 1 3 1.8 2.8 2.2 2.2 3.3 2 3.5 1.1 4 0.4 3.6 -0.5M-35.9 24.0l1.9 -1.4 1.4 -2.6 0.4 -3 -1 -4 -2.1 -3 -2.7 -2 -3 -0.6 -2 0.6 -2 1.8 -1 2.4 -0.1 3.8 0.8 3 2 3 2.3 1.8 3 0.7 2.1 -0.5M64.0 2.1l-2 -5 -2.4 -4.1 -2.6 -3 -3.9 -3 -3.1 -1.4 -4 -0.7 -4 0.3 -4 1.1 -5 2.6 -4 3 -3.2 3.1 -3 4 -2.8 5 -1.9 5 -1.4 6 -0.4 5 0.3 4 1.2 4 1.7 3 2.5 2.6 3.3 2.4 3.7 1.8 4 1.2 5 0.6 4 -0.1 4 -0.8 4 -1.5 4 -2.2 3.6 -3 2.6 -3 1.9 -3 1.9 -4.3M-31.4 38.0l3.4 -1.6 3 -2.3 2.6 -3.1 1.5 -3 1.1 -4 0.2 -4 -0.5 -4 -1.4 -5 -1.7 -4 -2.5 -4 -3.3 -3.7 -3 -2.5 -4 -2.2 -4 -1.4 -4 -0.2 -3 0.6 -3 1.6 -3 2.8 -2 3 -1.7 4 -0.9 4 -0.3 5 0.6 5 1.1 4 1.7 4 2.5 3.9 2.9 3.1 3.1 2.3 3 1.5 4 1 4 0.1 3.6 -0.9M64.0 -17.2l-4 -3.8 -4 -2.5 -4 -1.6 -5 -0.8 -4 0.2 -5 1.4 -5 2.6 -5 3.5 -4 3.8 -3 3.7 -5 8.7 -8.5 24 -1.4 5 -0.3 3 0.5 3 1.1 2 2.9 3 2.8 2 10.9 5.6 5 1.7 5 1.1 8 0.2 8 -1.6 8 -3.6 6 -4.4M-64.0 32.3l5.3 7.7 6.7 5.8 7 3.5 4 1 4 0.3 4 -0.5 5 -1.5 5.3 -2.6 6.6 -4 4 -3 3 -3 1.7 -3 0.5 -3 -0.6 -4 -2 -6 -5.2 -14 -3.2 -7 -3.1 -4.8 -2.7 -3.2 -3.3 -3 -4 -2.7 -5 -2.3 -4 -0.9 -4 0 -4 1.1 -5 2.7 -4 3.3 -4.3 4.8 -2.7 4.3M64.0 -38.7l-3 -0.9 -3 -0.2 -9 1 -12 0.5 -5.9 1.3 -4.1 2.3 -5 5.2 -4.6 7.5 -4.1 9 -6.2 16 -2.1 4 -2 2.5 -3 1.5 -3 -1.2 -3 -3.7 -8 -18.4 -5 -8.9 -4 -4.8 -4.3 -3 -2.7 -0.9 -3 -0.3 -7 1.2 -7 2.8 -17 8.5M-31.4 64.0l8.8 -8 6.6 -4.7 8 -3.6 7 -1.2 7 0.6 7 2.2 7.2 3.7 11.8 7.9 6 2.2 5 0.4 7 -0.8 7 -1.7 7 -2.5M33.0 -64.0l3.4 4 1.7 4 -0.4 3 -2.7 1.9 -5 0.7 -17 -0.4 -14 2.1 -14 1 -6 1.6 -5.5 2.1 -23.5 11.4 -5 1.2 -2.8 -0.6 -1.9 -2 -0.7 -3 0.4 -4 1.6 -5 2.7 -5 2.9 -4 4.7 -5 4.8 -4M1.0 -13.0l-1 0.3 -1 -0.3 -2 -2.7 -2 -5.7 -0.8 -5.6 0.2 -4 1.3 -4 2.3 -2.7 2 -0.6 2 0.8 2 2.3 1 2.5 0.6 3.7 -0.2 5 -1.1 5 -1.3 3.4 -2 2.6M-18.6 64.0l1.1 -3 1.3 -2 4.2 -3.8 6 -2.6 6 -0.8 7 0.9 6 2.8 3.9 3.5 1.3 2 1.1 3M18.6 -64.0l1.4 2 0.1 1 -0.6 1 -1.9 1 -22.6 2.9 -9 1.8 -10 3.2 -18 7.8 -3 0.7 -2.7 -0.4 -1.1 -2 0.3 -2 1.2 -3 1.9 -3 5.9 -6 7.4 -5M-11.4 64.0l1 -3 2.4 -2.5 4 -1.9 4 -0.5 4 0.5 4 1.7 2.7 2.7 1 3"/>
</g>
<g class="ol">
<circle cx="0" cy="0" r="60.7"/>
<path d="M10.9 -59.8L2.4 -69.2L0 -69.9L-2.4 -69.2L-10.9 -59.8"/>
<path d="M59.4 -11.6L61.9 -14.3L62.9 -14.4L64.3 -13.9L65.8 -11.6L65.6 .7L66.4 11.3L64.6 15.9L61.9 16.8L58.6 14.6"/>
<path d="M-59.4 -11.6L-61.9 -14.3L-62.9 -14.4L-64.3 -13.9L-65.8 -11.6L-65.6 .7L-66.4 11.3L-64.6 15.9L-61.9 16.8L-58.6 14.6"/>
</g>
</g>
<g transform="translate(495.7 311.9) scale(1.034 1.042)">
<g clip-path="url(#hc)">
<g filter="url(#bl)">
<rect x="-64" y="-64" width="128" height="128" fill="#00008c"/>
<path fill="#0000a6" d="M64.0 64.4l-128 0 -0.4 -0.4 0 -128 0.4 -0.4 128 0 0.4 0.4 0 128zM-34.2 12.0l0.4 -2 -0.5 -1 -1.7 -0.8 -1 0.5 -0.7 2.3 0.7 1.3 1 0.6z"/>
<path fill="#0000bf" d="M64.0 64.4l-128 0 -0.4 -0.4 0 -128 0.4 -0.4 128 0 0.4 0.4 0 128zM46.8 9.0l1.1 -2 -0.3 -3 -0.7 -1 -1.9 -1 -2 0.5 -1 0.9 -0.7 1.6 0.3 3 0.7 1 1.7 1 1 0zM-32.6 17.0l1.6 -1.5 1.2 -2.5 0.3 -3 -0.5 -2.3 -1 -1.9 -2 -1.9 -2 -0.6 -3 0.4 -2 1.4 -1.6 2.9 -0.4 3 0.8 3 1.3 2 2.9 1.8 2 0.2z"/>
<path fill="#0000d9" d="M64.0 64.3l-128 0 -0.3 -0.3 -0.1 -128 0.4 -0.4 128 0 0.4 0.4 -0.1 128zM47.4 13.0l2.2 -2 1.1 -2 0.6 -3 -0.5 -3 -1.1 -2 -2.2 -2 -2.5 -0.7 -2 0.2 -2.6 1.5 -2 3 -0.6 3 0.5 3 1.7 2.9 2 1.4 3 0.5zM-31.9 20.0l2.4 -2 1.7 -3 0.8 -4 -0.6 -4 -1.5 -3 -2.9 -2.6 -3 -1 -3 0.3 -3 1.8 -2.5 3.5 -0.9 4 0.5 4 1.9 3.6 3 2.5 4 0.8z"/>
<path fill="#0000f2" d="M64.0 64.3l-128 0 -0.3 -0.3 -0.1 -128 0.4 -0.4 128 0 0.4 0.4 -0.1 128zM46.9 16.0l3.1 -1.9 2 -2.5 1.2 -3.6 0.1 -4 -1.3 -3.7 -2 -2.5 -3 -1.7 -4 -0.2 -3 1.3 -3 3.4 -1.4 4.4 0.3 4 1.2 3 2.9 3.1 3 1.2zM-33.0 23.0l3.7 -2 2.4 -3 1.6 -5 0 -5 -1.7 -4.5 -3 -3.4 -3 -1.6 -4 -0.3 -4 1.6 -3.1 3.2 -2 5 0 5 1.8 5 3.3 3.5 4 1.7z"/>
<path fill="#000dff" d="M64.0 64.3l-128 0 -0.3 -0.3 -0.1 -128 0.4 -0.4 128 0 0.4 0.4 -0.1 128zM47.6 18.0l3.4 -2.1 2.9 -3.9 1.2 -4 -0.2 -5 -1.5 -4 -2.5 -3 -3.9 -2.1 -4 -0.1 -4 1.7 -3.3 3.5 -1.8 5 0 5 2.1 5 3 3 4 1.5zM-32.4 25.0l2.4 -1 2 -1.5 3 -4.2 1.5 -5.3 -0.3 -6 -2 -5 -3.2 -3.6 -4 -1.9 -5 -0.1 -3 1.1 -2 1.5 -3 3.7 -1.8 5.3 0.1 6 1.9 5 3.8 4.2 2 1.2 3 0.9z"/>
<path fill="#0026ff" d="M64.0 64.3l-128.3 -0.3 -0.1 -128 0.4 -0.4 128 0.1 0.3 0.3zM47.7 20.0l4.3 -2.6 3 -3.9 1.7 -5.5 -0.2 -5 -1.5 -4.4 -3 -3.9 -4 -2.4 -5 -0.4 -3 0.9 -2 1.2 -3.7 4 -2 5 -0.1 6 1.8 5.2 2 2.8 2 1.6 2 1.1 3 0.8zM-32.4 27.0l4.4 -2.1 2 -1.9 2 -3 1.9 -6 -0.1 -7 -2.3 -6 -3.5 -4 -5 -2.4 -5 0 -5 2.2 -4 4.5 -2.1 5.7 -0.4 4 0.2 3 2.2 6 2.1 2.9 2 1.8 5 2.3 3 0.4z"/>
<path fill="#0040ff" d="M64.0 64.3l-128.3 -0.3 0 -128 0.3 -0.3 128 0 0.3 0.3zM47.2 22.0l4.8 -2.4 3.9 -4.6 1.9 -5 0.3 -6 -1.7 -6 -3.4 -4.5 -2 -1.6 -3 -1.3 -5 -0.4 -5 1.8 -2.5 2 -2.4 3 -2.3 6 -0.2 6 1.9 6 2.1 3 2.2 2 2.2 1.3 3 0.9zM-33.0 29.0l3 -0.9 3 -1.7 3.8 -4.4 1.4 -3 1 -4 0.2 -7 -1.7 -6 -1.7 -3 -2 -2.3 -2 -1.7 -3 -1.5 -3 -0.8 -3 0 -3 0.7 -3 1.5 -4.2 4.1 -1.8 3.1 -1.4 3.9 -0.4 7 1.8 6.7 2 3.3 2 2.2 3 2.2 3 1.2 3 0.5z"/>
<path fill="#0059ff" d="M64.0 64.3l-128.3 -0.3 0 -128 0.3 -0.3 128 0 0.3 0.3zM45.8 24.0l3.2 -0.8 2.3 -1.2 2.7 -2.1 2 -2.3 2.7 -5.6 0.8 -7 -1.5 -6.7 -3.4 -5.3 -4.6 -3.3 -3 -1 -3 -0.2 -3 0.5 -3 1.2 -2.6 1.8 -2.4 2.5 -2 3.2 -1.3 3.3 -0.6 3 -0.1 4 0.7 4 1 3 3.5 5 2.8 2.2 3 1.3 3 0.6zM-30.0 30.0l5 -3.1 2.4 -2.9 1.6 -3.1 1.2 -3.9 0.6 -4 0 -4 -0.6 -4 -2.5 -6 -2.2 -3 -2.5 -2.2 -3 -1.6 -3 -0.9 -3 -0.3 -3 0.5 -3 1.1 -3 2 -3 3.2 -2 3.2 -2.1 7 -0.1 4 0.5 4 1.3 4 1.6 3 2.4 3 2.4 2 3 1.7 4 1.1 4 0z"/>
<path fill="#0073ff" d="M64.0 64.2l-128.2 -0.2 -0.1 -128 0.3 -0.3 128.3 0.3zM48.7 25.0l5.3 -3 2.8 -3 1.8 -3 2 -6 0 -7 -0.9 -4 -1.3 -3 -2 -3 -2.4 -2.5 -3 -2 -3 -1.1 -3 -0.4 -3 0.2 -3 0.9 -3.4 1.9 -3.2 3 -2.1 3 -1.4 3 -1.1 4 -0.3 4 0.4 4 1.1 3.8 1.6 3.2 2.3 3 2.3 2 2.8 1.6 4 1.1 3 0.1zM-30.7 32.0l2.7 -1 3.1 -2 2.8 -3 1.8 -3 1.4 -4 0.8 -4 0.3 -5 -0.5 -4 -2.4 -7 -1.9 -3 -2.4 -2.5 -3 -2.1 -3 -1.2 -3 -0.6 -4 0.1 -4 1.2 -3 1.9 -3 2.9 -2 2.8 -1.8 3.5 -1.2 4.1 -0.5 4.9 0.2 4 1 4 1.8 4 2.5 3.5 3 2.7 3 1.8 4 1.3 4 0.2z"/>
<path fill="#008cff" d="M64.0 64.2l-128.2 -0.2 0.2 -128.3 128.3 0.3zM47.5 27.0l3.5 -1.3 3 -1.8 3 -2.9 2 -2.8 1.6 -3.2 1.2 -4 0.3 -7 -0.8 -4 -1.5 -4 -1.8 -3 -2.6 -3 -2.4 -1.9 -3 -1.6 -3 -0.8 -4 -0.2 -4 1 -3 1.5 -3 2.3 -2.4 2.7 -1.9 3 -1.7 4.3 -0.9 4.7 0.1 4 0.7 4 1.4 4 1.8 3 2.9 3.3 3 2.1 4 1.6 4 0.4zM-32.2 34.0l3.7 -1 3.5 -1.9 2.4 -2.1 2.3 -3 1.9 -4 1.1 -4 0.7 -5 -0.1 -5 -1 -5 -1.3 -3.6 -2 -3.5 -2.5 -2.9 -3.5 -2.7 -3 -1.4 -3 -0.7 -4 -0.2 -4 1 -3 1.5 -3 2.3 -3 3.4 -2.2 3.8 -1.8 5 -0.7 4 0 5 1 5 1.6 4 2.1 3.3 3 3.2 3 2.2 4 1.7 4 0.8z"/>
<path fill="#00a6ff" d="M64.0 64.2l-128.2 -0.2 0.2 -128.3 128.3 0.3zM45.0 29.0l4 -0.8 3 -1.3 3 -2 3 -2.9 2.2 -3 1.9 -4 1.1 -4 0.4 -5 -0.4 -4 -1.1 -4 -2 -4 -2.9 -4 -3.2 -2.9 -3 -1.7 -3 -1 -4 -0.4 -4 0.6 -3.4 1.4 -3.6 2.4 -3 3.1 -2.3 3.5 -1.8 4 -0.9 4 -0.3 5 0.7 5 1.3 4 2.2 4 2.1 2.6 3 2.5 3 1.6 4 1.1zM-29.3 35.0l3.3 -1.4 3.6 -2.6 2.4 -2.7 2 -3.6 1.6 -4.7 0.9 -5 0.1 -5 -0.5 -5 -1.1 -4 -1.7 -4 -2.3 -3.4 -3 -3 -3 -2 -4 -1.6 -4 -0.5 -3 0.2 -4 1.2 -4 2.3 -3 2.8 -3 4.2 -2.3 4.8 -1.3 5 -0.4 5 0.5 5 1.5 5 2 3.9 3 3.8 3 2.5 4 2.2 4 1.1 4 0.3z"/>
<path fill="#00bfff" d="M64.0 64.2l-128.2 -0.2 0.2 -128.3 128.3 0.3 -0.3 63.5 -3 -6.5 -3 -4 -3 -2.7 -3 -1.9 -4 -1.4 -3 -0.4 -4 0.3 -4 1.3 -3 1.7 -5.4 5.1 -1.9 3 -1.9 4 -1 4 -0.5 5 0.4 5 1 4 1.7 4 2 3 2.6 2.9 3 2.2 3 1.4 4 1 4 0.1 3 -0.5 4 -1.5 3 -1.8 3 -2.6 2.6 -3.2 2.2 -4 1.2 -3.4zM-30.6 37.0l3.6 -1.1 4 -2.3 3 -2.8 2.5 -3.8 1.9 -5 1.1 -5 0.4 -6 -0.4 -5 -1.2 -5 -1.6 -4 -2.5 -4 -2.8 -3 -3.4 -2.5 -4 -1.7 -4 -0.8 -4 0.2 -4 1.2 -4 2.3 -3.6 3.3 -3 4 -2.5 5 -1.5 5 -0.6 5 0.3 5 1.1 5 1.8 4.2 2.5 3.8 3.5 3.6 4 2.6 4 1.5 5 0.7z"/>
<path fill="#00d9ff" d="M64.0 64.2l-128.2 -0.2 0.2 -128.3 128.2 0.3 -0.2 59.6 -2 -3.6 -3.3 -4 -2.7 -2.6 -3 -2 -3 -1.3 -4 -0.8 -4 0 -3 0.6 -4 1.7 -3 2 -5.1 5.4 -2.3 4 -1.5 4 -1.2 8 1.1 8.4 1.2 3.6 2.2 4 4.6 5 3 2 4 1.6 4 0.6 4 -0.1 4 -0.9 3 -1.4 3 -1.8 3.3 -3 2.7 -3.5 2 -3.7zM-33.7 39.0l4.7 -0.7 4 -1.5 4 -2.7 2.8 -3.1 2.3 -4 1.7 -5 1 -6 0.2 -6 -0.6 -6 -1.4 -5 -2 -4.2 -3 -4.2 -3 -2.8 -4 -2.4 -4 -1.4 -5 -0.4 -5 0.9 -4 2 -4 3.2 -3 3.4 -3 4.9 -2 5 -1.1 5 -0.3 6 0.7 5 1.6 5 2.2 4 3.1 4 3.8 3.2 4 2.1 5 1.5z"/>
<path fill="#00f2ff" d="M64.0 64.2l-128.2 -0.2 0.2 -128.2 128.2 0.2 -0.2 56.6 -2.6 -3.6 -3.4 -3.5 -6 -4 -3 -1.1 -4 -0.6 -4 0.2 -3 0.7 -4 1.8 -3 2.1 -3 2.8 -2.8 3.6 -2.1 4 -1.5 4 -1.1 8 0.3 5 0.8 4 1.4 4 2 3.9 2.4 3.1 2.6 2.4 3 2 3.9 1.6 4.1 0.8 4 0.1 7 -1.8 3.8 -2.1 3.2 -2.5 3 -3.4 2 -3.1zM-29.0 40.0l4 -1.4 4 -2.4 3.2 -3.2 2.5 -4 1.9 -5 1.2 -6 0.5 -7 -0.5 -6 -1.2 -5 -2 -5 -2.5 -4 -3.1 -3.4 -4 -2.9 -4 -1.7 -5 -0.9 -4 0.2 -5 1.6 -4 2.5 -4 3.8 -3.5 4.8 -2.6 5 -1.8 6 -0.7 6 0.3 6 1.3 5 2.3 5 2.9 4 4.3 4 4.5 2.6 5 1.6 5 0.4z"/>
<path fill="#0dfff2" d="M64.0 64.2l-128.2 -0.2 0.2 -128.2 128.2 0.2 -0.2 54 -3 -3.5 -4 -3.5 -6 -3.4 -3 -0.9 -4 -0.4 -4 0.4 -4 1.2 -3.9 2.1 -3.1 2.4 -3 3.1 -2.4 3.5 -2.1 4 -1.4 4 -0.8 4 -0.3 5 1.2 9 1.4 4 2.1 4 2.3 3.1 3 2.8 6 3.3 4 1.1 4 0.3 4 -0.3 4 -1.1 4 -1.8 3 -2 3 -2.7 3 -3.8zM-30.6 42.0l4.6 -1.2 5 -2.6 3 -2.5 3 -4 2.1 -4.7 1.6 -6 0.7 -7 -0.1 -6 -0.9 -6 -1.5 -5 -2.5 -5 -3 -4 -4.4 -3.8 -4 -2.1 -4 -1.2 -5 -0.3 -5 1.1 -4.6 2.3 -4.4 3.6 -4 4.7 -3 5 -2.3 5.7 -1.5 7 -0.1 6 1 6 1.9 5 3.1 5 3.9 4.1 5 3.3 5 2 5 0.9z"/>
<path fill="#26ffd9" d="M64.0 64.1l-128.1 -0.1 0.1 -128.2 128.2 0.2 -0.2 51.6 -3 -3.1 -5 -3.7 -6 -3 -4 -0.8 -4 -0.1 -7 1.8 -4 2.2 -3 2.4 -3 3.2 -2.5 3.5 -2.1 4 -1.8 5 -1.1 9 0.3 5 1 5 1.4 4 2 4 2.1 3 2.7 2.7 3 2.1 4 1.9 4 1.2 4 0.4 4 -0.1 4 -0.9 4 -1.5 4 -2.3 3 -2.6 3 -3.3zM-27.3 43.0l4.3 -1.6 4 -2.6 3.7 -3.8 2.4 -4 1.9 -5.2 1.3 -6.8 0.4 -7 -0.4 -7 -1.4 -6 -1.9 -5 -3 -5 -3 -3.5 -4 -3.1 -5 -2.3 -5 -1 -4 0.2 -5 1.4 -5 2.9 -5 4.6 -4.4 5.8 -3 6 -2.3 7 -0.7 6 0.3 6 1.6 6 2.5 5.3 3.5 4.7 4.5 4 5 2.8 6 1.8 6 0.4z"/>
<path fill="#40ffbf" d="M64.0 64.1l-128.1 -0.1 0.1 -128.2 128.2 0.2 -0.2 49.4 -3.8 -3.4 -5.2 -3.4 -6 -2.5 -4 -0.7 -4 0.1 -7 2 -4 2.3 -3 2.4 -3.6 3.8 -2.7 4 -2 4 -1.7 5 -1.1 9 1.2 10 1.5 5 1.9 4 2.1 3 2.9 3 6.5 4 4 1.3 4 0.7 4 0.1 5 -0.7 4 -1.2 4 -2 4 -3 3 -3zM-28.1 45.0l5.1 -1.7 5 -3.1 3.3 -3.2 2.6 -4 2 -5 1.5 -7 0.7 -8 -0.4 -7 -1.1 -6 -2.1 -6 -2.8 -5 -3.7 -4.5 -4 -3.3 -5 -2.5 -5 -1.1 -4 0 -6 1.7 -5 2.9 -5 4.5 -4.3 5.3 -3.4 6 -2.9 7 -1.2 6 0 7 1.3 6 2.5 6.1 4 5.8 4.4 4.1 5.6 3.3 6 1.9 6 0.5z"/>
<path fill="#59ffa6" d="M64.0 64.1l-128.1 -0.1 0.1 -39 2.5 6 3.3 5 3.7 4 4.5 3.3 5 2.4 6 1.6 6 0.2 5 -0.7 5 -1.6 4.1 -2.2 3.9 -3.1 3.1 -3.9 2.5 -5 1.5 -5 1 -7 0.4 -7 -0.5 -7 -1.3 -6 -2.2 -6 -2.7 -5 -3.8 -4.7 -4 -3.3 -5 -2.6 -5 -1.3 -5 0 -4 1 -5 2.4 -4.7 3.5 -4 4 -3.8 5 -4.6 8 -1.9 4.8 0 -69 128.2 0.2 -0.2 47.2 -4 -3.2 -5.3 -3 -6.7 -2.6 -4 -0.5 -4 0.2 -7 2.1 -4 2.3 -3 2.5 -3.8 4 -2.7 4 -2.1 4 -1.8 5 -1 5 -0.4 5 1 10 1.4 5 1.6 4 2.5 4 2.3 2.6 3 2.4 4 2.3 4 1.5 5 1 4 0.3 5 -0.5 5 -1.4 4 -1.9 4 -2.7 3 -2.8z"/>
<path fill="#73ff8c" d="M64.0 64.1l-128.1 -0.1 0.1 -33.8 3 5.3 3.7 4.5 4.3 3.7 5 2.9 5 1.9 6 1 6 -0.2 5 -1.1 5 -2 5 -3.1 3.4 -3.1 2.6 -3.6 2.1 -4.4 1.5 -5 1.1 -7 0.3 -7 -0.3 -7 -1.1 -6 -2 -6 -3.1 -6 -3.5 -4.9 -4 -3.7 -5 -3.1 -5 -1.6 -5 -0.3 -4 0.7 -5 2 -4 2.5 -5 4.2 -4 4.5 -3.4 4.7 -4.6 7.8 0 -65 128.2 0.2 -0.2 45 -6 -4 -6 -2.8 -5 -1.5 -4 -0.4 -4 0.3 -4 1 -4 1.8 -4 2.6 -3.4 3 -3.4 4 -2.6 4 -2.4 5 -1.6 5 -0.9 5 -0.3 5 1.2 11 1.4 5 1.7 4 1.9 3 2.6 3 2.8 2.3 4 2.4 4 1.6 5 1.3 5 0.5 5 -0.3 5 -1.1 4 -1.6 4 -2.3 4 -3.3z"/>
<path fill="#8cff73" d="M64.0 64.1l-128.1 -0.1 0.1 -29.4 3 4.4 4 4.3 5 3.7 5 2.5 6 1.7 5 0.5 6 -0.6 5 -1.3 5 -2.1 5 -3.1 4 -3.6 2.9 -4 2.3 -5 1.4 -5 1 -7 0.3 -7 -0.4 -7 -1.2 -6 -2.4 -7 -3.1 -6 -3.8 -5.2 -4 -3.9 -4 -2.6 -5 -1.9 -5 -0.7 -4 0.4 -4 1.2 -5 2.6 -5 3.8 -4.5 4.3 -9.5 12.6 0 -61.8 128.1 0.2 -0.1 42.8 -6 -3.6 -7 -2.9 -5 -1.3 -4 -0.3 -4 0.4 -4 1 -4.2 1.9 -3.8 2.5 -4 3.6 -3.3 3.9 -3.1 5 -2.3 5 -1.7 5 -1 5 -0.4 5 0.3 6 1 6 2.9 9 4.2 6 3.4 2.9 3.5 2.1 5.5 2.4 5 1.3 5 0.5 5 -0.1 5 -0.8 5 -1.8 4 -2.2 4 -3z"/>
<path fill="#a6ff59" d="M64.0 64.1l-128.1 -0.1 0.1 -25.1 4 4.8 4 3.5 5 3.2 5 2.1 5 1.2 6 0.3 5 -0.7 6 -1.9 6 -2.8 5 -3.2 3.7 -3.4 3.1 -4 2.5 -5 1.5 -5 1.3 -8 0.4 -7 -0.6 -7 -1.4 -6 -3.2 -8 -3.2 -6 -4.1 -5.7 -4 -3.9 -4 -2.7 -5 -2 -4 -0.7 -5 0.4 -4 1.2 -5 2.4 -4.3 3 -4.7 4.1 -11 12.8 0 -59 128.1 0.1 -0.1 40.5 -6 -3.2 -9 -3.2 -5 -0.9 -4 -0.1 -4 0.6 -4 1.2 -4 2 -4 2.8 -4 3.8 -3.5 4.5 -3.1 5 -2.8 6 -1.9 6 -1 5 -0.3 5 1.3 11 1.7 6 1.7 4 4.5 6 3.4 2.7 3.9 2.3 5.1 2.2 5 1.5 6 0.9 5 0.1 5 -0.7 5 -1.5 5 -2.4 4 -2.7z"/>
<path fill="#bfff40" d="M3.0 1.3l-1 -0.5 -2 -2.4 -7.3 -13.4 -5.7 -7.6 -3 -2.8 -4 -2.7 -3 -1.4 -4 -1.1 -4 -0.2 -4 0.6 -4 1.4 -5 2.6 -9 7 -11 11.6 -0.1 -56.4 128.1 -0.1 0 38.3 -6 -2.9 -14 -3.8 -7 0.1 -7 2 -6 3.5 -6.3 5.9 -5 7 -7.7 13.9zM64.0 64.0l-128 0 0 -20.7 7 6.6 8 4.5 4 1.4 5 0.9 4 0 4 -0.5 5 -1.5 6 -2.7 6 -3.2 5.4 -3.8 5 -5 6.6 -10.7 1 -1.1 1 -0.3 2 1.9 5.2 7.2 4.8 4.3 8 4.6 9 3.2 8 1.4 8 -0.4 8 -2.3 7 -4z"/>
<path fill="#d9ff26" d="M3.0 -6.8l-1 -0.2 -2 -1.4 -9.8 -13.6 -5.2 -5.4 -6 -3.7 -3 -1 -4 -0.5 -4 0.2 -4 1.1 -8 3.9 -7.3 5.4 -12.7 12 -0.1 -54 128.2 0 -0.1 35.7 -6 -2.6 -14 -3.3 -7 -0.2 -6.4 1.4 -5.6 2.7 -5.6 4.3 -5.4 6 -8 11.3 -2 1.6zM64.0 64.0l-128 0 0 -15.8 6 5.2 8 4.4 7 2 7 0.2 6 -1.6 10 -5 10.8 -6.4 10.2 -7.9 3 -1 3 1 7.7 4.9 8.3 4.1 9 3.6 7 1.8 7 0.3 6 -0.8 6 -2 6 -3.2z"/>
<path fill="#f2ff0d" d="M3.0 -13.0l-2 -0.4 -2 -1.5 -9 -11 -5 -4.6 -6 -3.2 -6 -0.9 -4 0.4 -4 1.1 -8 3.8 -7 5 -9 8.2 -5 3.9 -0.1 -51.8 128.2 0 -0.1 33 -7 -2.5 -7 -0.9 -8 -1.9 -6 -0.1 -6 1.1 -5 2.1 -5 3.3 -5.1 4.9 -7.9 9.5 -2 1.8zM64.0 64.0l-98.9 0 4.9 -2.2 10.5 -6.8 16.5 -9.6 4 -1.9 3 -0.4 5 1.2 26 11.8 7 1.9 5 0.3 6 -0.8 6 -1.9 5 -2.5zM-47.0 64.0l-17 0 0 -9.7 8 5.8 5 2.4 4.6 1.5z"/>
<path fill="#fff200" d="M-64.0 -14.5l0 -49.6 128.1 0.1 -0.1 30.1 -7 -2.1 -9 -0.7 -8 -1.7 -6 -0.1 -5 0.9 -4.7 1.6 -4.3 2.4 -5 4.1 -9 9.3 -2 1.2 -2 0.2 -2 -0.7 -2 -1.6 -8.1 -8.9 -5 -4 -5.9 -2.4 -3 -0.3 -4 0.2 -7 2 -7 3.5 -7.3 5 -8.7 7.6zM39.0 64.0l-66.2 0 6.3 -6 8.9 -5.8 10 -4.9 3 -0.9 3 -0.2 7 1.6 11 4.8 6.1 3.4 11.9 8zM64.0 64.0l-5.2 0 5.2 -2.3zM-64.0 64.0l0 -0.3 0.4 0.3z"/>
<path fill="#ffd900" d="M-64.0 -16.8l0 -47.3 128.1 0.1 -0.1 26.7 -7 -1.6 -5 -0.4 -5 0.4 -10 -1.8 -5 -0.1 -5 0.7 -5 1.5 -4 2.1 -4 2.9 -8 7.3 -2 1.1 -2 0.2 -2 -0.6 -2 -1.3 -7.5 -7.1 -4.5 -3.1 -6 -1.8 -6 0.2 -7 2 -7 3.3 -8 5.3 -9 7.4zM31.0 64.0l-54.4 0 4 -5 7 -5 8.4 -4.1 4 -1.2 3 -0.3 7 1.1 10.5 4.5 7.1 5 2.6 3 1.2 2z"/>
<path fill="#ffbf00" d="M-62.0 -19.8l-2 0.7 0 -45 128 0.1 0 22.7 -8 -1.2 -5 0.1 -6 1 -11 -1.8 -9 0.3 -5 1 -4 1.6 -10 6.5 -2 1 -2 0.3 -3 -0.9 -7 -4.8 -4 -2.1 -5 -1.1 -6 0.3 -7 1.8 -8 3.6 -8 5 -11 8.5zM27.0 64.0l-47.5 0 1.7 -3 1.8 -2 6 -4.4 7 -3.2 7 -1.3 4 0.4 4 1 7.8 3.5 5.3 4 2.3 3z"/>
<path fill="#ffa600" d="M-62.0 -21.9l-2 0.2 0 -42.3 128 0 0 17.6 -11 -0.1 -5 0.9 -6 1.7 -10 -1.9 -10 -0.2 -6.6 1 -10.4 3.3 -3 0.5 -3 -0.3 -11 -2.5 -4 -0.1 -5 0.6 -7 2 -8 3.6 -9 5.4 -11 8.2zM24.0 64.0l-42.2 0 2.4 -4 5.8 -4.5 7 -3 6 -0.9 7 1.1 7 3.1 5.2 4.2 1.3 2z"/>
<path fill="#ff8c00" d="M-59.0 -24.7l-3 0.4 -2 -0.3 0 -39.4 128 0 0 10.1 -13 2.5 -12 4.6 -11 -1.9 -9 -0.5 -17 1.9 -14 0.3 -7 1.2 -8 2.5 -8 3.6 -9 5.5 -11 7.8zM21.0 64.0l-37.1 0 2.3 -4 4.8 -3.8 6 -2.5 6 -0.8 7 1.2 6 2.8 2.7 2.1 1.7 2 1.2 3z"/>
<path fill="#ff7300" d="M-58.0 -26.9l-3 0.1 -3 -1.6 0 -35.6 122.6 0 -13.6 7.7 -10 6.5 -13 -2 -10 -0.2 -21 2.2 -12 2.8 -7 2.7 -7 3.5 -8 4.8 -11 7.6zM19.0 64.0l-33.1 0 0.7 -2 1.5 -2 3.9 -3 5 -2.1 6 -0.8 6 1 5 2.2 4.2 3.7 1 2 0.2 1z"/>
<path fill="#ff5900" d="M-54.0 -29.9l-4 0.9 -3 -0.9 -1.8 -2.1 -0.8 -3 -0.2 -4 0.4 -4 4 -16 0.2 -3 -0.5 -2 98.9 0 -9 11 -11.2 -1.4 -8 -0.2 -14 1.6 -11 2.2 -9 3.1 -9 4.1 -8 4.6zM17.0 64.0l-29.3 0 1.5 -3 3.8 -3.2 5 -2 5 -0.5 5 0.8 4.6 1.9 3.4 3 1.1 2z"/>
<path fill="#ff4000" d="M-53.0 -32.0l-4 0.6 -1.9 -0.6 -1 -1 -1.2 -3 -0.1 -4 1.1 -5 2.2 -6 3.2 -6 4.5 -7 76.9 0 -2.1 6 -0.6 1.2 -1 0.7 -9 -0.7 -8 0.4 -11 1.7 -10 2.6 -8 3 -8 3.8 -9 5.3 -11 7.2zM15.0 64.0l-25.4 0 1.5 -3 2.3 -2 4.6 -2 4 -0.6 5 0.6 4 1.7 2.9 2.3 1.1 2z"/>
<path fill="#ff2600" d="M-53.0 -33.8l-3.4 -0.2 -1.9 -2 -0.6 -3 0.8 -5 1.9 -5 2.8 -5 3.6 -5 4.6 -5 61.9 0 -0.7 5 -16 1.5 -8 1.8 -8 2.5 -14 6.3 -19 11.6zM13.0 64.0l-21.5 0 0.8 -2 2.7 -2.4 3 -1.3 4 -0.7 4 0.4 4 1.7 2.5 2.3z"/>
<path fill="#ff0d00" d="M-52.0 -36.0l-2 -0.1 -2 -1.9 -0.5 -3 1.2 -5 2.3 -4.8 3 -4.5 4 -4.5 4.8 -4.2 49.4 0 -0.2 3 -1 0.6 -13 2.6 -12 4 -13 6.3 -17 10.4zM10.0 64.0l-16.4 0 0.9 -2 1.5 -1.3 3 -1.4 3 -0.4 4 0.6 3 1.4 1.7 2.1 0.3 1z"/>
<path fill="#f20000" d="M-48.0 -38.8l-4 0.2 -1.5 -1.4 -0.4 -3 1.1 -4 2.7 -5 3.1 -4 4.1 -4 5.5 -4 37.6 0 -0.3 3 -10.9 3.2 -10 4 -9 4.6 -15 9zM8.0 64.0l-12 0 0.4 -1 1.6 -1.5 4 -1.1 4 0.8 2.1 1.8 0.3 1z"/>
<path fill="#d90000" d="M-45.0 -41.7l-4 0.6 -1.6 -0.9 -0.6 -2 1 -4 2.3 -4 3.4 -4 3.5 -3.2 5 -3.4 2.6 -1.4 25.8 0 0.2 2 -1.4 2 -7.2 2.7 -8 3.7zM4.0 64.0l-3.9 0 1.9 -1.1 1 0.1z"/>
<path fill="#bf0000" d="M-42.0 -44.8l-3 0.8 -2 -0.4 -0.9 -1.6 0.3 -2 1.5 -3 2.3 -3 5.8 -5.1 5 -2.8 5.8 -2.1 10.4 0 1.4 1 0.5 2 -1.2 2 -1.5 1 -8.4 4.2z"/>
<path fill="#a60000" d="M-41.0 -47.9l-2 -0.4 -0.3 -0.7 0.4 -2 2.3 -3 3.6 -3.1 4 -2.2 5 -1.6 3.1 -0.1 1.9 1 0.1 1 -1.3 2 -3.9 3 -7.2 4z"/>
</g>
<path class="ct" d="M45.1 20.0l2.9 -0.7 2 -1 3.5 -3.3 2.3 -5 0.5 -5 -1.1 -5 -2.6 -4 -3.6 -2.7 -2 -0.7 -3 -0.3 -3 0.7 -2 0.9 -3.4 3.1 -2.5 5 -0.6 5 1 5 2.5 4.2 4 2.9 3 0.9 2.1 0M-31.0 26.0l4.4 -3 3 -5 1.3 -6 -0.6 -6 -2.1 -5 -3.9 -4 -4.1 -1.9 -5 0 -2.7 0.9 -2.3 1.4 -2 1.9 -2 2.9 -1.9 5.8 -0.2 4 0.5 3 1 3 1.6 2.9 4 3.9 5 1.9 3 0.1 3 -0.8M64.0 3.3l-1 -4.3 -1.7 -4 -2.6 -4 -2.7 -3 -3 -2.2 -3 -1.4 -3 -0.8 -4 -0.1 -4 0.8 -3 1.3 -3.5 2.4 -2.9 3 -2 3 -1.9 4 -1.1 4 -0.5 5 0.3 4 0.9 4 1.6 4 2.1 3.3 3 3.2 3 2 3 1.3 4 0.9 4 -0.1 4 -1 4 -2.1 3 -2.5 2.6 -3 1.9 -3 1.6 -4 0.9 -4.3M-30.3 36.0l4.3 -1.6 3 -1.9 3 -3.1 2 -3.3 1.6 -4.1 1.2 -5 0.4 -6 -0.4 -5 -1.2 -5 -1.6 -3.8 -2 -3.2 -3 -3.3 -3 -2.2 -4 -1.8 -4 -0.8 -4 0.2 -4 1.1 -4 2.4 -3 2.7 -3 3.9 -2.4 4.8 -1.5 5 -0.6 5 0.3 5 1.2 5 2 4.4 2.6 3.6 3.4 3.3 4 2.4 4 1.3 4 0.5 4.7 -0.5M64.0 -15.0l-3.4 -3 -5.6 -3.6 -6 -2.5 -4 -0.7 -4 0.1 -7 1.9 -4 2.3 -3.1 2.5 -3.7 4 -2.7 4 -2 4 -1.7 5 -1.1 9 1.1 10 1.5 5 1.7 3.6 2.2 3.4 2.8 2.9 6.4 4.1 4.6 1.6 4 0.7 4 0.1 5 -0.7 4 -1.2 4 -2 4 -2.9 3 -3M-64.0 17.9l1.2 6.1 2.5 6 3.2 5 3.9 4 5.2 3.6 5 2.1 6 1.2 5 0 6 -1.2 5 -2.2 4 -2.8 3.4 -3.7 2.6 -4.8 1.7 -5.2 1.2 -7 0.4 -7 -0.5 -7 -1.3 -6 -2.3 -6 -3.2 -5.4 -4 -4.4 -4.6 -3.2 -5.4 -2.1 -5 -0.6 -5 0.7 -5 2.1 -5 3.5 -4 3.9 -4.1 5.5 -3.3 6 -2.4 6 -1.2 6M64.0 -27.9l-6 -2.7 -14 -3.4 -7 -0.1 -6 1.3 -6 2.9 -6 4.7 -5.3 6.2 -7.7 11.1 -2 1.8 -1 0.2 -1 -0.1 -2 -1.5 -9.4 -13.5 -3.5 -4 -3.1 -2.8 -4 -2.5 -4 -1.5 -4 -0.6 -4 0.3 -7 2.1 -7 4.1 -6.2 4.9 -11.8 11.4M-64.0 47.5l6 5.2 6 3.6 6 2.3 7 1 4 -0.3 4 -1 10 -4.6 11.4 -6.7 10.6 -8.8 2 -0.9 3 0.4 9.5 6.3 8.1 4 8.4 3.2 7 1.8 6 0.4 7 -1 6 -1.9 6 -3.3M64.0 -50.3l-12 1.2 -12 3.5 -9 -1.7 -9 -0.5 -7 0.5 -13 2.2 -13 -0.7 -8 0.8 -8 2.3 -9 4.1 -8 4.8 -12 8.6 -4 1.6 -4 0.3M-16.9 64.0l2.2 -4 5.1 -4 6.6 -2.8 6 -0.8 7 1.1 6 2.7 4.7 3.8 2 4M5.9 -64.0l-0.2 3 -12.7 3 -10 3.4 -13 6.2 -18 10.8 -3 0.9 -3 -0.4 -1.5 -1.9 -0.3 -2 0.7 -4 1.7 -4 5.4 -7.8 7.9 -7.2M-5.8 64.0l0.8 -1.8 1.3 -1.2 2.7 -1.2 3 -0.5 3 0.3 3 1.2 1.4 1.2 0.9 2"/>
</g>
<g class="ol">
<circle cx="0" cy="0" r="60.7"/>
<path d="M10.9 -59.8L2.4 -69.2L0 -69.9L-2.4 -69.2L-10.9 -59.8"/>
<path d="M59.4 -11.6L61.9 -14.3L62.9 -14.4L64.3 -13.9L65.8 -11.6L65.6 .7L66.4 11.3L64.6 15.9L61.9 16.8L58.6 14.6"/>
<path d="M-59.4 -11.6L-61.9 -14.3L-62.9 -14.4L-64.3 -13.9L-65.8 -11.6L-65.6 .7L-66.4 11.3L-64.6 15.9L-61.9 16.8L-58.6 14.6"/>
</g>
</g>
<g transform="translate(690.9 313.4) scale(1.04 1.032)">
<g clip-path="url(#hc)">
<g filter="url(#bl)">
<rect x="-64" y="-64" width="128" height="128" fill="#00008c"/>
<path fill="#0000a6" d="M64.0 64.3l-128.3 -0.3 -0.2 -128 0.5 -0.5 128 0.1 0.4 0.4zM-33.6 24.0l1.1 -1 1 -2 0.3 -2 -0.1 -3 -1.7 -3.7 -1 -0.8 -2 -0.3 -1.3 0.8 -1.2 2 -0.6 2 0.1 3.3 0.9 2.7 1.1 1.5 2 0.9z"/>
<path fill="#0000bf" d="M64.0 64.3l-128.3 -0.3 -0.2 -128 0.5 -0.5 128 0.1 0.4 0.4zM-32.2 27.0l1.7 -2 1.2 -3 0.4 -3 -0.3 -4 -0.9 -3 -1.9 -2.9 -2 -1.3 -2 -0.2 -2.4 1.4 -1.9 3 -0.8 4 0.2 4 1.3 4 2.4 3 2.2 0.9z"/>
<path fill="#0000d9" d="M64.0 64.3l-128.3 -0.3 -0.1 -128 0.4 -0.4 128 0 0.4 0.4zM-32.0 30.0l2.2 -2 1.9 -4 0.7 -4 -0.2 -5 -1.5 -5 -1.9 -3 -2.2 -1.7 -3 -0.4 -3 1.5 -2.4 3.6 -1.1 5 0.1 5 1.4 5 2.8 4 3.2 1.6z"/>
<path fill="#0000f2" d="M64.0 64.2l-128.2 -0.2 -0.2 -128 0.4 -0.4 128 0 0.4 0.4zM-30.9 32.0l2.8 -3 1.7 -4 0.8 -5 -0.4 -6 -1.5 -5 -2.5 -4 -3 -2.2 -3 -0.3 -2 0.7 -2 1.5 -2.6 4.3 -1.2 6 0.3 6 2 6 2.9 4 3.6 1.9 2 0zM38.9 16.0l0.9 -2 -0.2 -3 -0.6 -1.2 -1 -0.7 -1 0.1 -1 1 -0.6 1.8 0.3 3 1.3 1.5 1 0.1z"/>
<path fill="#000dff" d="M64.0 64.2l-128.2 -0.2 -0.2 -128 0.4 -0.4 128 0.1 0.3 0.3zM-32.7 35.0l1.7 -0.6 2 -1.3 3 -4.5 1.5 -5.6 0.2 -7 -1.6 -7 -2.6 -5 -3.5 -3 -2 -0.7 -2 0 -2 0.6 -2 1.4 -3 4.3 -1.6 5.4 -0.2 7 1.5 7 2.7 5 3.6 3.3 2 0.7zM39.1 22.0l1.9 -1.6 1.4 -2.4 0.8 -3 0.1 -4 -0.7 -3 -1.6 -3 -2 -1.5 -2 -0.2 -2 1 -2 2.7 -1.1 4 -0.1 4 1.1 4 1.4 2 2.7 1.4z"/>
<path fill="#0026ff" d="M64.0 64.2l-128.2 -0.2 -0.2 -128 0.4 -0.4 128 0.1 0.3 0.3zM-32.2 37.0l2.2 -0.8 2 -1.5 3 -4.3 1.8 -6.4 0.3 -7 -1.3 -7 -2.8 -6.6 -2 -2.6 -2 -1.5 -4 -1.1 -4 1.2 -2 1.7 -2 2.7 -2.3 6.2 -0.5 8 1.5 8 1.3 3.4 2 3.2 4 3.6 2 0.7zM37.9 26.0l3.1 -1.5 2.6 -3.5 1.4 -4 0.5 -5 -0.8 -5 -1.7 -3.9 -3 -2.9 -3 -0.6 -3 1.3 -2.4 3.1 -1.6 4.3 -0.6 5.7 0.8 5 1.8 4 3 2.6z"/>
<path fill="#0040ff" d="M64.0 64.2l-128.2 -0.2 -0.2 -128 0.4 -0.4 128 0.1 0.3 0.3zM-32.2 39.0l2.2 -0.6 2.3 -1.4 1.9 -2 1.8 -3 2.1 -7 0.2 -8 -1.4 -8 -3 -7 -1.9 -2.6 -2 -1.7 -2 -1.1 -3 -0.4 -3 0.7 -2 1.2 -2 1.9 -2 3 -2.2 7 -0.5 8 1.7 9 3 6.3 2 2.5 3 2.2 2 0.8zM37.9 29.0l2.1 -0.7 2 -1.5 2.8 -3.8 1.8 -5 0.6 -6 -0.9 -6 -2.3 -5.3 -3 -3.1 -2 -0.9 -2 -0.3 -2 0.5 -2 1.3 -3 4 -1.9 5.8 -0.6 7 1.1 6 2.4 4.9 3 2.5 2 0.6z"/>
<path fill="#0059ff" d="M64.0 64.2l-128.2 -0.2 -0.2 -128 0.4 -0.4 128 0.1 0.3 0.3zM40.0 31.0l4 -3.4 2.6 -4.6 1.7 -6 0.2 -7 -1.1 -6 -2.4 -5.3 -2 -2.4 -2 -1.6 -4 -1.1 -2 0.3 -2.1 1.1 -1.9 1.8 -2.1 3.2 -1.6 4 -1 4 -0.4 9 1.6 7 1.5 3.1 2 2.4 2 1.5 2 0.7 2 0.1zM-28.7 40.0l2.7 -2 1.7 -2 2.8 -6 1.2 -8 -0.5 -8 -2.2 -8.7 -3.3 -6.3 -2.7 -2.8 -2 -1.2 -2 -0.7 -3 0 -3 1.2 -3 2.4 -2 2.8 -1.6 3.3 -1.2 4 -0.7 5 0.4 9 1.1 4.9 1.5 4.1 2.3 4 2.2 2.6 3 2.2 3 1 3 0z"/>
<path fill="#0073ff" d="M64.0 64.2l-128.2 -0.2 -0.2 -128 0.4 -0.4 128.3 0.4zM38.7 34.0l4.3 -2.6 2 -2.3 2 -3.3 2.5 -7.8 0.4 -8 -1.6 -8 -3.3 -6.4 -4 -3.6 -2 -0.8 -3 -0.3 -3 1 -2 1.6 -2 2.4 -1.7 3.1 -1.5 4 -1.1 5 -0.5 9 1.5 8 1.3 3 2 2.9 2.4 2.1 2.6 1.2 2 0.2zM-28.2 42.0l2.2 -1.4 2.5 -2.6 3 -6 1.5 -8 -0.4 -9 -2.4 -10 -3.3 -7 -2.5 -3 -2.4 -1.7 -2 -0.8 -3 -0.2 -3 0.8 -3 1.9 -3 3.5 -1.8 3.5 -1.4 4 -0.9 5 0.1 10.1 1 5.2 1.5 4.7 2 4 2.5 3.3 3 2.7 3 1.4 3 0.5z"/>
<path fill="#008cff" d="M64.0 64.1l-128.1 -0.1 -0.2 -128 0.3 -0.3 128.3 0.3zM39.7 36.0l2.3 -1.4 2.8 -2.6 3.7 -6 2.2 -8 0.3 -9 -1.6 -8 -3.4 -6.9 -2 -2.3 -3 -2.3 -2 -0.9 -3 -0.4 -3 0.8 -2.8 2 -2.2 2.7 -2 3.8 -1.8 5.5 -1.1 5 -0.5 6 0.1 5 0.7 5 1.3 4 1.5 3 2.4 3 2.4 1.8 3 1.1 3 0zM-27.7 44.0l2.7 -1.6 2.4 -2.4 1.9 -3 1.6 -4 1.4 -8 -0.5 -10 -2.6 -11 -3.8 -8 -2.4 -2.9 -2 -1.5 -3 -1.2 -3 -0.1 -3 0.9 -3 1.9 -3 3.3 -2 3.6 -1.8 5 -0.9 5 -0.4 6 0.5 6 1 5 1.6 5 2 4.1 3 4 3 2.6 4 1.8 3 0.3z"/>
<path fill="#00a6ff" d="M64.0 64.1l-128.1 -0.1 -0.2 -128 0.3 -0.3 128.3 0.3zM38.0 39.0l3 -1.4 3 -2.3 4.5 -6.3 2.9 -8 0.7 -5 0.2 -5 -0.5 -5 -1.1 -5 -1.7 -4.5 -2 -3.6 -2 -2.7 -3 -2.6 -3 -1.5 -3 -0.5 -3 0.5 -3 1.8 -2.7 3.1 -2.1 4 -2.1 6 -1.3 6 -0.7 6 -0.1 6 0.5 5 0.9 4 1.6 3.8 2.1 3.2 2.9 2.7 3 1.4 3 0.4zM-26.9 46.0l2.9 -1.6 2.5 -2.4 2 -3 1.7 -4 1 -4 0.6 -5 -0.6 -10 -3 -13 -2 -5 -2.2 -4 -2 -2.5 -3 -2.3 -3 -0.9 -3 0.1 -4 1.4 -3 2.3 -3 3.8 -2 4 -1.6 5.1 -1 6 -0.1 6 0.5 6 1.2 5.7 1.9 5.3 2.1 4 3 3.9 3 2.5 4 1.9 4 0.4z"/>
<path fill="#00bfff" d="M64.0 64.1l-128.1 -0.1 -0.2 -128 0.3 -0.3 128.2 0.3zM35.1 42.0l3.9 -1.1 3 -1.7 3 -2.7 3 -4 2.3 -4.5 1.7 -5 1 -5 0.4 -6 -0.4 -5 -1 -5.5 -1.9 -5.5 -2.1 -4.2 -3 -4 -3 -2.7 -3 -1.6 -4 -0.7 -3 0.6 -3 1.9 -2.3 2.7 -2.2 4 -2.2 6 -1.6 7 -1.1 7 -0.4 7 0.3 5 0.9 5 1.4 4 1.7 3 2.5 2.9 3 2 3 1zM-25.9 48.0l2.9 -1.5 2.7 -2.5 2.2 -3 1.8 -4 1.1 -4 0.5 -5 -0.5 -10 -1.4 -8 -1.9 -7 -2.2 -6 -2.3 -4.5 -2 -2.8 -3 -2.5 -3 -1 -3 0 -4 1.2 -3 2 -3 3.2 -3 5.1 -1.9 5.3 -1.1 6 -0.4 7 0.4 6.2 1 5.8 2 6.2 3 5.7 3 3.7 3 2.5 4 2 4 0.6z"/>
<path fill="#00d9ff" d="M64.0 64.1l-128.1 -0.1 -0.2 -128 0.3 -0.3 128.2 0.3zM37.0 44.0l4 -2 3 -2.3 3 -3.4 3 -4.7 2 -4.7 1.6 -5.9 0.7 -5 0 -6 -0.5 -5 -1.4 -6 -2.4 -6 -2.2 -4 -2.8 -3.6 -4 -3.4 -4 -1.7 -3 -0.3 -3 0.6 -3 1.9 -2.8 3.5 -2.2 4.5 -2.3 7.5 -2 10 -1.1 9 -0.2 7 0.6 5 1.3 5 2 4 2.4 3 3.3 2.4 3 1.1 3 0.2zM-24.5 50.0l3.5 -1.9 2.4 -2.1 2.3 -3 1.5 -3 1.2 -4 0.7 -5 -0.4 -10 -1.4 -8 -2.2 -9 -2.3 -7 -2.8 -6.3 -2 -3.2 -2.7 -2.5 -3.3 -1.1 -3 0 -4 1.1 -4 2.6 -3 3.1 -3.2 5.3 -2.2 6 -1.3 7 -0.4 7 0.5 7 1.4 7 2 6 2.6 5 3.6 4.9 3 2.3 5 2.1 4 0.5z"/>
<path fill="#00f2ff" d="M64.0 64.1l-128.1 -0.1 -0.2 -89 0.3 -39.3 128.2 0.3zM35.0 47.0l4 -1.6 4 -2.7 3.8 -3.7 2.8 -4 2.4 -5 2 -6.1 1.1 -5.9 0.2 -7 -0.5 -6 -1.7 -7 -2.1 -5.5 -3 -5.4 -3 -3.9 -4 -3.6 -4 -2 -4 -0.7 -3 0.5 -3 1.8 -3 3.8 -2 4.5 -2.4 8.5 -2.4 12 -1.6 11 -0.4 8 0.4 5 1.3 5 2 4 2.1 2.5 3 2.3 3 1.2 4 0.6zM-27.7 53.0l3.7 -0.6 3 -1.2 3.2 -2.2 3 -3 2 -3 1.2 -3 0.8 -4 0.2 -5 -0.8 -8 -1.7 -9 -2.8 -11 -3.1 -9.5 -3 -7.4 -2 -3.1 -2 -1.4 -3 -0.5 -5 0.8 -5 2.3 -4 3.5 -3 4.1 -2.5 5.2 -1.8 6 -1.1 7 -0.3 7 0.6 7 1.4 7 3.7 10.5 2.3 4.5 2.7 3.4 4 2.7 4 1z"/>
<path fill="#0dfff2" d="M64.0 64.1l-128.1 -0.1 0.1 -128.3 128.2 0.3zM33.1 50.0l5.9 -1.3 4 -1.8 4 -3.4 3 -4.2 2.7 -6.3 2.5 -10 0.9 -6 0.2 -6 -0.8 -7 -1.5 -6.3 -3 -7.5 -3 -5.2 -4 -4.9 -4 -3.4 -5 -2.5 -4 -0.6 -3 0.6 -3 1.9 -2 2.7 -2 4.8 -2.6 10.4 -4.7 24 -1.4 9 -0.4 7 0.4 4 1.4 4 2 3 2.3 2.2 3 1.8 4 1.4 4 0.2zM-29.7 57.0l9.1 -3 6.2 -4 5 -5 1.6 -3 0.6 -3 -0.2 -6 -1.7 -9 -10.2 -37 -1.7 -10.8 -1 -0.7 -14 5.1 -4 2.5 -3 2.9 -3 4 -3 6.1 -2 6.8 -1 6.5 -0.3 8.6 0.8 8 3.5 14.8 2.1 6.2 2.9 4.8 4 3.5 5 1.9z"/>
<path fill="#26ffd9" d="M64.0 64.0l-128 0 0 -128.3 128.2 0.3zM-29.0 63.0l4 -2.1 4.3 -3.9 3.7 -1.8 9 -5.8 5 -2.5 4 -1.1 2 -0.1 3 0.9 9.6 5.4 3.4 1.5 4 0.7 5 -0.2 3 0.9 3 0.3 4 -0.5 4 -1.6 4 -3 3 -3.3 3.9 -6.8 2.5 -8 1.7 -16 -0.2 -9 -1.9 -9 -4 -9.9 -5 -7.7 -6 -5.9 -6 -3.4 -5 -1.1 -3 0.3 -1.6 0.7 -2.9 3 -2.2 6 -5.3 28 -4 15.3 -2 5.4 -2 3.8 -2 2.3 -2 0.7 -2 -0.8 -2 -2 -4 -7.3 -4 -11.2 -5.2 -18.2 -2.2 -11 0.2 -4 1.9 -9 -0.1 -2 -1.1 -2 -2.5 -0.7 -2.1 0.7 -7 6 -10.9 6.5 -5 4.9 -3 4.6 -3 6.8 -1.7 6.2 -0.9 7 0.1 13 3.4 22 1.2 5 1.7 4 1.9 3 2.3 2.5 3 2.1 3 1.3 4 0.6z"/>
<path fill="#40ffbf" d="M64.0 64.0l-25 0 7 -5.6 3 -3.5 3 -4.5 4.1 -9.4 1.3 -5 0.8 -6 -0.2 -20 -1.4 -9 -1.7 -6 -2.5 -6 -3.4 -6 -3 -4.2 -7 -7 -4 -2.7 -4 -1.9 -4 -1.1 -3 -0.2 -3 0.8 -1.6 1.3 -1.3 2 -0.8 3 -2.5 23 -1.8 9.2 -2.5 8.8 -2.5 6.2 -2 3.1 -3 2.3 -3 0.1 -2 -1.2 -2 -2.2 -3 -5.3 -3 -7.9 -2.9 -10.1 -1.9 -8 -0.5 -6 0.6 -4 2.2 -8 0.3 -4 -0.4 -2 -1.2 -2 -1.2 -0.9 -2 -0.5 -2 0.3 -3 1.4 -8 7 -10 7.2 -5 5.6 -3.4 5.9 -2.4 6 -1.5 6 -0.9 7 -0.3 7 0.4 7 1.2 8 0.3 21 1.6 6 2.6 5 -16.6 0 0 -128.3 128.2 0.3zM20.0 64.0l-39 0 1.3 -4 1.5 -2 8.2 -5 4 -1.4 3 -0.3 4 0.2 3 0.8 9 4.6 3 1.1 2.7 6z"/>
<path fill="#59ffa6" d="M64.0 64.0l-9.4 0 5.6 -23 0.8 -8 -0.2 -8 -1.8 -10.1 -0.7 -9.9 -1.9 -8 -4.4 -10.5 -6 -9.2 -4 -4.5 -4 -3.6 -8.5 -5.2 -4.5 -1.7 -4 -0.7 -4 0.3 -2.3 1.1 -1.4 2 -0.4 2 1.1 13 0 7 -0.9 9 -1.8 9 -2.3 7.1 -3 5.3 -3 2.5 -3 0.2 -3 -1.8 -3 -4.2 -3 -7 -2.4 -8.1 -1.6 -7 -0.4 -6 0.8 -5 3.1 -10 0.3 -5 -0.6 -2 -1.7 -2 -2.3 -1 -2.2 -0.2 -3 0.5 -4 2.1 -16 13.4 -6 6.7 -4 7 -3 8.5 -1.6 9 -0.4 10 1 12 -0.3 5 -1 7 -3.2 11 -0.3 5 0.6 6 -6.8 0 0 -128.2 128.2 0.2zM10.0 64.0l-23.3 0 -0.3 -2 0.5 -2 0.6 -1 4.5 -2.9 4 -1.4 5 -0.1 4.7 1.4 4.6 3 0.9 1 0.1 2 -0.6 2z"/>
<path fill="#73ff8c" d="M-64.0 48.6l0 -112.8 128.1 0.2 -0.1 90.3 -1.4 -6.3 -2.6 -8.1 -1.3 -8.9 -1.7 -6.5 -3 -7.6 -5 -8.9 -6 -7.6 -7 -6.3 -8.2 -5.1 -8.8 -3.1 -5 -0.6 -4 0.4 -3.9 1.3 -2.2 2 -0.1 2 4.7 8 2.5 7.2 1 7.8 -0.4 9 -2.2 10 -1.4 3.8 -2 3.6 -2 2.1 -2 1 -3 -0.3 -2 -1.4 -3 -4.3 -2 -4.6 -2.6 -8.9 -1 -7 0.9 -7 6.9 -17 0.2 -3 -2.1 -2 -2.3 -1 -4 -0.8 -4 0.1 -4 1.3 -4 2.3 -14 12.2 -6 6.4 -4 6.3 -3.8 9.2 -2.1 10 -0.7 11 0.6 11 -1.1 8 -1 3 -1.9 3.1zM3.0 64.0l-10.7 0 -0.7 -1 -0.3 -2 0.3 -1 3.4 -1.9 3 -0.5 3 0.4 3 1.3 1.5 1.7 -0.6 2 -1 1z"/>
<path fill="#8cff73" d="M-63.0 40.3l-1 0.3 0 -104.8 128.1 0.2 -0.1 79.8 -3.5 -7.8 -1.7 -8 -1.9 -6 -4.9 -10.5 -4 -6.2 -4 -5 -9 -8.4 -10 -6.1 -5 -2 -6 -1.4 -9 -0.4 -19 1.8 -6.7 2.2 -5.9 4 -13.4 12.3 -4 4.7 -3 4.4 -4.1 8.6 -2.9 11 -1.1 11 0.2 12 -1.1 6.5 -1 2.7 -2 2.8zM2.0 11.1l-2 0.2 -2 -1 -3 -3.6 -3.1 -7.7 -1.5 -8 0.4 -6 2.2 -6.3 3 -4.7 2 -1.8 2 -0.7 2 0.3 2 1.1 3 3.6 2 5.1 1 6.4 -0.4 8 -1.6 7 -3 5.8z"/>
<path fill="#a6ff59" d="M-63.0 36.1l-1 0.1 0 -100.4 128.1 0.2 -0.1 74.3 -3 -4.8 -4.2 -13.5 -5.8 -11.4 -4 -5.7 -4 -4.8 -9 -8.1 -10 -6.2 -5 -2 -6 -1.6 -5 -0.7 -6 -0.1 -13 1.7 -8 2.4 -7.4 4.5 -13.6 12.7 -4 4.8 -3 4.4 -4 8.2 -3 10 -1.5 10.9 -0.3 14 -1.1 5 -2.1 4 -2 1.5zM2.0 6.6l-1 0.3 -2 -0.4 -3 -3.2 -2.7 -6.3 -0.8 -5 0.3 -5 1.7 -5 2.5 -3.4 3 -1.4 3 0.9 2 2.1 1.8 3.8 0.9 5 -0.1 6 -1.1 5 -1.8 4z"/>
<path fill="#bfff40" d="M-61.0 32.2l-3 0.7 0 -97.1 128.1 0.2 -0.1 70.2 -3 -3.9 -4.8 -13.3 -6.2 -11 -7 -8.9 -9 -8.2 -9.2 -5.9 -4.8 -2.2 -6 -2 -5 -0.9 -6 -0.4 -6 0.3 -6 1 -10 3.1 -7 4.2 -12 11 -4 4.4 -4 5.4 -4 7.2 -3.3 8.9 -2.4 12 -1 17 -1.5 5 -1.4 2zM2.0 1.0l-2 0.5 -2 -1.2 -2 -3 -0.8 -3.3 0 -4 0.8 -3.1 2 -3 2 -0.9 2 0.7 1 1 1.2 2.3 0.7 3 0.1 3.9 -0.6 3.1 -1.4 3z"/>
<path fill="#d9ff26" d="M-63.0 30.0l-1 0.1 0 -94.3 128.1 0.2 -0.1 66.9 -3 -3.4 -5 -12.3 -6 -10.2 -8 -9.8 -9 -8 -10 -6.2 -10 -3.6 -10 -1.4 -5 0.1 -6.1 0.9 -9.9 3.1 -8 4.6 -11 9.8 -8 9.5 -5 8.7 -4 10.9 -2.1 10.4 -0.9 15 -1 3.6 -2 3.7z"/>
<path fill="#f2ff0d" d="M-62.0 27.1l-2 0.4 0 -91.7 128.1 0.2 -0.1 64 -3 -2.9 -6 -13 -7 -10.8 -8 -9 -8.9 -7.3 -10.1 -5.8 -9.1 -3.2 -9.9 -1.3 -5.7 0.3 -5.3 0.9 -9.5 3.1 -8.5 5.1 -5 4.1 -6 5.9 -8 10.1 -4 7 -3.5 8.8 -2.8 12 -1.7 16.7 -2 4.6z"/>
<path fill="#fff200" d="M-64.0 25.1l0 -89.3 128.1 0.2 -0.1 61.4 -3 -2.5 -6.6 -12.9 -7.4 -10.8 -8 -8.6 -8.2 -6.6 -9.8 -5.7 -9.3 -3.3 -5.4 -1 -5.3 -0.3 -10 1 -9.8 3.3 -8.4 5 -9.8 8.8 -8 9.6 -5.1 8.6 -4.3 11 -2.2 10 -1.6 14 -0.8 3.2 -2 3.5 -1 0.8z"/>
<path fill="#ffd900" d="M-62.0 22.0l-2 0.8 0 -86.9 128 0.1 0 59 -2 -1.2 -2 -2.2 -6.2 -11.6 -7.8 -10.7 -8 -8.3 -9 -7 -9.2 -5 -9.8 -3.2 -9 -1.1 -10 1 -10 3.3 -8.4 5 -9.6 8.5 -8 9.7 -5 8.3 -4 9.5 -2.8 11 -2.2 15.9 -1.4 3.1z"/>
<path fill="#ffbf00" d="M-63.0 20.2l-1 0.3 0 -84.6 128 0.1 0 56.7 -2 -0.9 -2 -1.7 -6.9 -12.1 -8.1 -10.6 -8 -7.9 -8.6 -6.5 -9.2 -5 -9.2 -3 -10 -1.1 -9.9 1.1 -9.1 3.1 -9 5.3 -9 8 -8 9.6 -5 8.3 -3.8 8.7 -3.3 12 -2 14 -1.9 4.3z"/>
<path fill="#ffa600" d="M-64.0 18.3l0 -82.4 128 0.1 0 54.6 -2 -0.7 -2 -1.5 -8.4 -13.4 -8.2 -10 -7.4 -7 -8.1 -6 -9.5 -5 -9.4 -3 -9 -0.9 -9.2 0.9 -9.4 3 -8.8 5 -8.6 7.3 -8 9.2 -5 7.7 -4 8.2 -4 12.6 -3 16.6 -2 3.5z"/>
<path fill="#ff8c00" d="M-64.0 16.1l0 -80.2 127.3 0.1 -3.3 3.8 -0.9 3.2 0.8 4 4.1 10.1 0 31.3 -2 -0.3 -3 -2.3 -8 -12.3 -9 -10.6 -8 -7.1 -8 -5.6 -9 -4.4 -9 -2.7 -9 -0.7 -9 1 -9 3 -9 5.1 -8 6.7 -8 9.2 -5 7.6 -4 8.1 -4 11.9 -3 15.8 -2 3.8z"/>
<path fill="#ff7300" d="M-63.0 13.2l-1 0.7 0 -78 113.3 0.1 9.1 14 5.1 10 0.5 1.2 0 25 -1 0.2 -2 -0.5 -2 -1.4 -9.4 -13.5 -9.6 -10.6 -9 -7.4 -9.9 -6 -10.1 -3.8 -9 -1.4 -10 0.5 -10 2.9 -8 4.1 -7.5 5.7 -7.5 7.6 -6 8.1 -4 6.9 -3.7 8.4 -3 10 -2.7 13z"/>
<path fill="#ff5900" d="M-64.0 11.6l0 -75.7 107.9 0.1 6.1 5.9 5.9 7.1 4.5 7 3.1 7 0.5 1.3 0 19.6 -2 0.6 -2 -0.8 -2 -1.5 -8.7 -12.2 -9.3 -10.1 -9 -7.5 -9 -5.5 -10 -4 -10 -1.8 -10 0.6 -9 2.4 -8 3.8 -7.2 5.1 -7.3 7 -6.5 8.1 -4.2 6.9 -3.8 7.9 -3.5 10.1 -3.5 14.9 -1.3 2.1z"/>
<path fill="#ff4000" d="M-64.0 9.3l0 -73.4 104.6 0.1 7.4 6 6 6.4 4.6 6.6 4 8 1.4 4.5 0 13.6 -1 1.2 -2 0.3 -3 -1.7 -9.8 -12.9 -8.6 -9 -8.6 -7.1 -9.6 -5.9 -10.4 -4 -9 -1.4 -9.6 0.4 -9.4 2.4 -7.6 3.6 -7.4 5 -7.4 7 -6.5 8 -4.1 6.5 -4 8.1 -3.4 9.4 -3.6 14.4 -1.6 2.6z"/>
<path fill="#ff2600" d="M-63.0 6.1l-1 0.9 0 -71 101.8 0 8.2 5.7 7 7 5.8 8.3 3.6 8 1.5 6 0.1 5.9 -1 2.8 -2 1.2 -2 -0.6 -2 -1.5 -9.2 -11.8 -8.8 -9.1 -8.5 -6.9 -8.5 -5.2 -9 -3.8 -9 -1.8 -9 -0.1 -10 2.1 -9 3.8 -7 4.5 -7.3 6.5 -6.7 7.8 -5 7.6 -4 7.9 -3.6 9.7 -3.4 13z"/>
<path fill="#ff0d00" d="M-64.0 4.6l0 -68.6 99.2 0 8.8 5.4 8 7.4 5.9 8.2 4 9 1.1 5 0 4.9 -1 2.4 -2 0.8 -2 -0.8 -2 -1.6 -8.5 -10.7 -8.5 -8.6 -8 -6.5 -8 -5.1 -8.5 -3.8 -9.5 -2.5 -10 -0.3 -7 1.3 -9 3.4 -7.4 4.1 -7.6 6 -7 7.4 -5 6.8 -5 8.8 -4.1 10 -3.9 13.6z"/>
<path fill="#f20000" d="M-64.0 2.1l0 -66.1 44.6 0 1.7 4 -0.2 2 -2.1 0.6 -6 3.3 -8 5.6 -7 6.7 -6.8 8.8 -4.2 7 -3.3 7 -5.7 17.2zM60.0 -22.6l-2 -0.4 -2 -1.3 -11 -12.9 -11 -10.1 -6 -4.4 -6 -3.5 -10 -4.3 -2.4 -0.5 -1.9 -2 -0.1 -2 24.9 0 6.5 3.2 6 4 5 4.5 3.7 4.3 3.4 5 2.6 5 1.7 5 0.8 5 -0.6 4z"/>
<path fill="#d90000" d="M-64.0 -0.5l0 -63.5 35.1 0 3.1 4 1.4 4 -7.2 5 -5.4 4.5 -5 5.1 -5 6.3 -4 6.3 -4 7.8 -6 16.8zM60.0 -24.7l-2 0.2 -3 -1.7 -11.2 -12.8 -10.8 -9.6 -9 -6 -9 -4.4 -1.6 -2 -0.1 -2 0.9 -1 15.1 0 8.7 3.6 8 5.4 7 7.2 3.4 4.8 2.1 4 1.9 5 0.7 4 -0.1 3.5z"/>
<path fill="#bf0000" d="M-63.0 -3.9l-1 0.7 0 -40 5.5 -15.8 2.5 -3.3 4 -1.5 8 0.3 7 2 3 1.7 1.9 1.8 1.3 2 0.8 3 -10 8.7 -8.3 10.3 -5.8 10 -3 7 -2.9 8.4zM59.0 -26.3l-2 0.1 -3 -1.9 -10 -11.2 -10 -9 -7 -5 -8.1 -4.7 -1.4 -2 0 -2 1.5 -1.1 3 -0.6 4 0.2 4 0.8 8 3.2 8 5.4 6.8 7.1 4.9 8 1.6 4 0.8 4 -0.1 3z"/>
<path fill="#a60000" d="M58.0 -28.0l-2 0 -3 -2 -8.2 -9 -6.8 -6.5 -7 -5.6 -8.7 -5.9 -1.4 -2 0.2 -2 1.9 -1 3 -0.2 7 1.5 7 3.2 7 5.2 5.8 6.3 4.2 7 2.1 7 -0.1 2.4zM-63.0 -6.8l-1 0.5 0 -30.1 2.4 -5.6 4.6 -7.4 3 -3.2 3 -2.2 3 -1.3 3 -0.6 3 0 3 0.9 3 2.6 1 3.2 -8 8.3 -6.6 8.7 -5.5 10 -4.9 12.2z"/>
<path fill="#8c0000" d="M57.0 -29.7l-2 -0.2 -3 -2 -12 -12.3 -6 -5.2 -7.9 -5.6 -2.1 -3 -0.1 -1 0.6 -1 1.5 -0.6 3 0 6 1.6 6 3 6 4.6 5 5.4 4.2 7 1.8 6 -0.2 2zM-64.0 -9.8l0 -21.4 3 -7.1 4 -6.2 5 -4.7 5 -2.2 3 -0.1 2 0.8 1.6 1.7 0.4 3 -5.1 6 -5.1 7 -5 9 -3.8 8.9 -3 4.2z"/>
</g>
<path class="ct" d="M-30.9 36.0l1.9 -1.1 1.9 -1.9 2.5 -5 1.3 -6 -0.2 -7 -1.7 -7 -2.8 -5.3 -2 -2.1 -2 -1.2 -4 -0.6 -3 1.2 -2 1.7 -3 5 -1.5 7.3 0.3 7 1.9 7 3.3 5.3 4 2.8 3 0.4 2.1 -0.5M38.2 25.0l2.8 -1.5 2 -2.7 1.4 -3.8 0.5 -5 -0.8 -5 -2.1 -4 -2 -1.8 -3 -0.7 -3 1.5 -2 2.7 -1.5 4.3 -0.5 5 0.9 5 2.1 4 2 1.6 3.2 0.4M38.0 40.0l3 -1.4 3 -2.4 3 -3.5 2 -3.5 1.8 -4.2 1.3 -5 0.6 -5 0 -5 -1.7 -9.7 -2 -5.1 -2 -3.5 -3 -3.6 -3 -2.2 -3 -1.2 -3 -0.3 -3 0.8 -3 2.1 -2.2 2.7 -2.1 4 -2 6 -1.5 7 -0.9 7 0 6 0.5 5 1.2 4.7 2 4.3 2 2.6 3 2.5 3 1.2 3 0.3 3 -0.6M-26.9 47.0l2.9 -1.5 2.9 -2.5 3.5 -6 1.2 -4 0.7 -5 -0.3 -10 -2.6 -13 -2.1 -6 -2.3 -4.7 -2.4 -3.3 -2.6 -2.3 -3 -1.2 -3 -0.1 -4 1.1 -3 1.9 -3 3.2 -3 5.3 -1.7 5.1 -1.1 6 -0.2 6 0.4 6 1.1 6 1.6 5 2.4 5 2.9 4 3.6 3.1 4 2 4 0.5 3.1 -0.6M42.0 64.0l6 -6.2 5 -7.7 3.6 -9.1 1.8 -9 0.3 -6 -0.7 -8 0.2 -7 -0.8 -7 -2.8 -10 -4.6 -9.7 -3 -4.5 -4 -4.7 -4 -3.6 -5 -3.3 -5 -2.1 -4 -0.8 -3 0.2 -2.9 1.5 -1.4 2 -0.8 3 -2 22 -1.9 10 -2.1 8 -2.3 6 -2.6 4.3 -3 2.4 -3 0.1 -3 -2.1 -3 -4.4 -3 -7 -3 -9.7 -2.4 -9.6 -0.6 -6 0.6 -5 2.4 -9 0.2 -4 -0.6 -2 -1.6 -1.9 -3 -0.9 -3 0.6 -2.2 1.2 -7.8 6.9 -11 8.3 -3 3.3 -3 4.5 -3.9 9 -2.1 10 -0.5 12 1.4 13 -0.2 21 0.9 5 2.6 6M-18.1 64.0l1.1 -4 1.6 -2 7.4 -4.5 3 -1.1 4 -0.6 4 0.3 3 0.8 10 5.2 1.1 0.9 0.5 1 0.7 4M64.0 3.3l-3 -3.4 -4.7 -11.9 -6.3 -10.9 -7 -8.7 -9.1 -8.4 -9.3 -6 -4.6 -2.2 -6 -2 -5 -1.1 -6 -0.5 -11 1 -10 3.1 -8 4.5 -11 9.9 -8 9.5 -5.1 8.8 -3.9 10.9 -2 10.1 -0.9 15 -1.1 4.1 -2.3 3.9 -1.7 1.1 -2 0.4M64.0 -10.7l-2 -0.4 -3 -2.5 -7.8 -12.4 -8.4 -10 -7.8 -7.2 -8.2 -5.8 -9.8 -5 -9 -2.6 -9 -0.7 -9 1 -9.7 3.3 -8.3 4.9 -8.3 7.1 -7.7 8.9 -5 7.6 -4.1 8.5 -3.9 12 -3 16 -2 3.7 -2 1.3M64.0 -56.1l-1 1.9 -0.3 2.2 1.3 5.9M-9.4 -64.0l0.7 2 -0.9 2 -3.4 0.5 -6 2.3 -9 4.8 -8.3 6.4 -7.4 8 -5.3 7.5 -4.1 7.5 -4.1 10 -3.8 12.9 -3 4M34.5 -64.0l6.5 3.6 6 4.5 5.8 5.9 4.3 6 3.5 7 2 7 0.2 5 -0.8 2.5 -1 0.9 -2 0 -3 -2 -6.7 -8.4 -6.3 -6.9 -6.6 -6.1 -6.4 -5 -7 -4.3 -7 -3.3 -10 -3 -4.1 -0.4 -2.4 -2 -0.1 -1"/>
</g>
<g class="ol">
<circle cx="0" cy="0" r="60.7"/>
<path d="M10.9 -59.8L2.4 -69.2L0 -69.9L-2.4 -69.2L-10.9 -59.8"/>
<path d="M59.4 -11.6L61.9 -14.3L62.9 -14.4L64.3 -13.9L65.8 -11.6L65.6 .7L66.4 11.3L64.6 15.9L61.9 16.8L58.6 14.6"/>
<path d="M-59.4 -11.6L-61.9 -14.3L-62.9 -14.4L-64.3 -13.9L-65.8 -11.6L-65.6 .7L-66.4 11.3L-64.6 15.9L-61.9 16.8L-58.6 14.6"/>
</g>
</g>
<rect x="395" y="150" width="8" height="122" fill="url(#jet)"/>
<text class="sm" x="383.4" y="146.6">AVG.MAX</text>
<text class="sm" x="383.4" y="281.4">AVG. MIN</text>
<text class="lb" x="102.2" y="172.0">Detachment Cluster</text>
<text class="lb" x="102.2" y="184.5">Theta Band</text>
<text class="lb" x="102.2" y="197.0">Strong Phenomena</text>
<text class="lb" x="295.0" y="172.0">Detachment Cluster</text>
<text class="lb" x="295.0" y="184.5">Theta Band</text>
<text class="lb" x="295.0" y="197.0">Weak Phenomena</text>
<text class="lb" x="497.7" y="168.9">Bodily Changes Cluster</text>
<text class="lb" x="497.7" y="181.4">Gamma Band</text>
<text class="lb" x="497.7" y="193.9">Strong Phenomena</text>
<text class="lb" x="691.5" y="168.9">Bodily Changes Cluster</text>
<text class="lb" x="691.5" y="181.4">Gamma Band</text>
<text class="lb" x="691.5" y="193.9">Weak Phenomena</text>
<text class="lb" x="103.5" y="401.0">Detachment Cluster</text>
<text class="lb" x="103.5" y="413.5">Delta Band</text>
<text class="lb" x="103.5" y="426.0">Strong Phenomena</text>
<text class="lb" x="297.7" y="401.0">Detachment Cluster</text>
<text class="lb" x="297.7" y="413.5">Delta Band</text>
<text class="lb" x="297.7" y="426.0">Weak Phenomena</text>
<text class="lb" x="497.2" y="402.0">Mystical Experience Cluster</text>
<text class="lb" x="497.2" y="414.5">Delta Band</text>
<text class="lb" x="497.2" y="427.0">Strong Phenomena</text>
<text class="lb" x="691.2" y="402.0">Mystical Experience Cluster</text>
<text class="lb" x="691.2" y="414.5">Delta Band</text>
<text class="lb" x="691.2" y="427.0">Weak Phenomena</text>
<text class="lt" stroke="#000" stroke-width="0.35" transform="translate(200.0 96.4) scale(0.93 1)">A</text>
<text class="lt" transform="translate(592.3 92.3) scale(0.82 1)">B</text>
<text class="lt" transform="translate(193.2 321.2) scale(0.84 1)">C</text>
<text class="lt" transform="translate(594.9 319.4) scale(0.82 1)">D</text>
</svg></body></html>
